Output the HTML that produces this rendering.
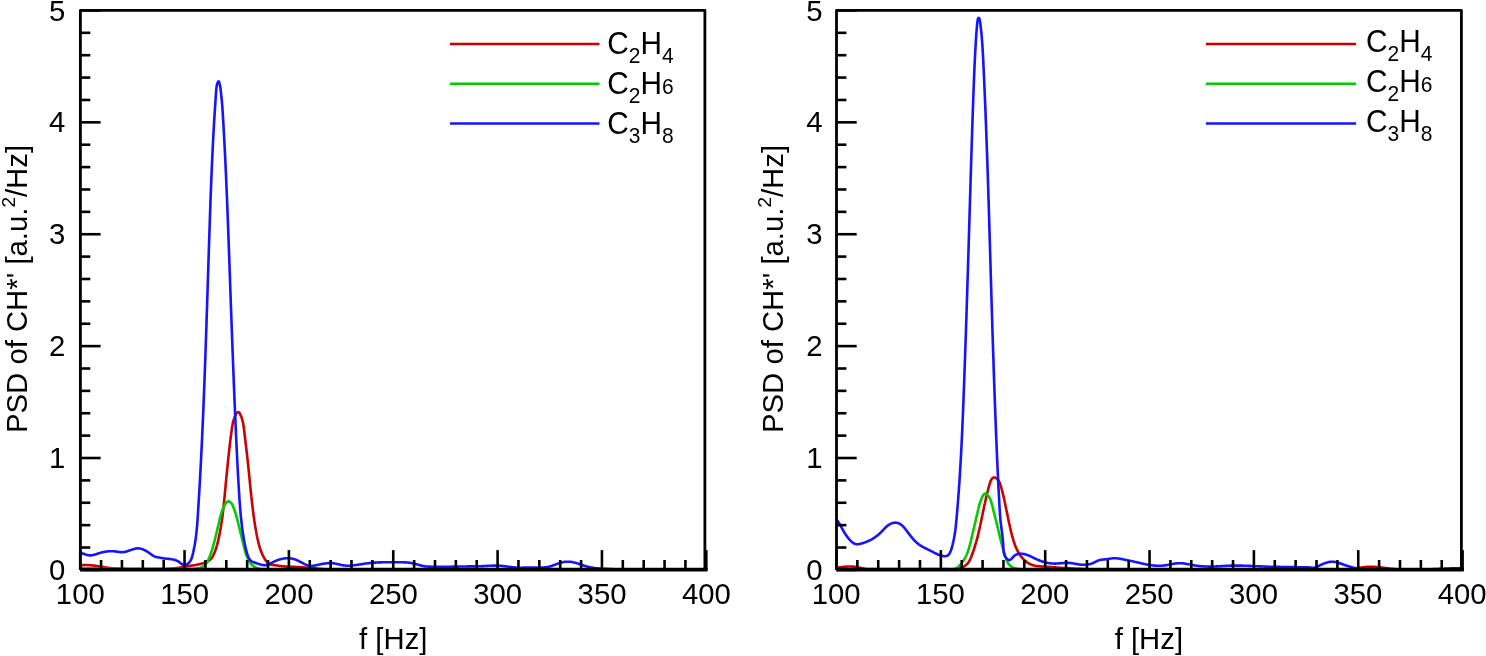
<!DOCTYPE html><html><head><meta charset="utf-8"><style>html,body{margin:0;padding:0;background:#fff;}svg{display:block;will-change:transform;}text{font-family:"Liberation Sans",sans-serif;fill:#000;}</style></head><body>
<svg width="1486" height="656" viewBox="0 0 1486 656">
<rect x="0" y="0" width="1486" height="656" fill="#fff"/>
<g fill="none" stroke-width="2.6" stroke-linejoin="round" stroke-linecap="round">
<path stroke="#cc0000" d="M80.8,565.3L81.3,565.2L81.8,565.2L82.3,565.2L82.8,565.1L83.3,565.1L83.8,565.1L84.3,565.1L84.8,565.0L85.3,565.0L85.8,565.0L86.3,565.0L86.8,565.1L87.3,565.1L87.8,565.1L88.3,565.1L88.8,565.1L89.3,565.2L89.8,565.2L90.3,565.2L90.7,565.3L91.2,565.3L91.7,565.4L92.2,565.4L92.7,565.5L93.2,565.5L93.7,565.6L94.2,565.6L94.7,565.7L95.2,565.8L95.7,565.8L96.2,565.9L96.7,566.0L97.2,566.1L97.7,566.1L98.2,566.2L98.7,566.3L99.2,566.4L99.7,566.5L100.2,566.5L100.7,566.6L101.2,566.7L101.7,566.8L102.2,566.9L102.7,566.9L103.1,567.0L103.6,567.1L104.1,567.2L104.6,567.3L105.1,567.3L105.6,567.4L106.1,567.5L106.6,567.6L107.1,567.7L107.6,567.7L108.1,567.8L108.6,567.9L109.1,567.9L109.6,568.0L110.1,568.1L110.6,568.1L111.1,568.2L111.6,568.3L112.1,568.3L112.6,568.4L113.1,568.4L113.6,568.5L114.1,568.5L114.6,568.6L115.1,568.6L115.6,568.7L116.1,568.7L116.5,568.7L117.0,568.8L117.5,568.8L118.0,568.8L118.5,568.9L119.0,568.9L119.5,568.9L120.0,568.9L120.5,569.0L121.0,569.0L121.5,569.0L122.0,569.0L122.5,569.1L123.0,569.1L123.5,569.1L124.0,569.1L124.5,569.1L125.0,569.1L125.5,569.2L126.0,569.2L126.5,569.2L127.0,569.2L127.5,569.2L128.0,569.2L128.5,569.2L129.0,569.2L129.5,569.2L130.0,569.2L130.5,569.2L131.0,569.2L131.5,569.3L132.0,569.3L132.5,569.3L133.0,569.3L133.5,569.3L134.0,569.3L134.5,569.3L135.0,569.3L135.5,569.3L136.0,569.3L136.5,569.3L137.0,569.3L137.5,569.3L138.0,569.3L138.5,569.3L139.0,569.3L139.5,569.3L140.0,569.3L140.5,569.3L141.0,569.3L141.5,569.3L142.0,569.4L142.5,569.4L143.0,569.4L143.5,569.4L144.0,569.4L144.5,569.4L145.0,569.4L145.5,569.4L146.0,569.4L146.5,569.4L147.0,569.4L147.5,569.5L148.0,569.5L148.5,569.5L149.0,569.5L149.5,569.5L150.0,569.5L150.5,569.5L151.0,569.5L151.5,569.5L152.0,569.5L152.5,569.5L153.0,569.5L153.5,569.6L154.0,569.6L154.5,569.6L155.0,569.6L155.5,569.6L156.0,569.6L156.6,569.6L157.1,569.6L157.6,569.6L158.1,569.6L158.6,569.6L159.1,569.6L159.6,569.5L160.1,569.5L160.6,569.5L161.1,569.5L161.6,569.5L162.0,569.5L162.5,569.5L163.0,569.5L163.5,569.4L164.0,569.4L164.5,569.4L165.0,569.4L165.5,569.3L166.0,569.3L166.5,569.3L167.0,569.3L167.5,569.2L168.0,569.2L168.5,569.1L169.0,569.1L169.5,569.1L170.0,569.0L170.5,569.0L171.0,568.9L171.5,568.9L172.0,568.8L172.5,568.7L173.0,568.7L173.5,568.6L174.0,568.5L174.4,568.5L174.9,568.4L175.4,568.3L175.9,568.2L176.4,568.2L176.9,568.1L177.4,568.0L177.9,567.9L178.4,567.8L178.9,567.7L179.4,567.7L179.8,567.6L180.3,567.5L180.8,567.4L181.3,567.3L181.8,567.2L182.3,567.1L182.8,567.0L183.3,567.0L183.8,566.9L184.3,566.8L184.8,566.7L185.3,566.6L185.8,566.5L186.2,566.5L186.7,566.4L187.2,566.3L187.7,566.2L188.2,566.2L188.7,566.1L189.2,566.0L189.7,565.9L190.2,565.9L190.7,565.8L191.2,565.7L191.7,565.6L192.2,565.6L192.7,565.5L193.2,565.4L193.7,565.3L194.2,565.3L194.7,565.2L195.2,565.1L195.6,565.0L196.1,564.9L196.6,564.8L197.1,564.7L197.6,564.6L198.1,564.5L198.6,564.4L199.1,564.3L199.6,564.2L200.0,564.1L200.5,563.9L201.0,563.8L201.5,563.7L202.0,563.6L202.4,563.4L202.9,563.3L203.4,563.1L203.9,563.0L204.3,562.8L204.8,562.6L205.3,562.5L205.7,562.3L206.2,562.1L206.6,561.9L207.1,561.7L207.5,561.4L207.9,561.2L208.3,560.9L208.8,560.7L209.2,560.4L209.5,560.1L209.9,559.8L210.3,559.5L210.6,559.2L211.0,558.8L211.3,558.5L211.6,558.1L211.9,557.7L212.2,557.3L212.4,556.9L212.7,556.4L212.9,556.0L213.2,555.5L213.4,555.1L213.6,554.6L213.8,554.1L214.0,553.7L214.2,553.2L214.4,552.7L214.6,552.3L214.8,551.8L215.0,551.3L215.2,550.8L215.3,550.3L215.5,549.9L215.7,549.4L215.8,548.9L216.0,548.4L216.2,548.0L216.3,547.5L216.5,547.0L216.6,546.5L216.7,546.0L216.9,545.6L217.0,545.1L217.1,544.6L217.3,544.1L217.4,543.6L217.5,543.2L217.7,542.7L217.8,542.2L217.9,541.7L218.0,541.2L218.1,540.7L218.2,540.3L218.4,539.8L218.5,539.3L218.6,538.8L218.7,538.3L218.8,537.8L218.9,537.3L219.0,536.8L219.1,536.4L219.2,535.9L219.3,535.4L219.4,534.9L219.5,534.4L219.6,533.9L219.7,533.4L219.8,532.9L219.9,532.5L220.0,532.0L220.1,531.5L220.2,531.0L220.3,530.5L220.3,530.0L220.4,529.5L220.5,529.0L220.6,528.5L220.7,528.0L220.8,527.6L220.9,527.1L220.9,526.6L221.0,526.1L221.1,525.6L221.2,525.1L221.3,524.6L221.3,524.1L221.4,523.6L221.5,523.1L221.6,522.6L221.6,522.1L221.7,521.6L221.8,521.1L221.8,520.7L221.9,520.2L222.0,519.7L222.1,519.2L222.1,518.7L222.2,518.2L222.3,517.7L222.3,517.2L222.4,516.7L222.5,516.2L222.5,515.7L222.6,515.2L222.6,514.7L222.7,514.2L222.8,513.7L222.8,513.2L222.9,512.7L222.9,512.2L223.0,511.7L223.1,511.2L223.1,510.7L223.2,510.2L223.2,509.7L223.3,509.2L223.4,508.7L223.4,508.3L223.5,507.8L223.5,507.3L223.6,506.8L223.6,506.3L223.7,505.8L223.7,505.3L223.8,504.8L223.8,504.3L223.9,503.8L223.9,503.3L224.0,502.8L224.0,502.3L224.1,501.8L224.1,501.3L224.2,500.8L224.2,500.3L224.3,499.8L224.3,499.3L224.4,498.8L224.4,498.3L224.5,497.8L224.5,497.3L224.6,496.8L224.6,496.3L224.7,495.8L224.7,495.3L224.8,494.8L224.8,494.3L224.9,493.8L224.9,493.3L225.0,492.8L225.0,492.3L225.0,491.8L225.1,491.3L225.1,490.8L225.2,490.3L225.2,489.8L225.3,489.3L225.3,488.8L225.4,488.3L225.4,487.8L225.5,487.3L225.5,486.8L225.6,486.3L225.6,485.8L225.6,485.3L225.7,484.8L225.7,484.3L225.8,483.8L225.8,483.3L225.9,482.8L225.9,482.3L226.0,481.8L226.0,481.3L226.1,480.8L226.1,480.3L226.2,479.8L226.2,479.3L226.3,478.8L226.3,478.3L226.3,477.8L226.4,477.3L226.4,476.8L226.5,476.4L226.5,475.9L226.6,475.4L226.6,474.9L226.7,474.4L226.7,473.9L226.8,473.4L226.8,472.9L226.9,472.4L226.9,471.9L227.0,471.4L227.0,470.9L227.1,470.4L227.1,469.9L227.2,469.4L227.2,468.9L227.3,468.4L227.3,467.9L227.4,467.4L227.4,466.9L227.5,466.4L227.5,465.9L227.6,465.4L227.6,464.9L227.7,464.4L227.7,463.9L227.8,463.4L227.8,462.9L227.9,462.4L227.9,461.9L228.0,461.4L228.0,460.9L228.1,460.4L228.1,459.9L228.2,459.4L228.2,458.9L228.3,458.5L228.3,458.0L228.4,457.5L228.4,457.0L228.5,456.5L228.6,456.0L228.6,455.5L228.7,455.0L228.7,454.5L228.8,454.0L228.8,453.5L228.9,453.0L228.9,452.5L229.0,452.0L229.0,451.5L229.1,451.0L229.2,450.5L229.2,450.0L229.3,449.5L229.3,449.0L229.4,448.5L229.4,448.0L229.5,447.5L229.6,447.0L229.6,446.5L229.7,446.0L229.7,445.5L229.8,445.1L229.8,444.6L229.9,444.1L230.0,443.6L230.0,443.1L230.1,442.6L230.1,442.1L230.2,441.6L230.3,441.1L230.3,440.6L230.4,440.1L230.5,439.6L230.5,439.1L230.6,438.6L230.6,438.1L230.7,437.6L230.8,437.1L230.8,436.6L230.9,436.1L231.0,435.6L231.0,435.1L231.1,434.6L231.1,434.1L231.2,433.7L231.3,433.2L231.3,432.7L231.4,432.2L231.5,431.7L231.5,431.2L231.6,430.7L231.7,430.2L231.7,429.7L231.8,429.2L231.9,428.7L232.0,428.2L232.0,427.7L232.1,427.2L232.2,426.7L232.3,426.2L232.3,425.7L232.4,425.2L232.5,424.8L232.6,424.3L232.7,423.8L232.8,423.3L232.9,422.8L233.0,422.3L233.1,421.8L233.3,421.3L233.4,420.8L233.5,420.4L233.7,419.9L233.8,419.4L234.0,418.9L234.2,418.4L234.3,418.0L234.5,417.5L234.7,417.0L234.9,416.5L235.1,416.1L235.4,415.6L235.6,415.1L235.8,414.7L236.1,414.2L236.4,413.7L236.6,413.3L236.9,412.9L237.3,412.5L237.6,412.3L238.0,412.1L238.3,412.1L238.7,412.2L239.0,412.4L239.3,412.7L239.6,413.1L239.8,413.5L240.1,414.0L240.3,414.5L240.5,414.9L240.7,415.4L240.9,415.9L241.1,416.3L241.3,416.8L241.5,417.3L241.7,417.8L241.8,418.3L242.0,418.7L242.1,419.2L242.3,419.7L242.4,420.2L242.5,420.7L242.6,421.2L242.8,421.7L242.9,422.1L243.0,422.6L243.1,423.1L243.2,423.6L243.2,424.1L243.3,424.6L243.4,425.1L243.5,425.6L243.6,426.1L243.6,426.6L243.7,427.1L243.8,427.6L243.8,428.1L243.9,428.6L244.0,429.1L244.0,429.6L244.1,430.0L244.1,430.5L244.2,431.0L244.3,431.5L244.3,432.0L244.4,432.5L244.4,433.0L244.5,433.5L244.6,434.0L244.6,434.5L244.7,435.0L244.7,435.5L244.8,436.0L244.9,436.5L244.9,437.0L245.0,437.5L245.0,438.0L245.1,438.5L245.2,439.0L245.2,439.5L245.3,440.0L245.3,440.5L245.4,441.0L245.5,441.5L245.5,442.0L245.6,442.5L245.6,443.0L245.7,443.4L245.8,443.9L245.8,444.4L245.9,444.9L245.9,445.4L246.0,445.9L246.1,446.4L246.1,446.9L246.2,447.4L246.2,447.9L246.3,448.4L246.4,448.9L246.4,449.4L246.5,449.9L246.5,450.4L246.6,450.9L246.6,451.4L246.7,451.9L246.8,452.4L246.8,452.9L246.9,453.4L246.9,453.9L247.0,454.4L247.0,454.9L247.1,455.4L247.1,455.9L247.2,456.4L247.3,456.9L247.3,457.4L247.4,457.8L247.4,458.3L247.5,458.8L247.5,459.3L247.6,459.8L247.6,460.3L247.7,460.8L247.7,461.3L247.8,461.8L247.9,462.3L247.9,462.8L248.0,463.3L248.0,463.8L248.1,464.3L248.1,464.8L248.2,465.3L248.2,465.8L248.3,466.3L248.3,466.8L248.4,467.3L248.4,467.8L248.5,468.3L248.5,468.8L248.6,469.3L248.6,469.8L248.7,470.3L248.7,470.8L248.8,471.3L248.8,471.8L248.9,472.3L248.9,472.8L249.0,473.3L249.0,473.8L249.1,474.3L249.1,474.8L249.2,475.3L249.2,475.8L249.3,476.3L249.3,476.7L249.4,477.2L249.4,477.7L249.5,478.2L249.5,478.7L249.6,479.2L249.6,479.7L249.7,480.2L249.7,480.7L249.8,481.2L249.8,481.7L249.9,482.2L249.9,482.7L250.0,483.2L250.0,483.7L250.1,484.2L250.1,484.7L250.2,485.2L250.2,485.7L250.3,486.2L250.3,486.7L250.4,487.2L250.4,487.7L250.5,488.2L250.5,488.7L250.6,489.2L250.6,489.7L250.7,490.2L250.7,490.7L250.8,491.2L250.8,491.7L250.9,492.2L250.9,492.7L251.0,493.2L251.0,493.7L251.1,494.2L251.1,494.7L251.2,495.2L251.2,495.7L251.3,496.2L251.4,496.6L251.4,497.1L251.5,497.6L251.5,498.1L251.6,498.6L251.6,499.1L251.7,499.6L251.7,500.1L251.8,500.6L251.8,501.1L251.9,501.6L252.0,502.1L252.0,502.6L252.1,503.1L252.1,503.6L252.2,504.1L252.2,504.6L252.3,505.1L252.4,505.6L252.4,506.1L252.5,506.6L252.5,507.1L252.6,507.6L252.7,508.1L252.7,508.6L252.8,509.1L252.8,509.6L252.9,510.1L253.0,510.6L253.0,511.1L253.1,511.5L253.2,512.0L253.2,512.5L253.3,513.0L253.4,513.5L253.4,514.0L253.5,514.5L253.5,515.0L253.6,515.5L253.7,516.0L253.7,516.5L253.8,517.0L253.9,517.5L254.0,518.0L254.0,518.5L254.1,519.0L254.2,519.5L254.2,520.0L254.3,520.5L254.4,521.0L254.5,521.4L254.5,521.9L254.6,522.4L254.7,522.9L254.8,523.4L254.8,523.9L254.9,524.4L255.0,524.9L255.1,525.4L255.1,525.9L255.2,526.4L255.3,526.9L255.4,527.4L255.5,527.9L255.6,528.4L255.6,528.9L255.7,529.3L255.8,529.8L255.9,530.3L256.0,530.8L256.1,531.3L256.2,531.8L256.3,532.3L256.3,532.8L256.4,533.3L256.5,533.8L256.6,534.3L256.7,534.8L256.8,535.2L256.9,535.7L257.0,536.2L257.1,536.7L257.2,537.2L257.3,537.7L257.4,538.2L257.5,538.7L257.6,539.2L257.7,539.7L257.8,540.1L258.0,540.6L258.1,541.1L258.2,541.6L258.3,542.1L258.4,542.6L258.5,543.1L258.7,543.6L258.8,544.0L258.9,544.5L259.0,545.0L259.2,545.5L259.3,546.0L259.4,546.5L259.6,546.9L259.7,547.4L259.9,547.9L260.0,548.4L260.2,548.8L260.3,549.3L260.5,549.8L260.7,550.3L260.8,550.7L261.0,551.2L261.2,551.7L261.4,552.1L261.6,552.6L261.7,553.0L261.9,553.5L262.1,554.0L262.3,554.4L262.6,554.9L262.8,555.3L263.0,555.8L263.2,556.2L263.5,556.7L263.7,557.1L263.9,557.5L264.2,558.0L264.4,558.4L264.7,558.8L265.0,559.3L265.2,559.7L265.5,560.1L265.8,560.5L266.1,560.9L266.4,561.3L266.7,561.7L267.1,562.1L267.4,562.5L267.7,562.8L268.1,563.2L268.4,563.5L268.8,563.8L269.2,564.1L269.7,564.3L270.1,564.4L270.6,564.6L271.1,564.7L271.6,564.8L272.1,564.9L272.6,564.9L273.1,565.0L273.6,565.0L274.1,565.1L274.6,565.2L275.1,565.2L275.6,565.3L276.1,565.4L276.6,565.4L277.1,565.5L277.6,565.6L278.1,565.7L278.6,565.7L279.1,565.8L279.6,565.9L280.1,566.0L280.6,566.0L281.0,566.1L281.5,566.2L282.0,566.2L282.5,566.3L283.0,566.3L283.5,566.4L284.0,566.4L284.5,566.5L285.0,566.5L285.5,566.5L286.0,566.6L286.5,566.6L287.0,566.6L287.5,566.6L288.0,566.7L288.5,566.7L289.0,566.7L289.5,566.7L290.0,566.7L290.5,566.8L291.0,566.8L291.5,566.8L292.0,566.8L292.5,566.8L293.0,566.8L293.5,566.9L294.0,566.9L294.5,566.9L295.0,566.9L295.5,566.9L296.0,567.0L296.5,567.0L297.0,567.0L297.5,567.0L298.0,567.0L298.5,567.1L299.0,567.1L299.5,567.1L300.0,567.1L300.5,567.2L301.0,567.2L301.5,567.2L302.0,567.3L302.5,567.3L303.0,567.3L303.5,567.4L304.0,567.4L304.5,567.4L305.0,567.5L305.5,567.5L306.0,567.5L306.5,567.6L307.0,567.6L307.5,567.7L308.0,567.7L308.5,567.7L309.0,567.8L309.5,567.8L310.0,567.9L310.5,567.9L311.0,568.0L311.5,568.0L312.0,568.1L312.5,568.1L312.9,568.2L313.4,568.2L313.9,568.3L314.4,568.3L314.9,568.4L315.4,568.4L315.9,568.5L316.4,568.5L316.9,568.6L317.4,568.6L317.9,568.7L318.4,568.7L318.9,568.8L319.4,568.8L319.9,568.8L320.4,568.9L320.9,568.9L321.4,569.0L321.9,569.0L322.4,569.0L322.9,569.1L323.4,569.1L323.9,569.1L324.4,569.2L324.9,569.2L325.4,569.2L325.9,569.3L326.4,569.3L326.9,569.3L327.4,569.4L327.9,569.4L328.4,569.4L328.9,569.4L329.4,569.4L329.9,569.5L330.4,569.5L330.9,569.5L331.4,569.5L331.9,569.5L332.4,569.5L332.9,569.6L333.4,569.6L333.9,569.6L334.4,569.6L334.9,569.6L335.4,569.6L335.9,569.6L336.4,569.6L336.9,569.6L337.4,569.6L337.9,569.7L338.4,569.7L338.9,569.7L339.4,569.7L339.9,569.7L340.4,569.7L340.9,569.7L341.4,569.7L341.9,569.7L342.4,569.7L342.9,569.7L343.4,569.7L343.9,569.7L344.4,569.7L344.9,569.7L345.4,569.7L345.9,569.7L346.4,569.7L346.9,569.7L347.4,569.7L347.9,569.7L348.4,569.7L348.9,569.7L349.4,569.7L349.9,569.7L350.4,569.7L350.9,569.7L351.4,569.7L351.9,569.7L352.4,569.7L352.9,569.7L353.4,569.7L353.9,569.7L354.4,569.6L354.9,569.6L355.4,569.6L355.9,569.6L356.4,569.6L356.9,569.6L357.4,569.6L357.9,569.6L358.4,569.6L358.9,569.6L359.4,569.6L359.9,569.6L360.4,569.6L360.9,569.6L361.4,569.6L361.9,569.6L362.4,569.6L362.9,569.6L363.4,569.6L363.9,569.6L364.4,569.6L364.9,569.6L365.4,569.6L365.9,569.6L366.4,569.6L366.9,569.6L367.4,569.6L367.9,569.6L368.4,569.6L368.9,569.6L369.4,569.6L369.9,569.6L370.4,569.6L370.9,569.6L371.4,569.6L371.9,569.6L372.4,569.6L372.9,569.6L373.4,569.6L373.9,569.6L374.4,569.6L374.9,569.6L375.4,569.6L375.9,569.6L376.4,569.6L376.9,569.6L377.4,569.6L377.9,569.6L378.4,569.6L378.9,569.6L379.4,569.6L379.9,569.6L380.4,569.6L380.9,569.6L381.4,569.6L381.9,569.6L382.4,569.6L382.9,569.6L383.4,569.6L383.9,569.6L384.4,569.6L384.9,569.6L385.4,569.6L385.9,569.6L386.4,569.6L386.9,569.6L387.4,569.6L387.9,569.6L388.4,569.6L388.9,569.6L389.4,569.6L389.9,569.6L390.4,569.6L390.9,569.6L391.4,569.6L391.9,569.6L392.4,569.6L392.9,569.6L393.4,569.6L393.9,569.6L394.4,569.6L394.9,569.6L395.4,569.6L395.9,569.6L396.4,569.6L396.9,569.6L397.4,569.6L397.9,569.6L398.4,569.6L398.9,569.6L399.4,569.6L399.9,569.6L400.4,569.6L400.9,569.6L401.4,569.6L401.9,569.6L402.4,569.6L402.9,569.6L403.4,569.6L403.9,569.6L404.4,569.6L404.9,569.6L405.4,569.6L405.9,569.6L406.4,569.6L406.9,569.6L407.4,569.6L407.9,569.6L408.4,569.6L408.9,569.6L409.4,569.6L409.9,569.6L410.4,569.6L410.9,569.6L411.4,569.6L411.9,569.6L412.4,569.6L412.9,569.6L413.4,569.6L413.9,569.6L414.4,569.6L414.9,569.6L415.4,569.6L415.9,569.6L416.4,569.6L416.9,569.6L417.4,569.6L417.9,569.6L418.4,569.6L418.9,569.6L419.4,569.6L419.9,569.6L420.4,569.6L420.9,569.6L421.4,569.6L421.9,569.6L422.4,569.6L422.9,569.6L423.4,569.6L423.9,569.6L424.4,569.6L424.9,569.6L425.4,569.6L425.9,569.6L426.4,569.6L426.9,569.6L427.4,569.6L427.9,569.6L428.4,569.6L428.9,569.6L429.4,569.6L429.9,569.6L430.4,569.6L430.9,569.6L431.4,569.6L431.9,569.6L432.4,569.6L432.9,569.6L433.4,569.6L433.9,569.6L434.4,569.6L434.9,569.6L435.4,569.6L435.9,569.6L436.4,569.6L436.9,569.6L437.4,569.6L437.9,569.6L438.4,569.6L438.9,569.6L439.4,569.6L439.9,569.6L440.4,569.6L440.9,569.6L441.4,569.6L441.9,569.6L442.4,569.6L442.9,569.6L443.4,569.6L443.9,569.6L444.4,569.6L444.9,569.6L445.4,569.6L445.9,569.6L446.4,569.6L446.9,569.6L447.4,569.6L447.9,569.6L448.4,569.6L448.9,569.6L449.4,569.6L449.9,569.6L450.4,569.6L450.9,569.6L451.4,569.6L451.9,569.6L452.4,569.6L452.9,569.6L453.4,569.6L453.9,569.6L454.4,569.6L454.9,569.6L455.4,569.6L455.9,569.6L456.4,569.6L456.9,569.6L457.4,569.6L457.9,569.6L458.4,569.6L458.9,569.6L459.4,569.6L459.9,569.6L460.4,569.6L460.9,569.6L461.4,569.6L461.9,569.6L462.4,569.6L462.9,569.6L463.4,569.6L463.9,569.6L464.4,569.6L464.9,569.6L465.4,569.6L465.9,569.6L466.4,569.6L466.9,569.6L467.4,569.6L467.9,569.6L468.4,569.6L468.9,569.6L469.4,569.6L469.9,569.6L470.4,569.6L470.9,569.6L471.4,569.6L471.9,569.6L472.4,569.6L472.9,569.6L473.4,569.6L473.9,569.6L474.4,569.6L474.9,569.6L475.4,569.6L475.9,569.6L476.4,569.6L476.9,569.6L477.4,569.6L477.9,569.6L478.4,569.6L478.9,569.6L479.4,569.6L479.9,569.6L480.4,569.6L480.9,569.6L481.4,569.6L481.9,569.6L482.4,569.6L482.9,569.6L483.4,569.6L483.9,569.6L484.4,569.6L484.9,569.6L485.4,569.6L485.9,569.6L486.4,569.6L486.9,569.6L487.4,569.6L487.9,569.6L488.4,569.6L488.9,569.6L489.4,569.6L489.9,569.6L490.4,569.6L490.9,569.6L491.4,569.6L491.9,569.6L492.4,569.6L492.9,569.6L493.4,569.6L493.9,569.6L494.4,569.6L494.9,569.6L495.4,569.6L495.9,569.6L496.4,569.6L496.9,569.6L497.4,569.6L497.9,569.6L498.4,569.6L498.9,569.6L499.4,569.6L499.9,569.6L500.4,569.6L500.9,569.6L501.4,569.6L501.9,569.6L502.4,569.6L502.9,569.6L503.4,569.6L503.9,569.6L504.4,569.6L504.9,569.6L505.4,569.6L505.9,569.6L506.4,569.6L506.9,569.6L507.4,569.6L507.9,569.6L508.4,569.6L508.9,569.6L509.4,569.6L509.9,569.6L510.4,569.6L510.9,569.6L511.4,569.6L511.9,569.6L512.4,569.6L512.9,569.6L513.4,569.6L513.9,569.6L514.4,569.6L514.9,569.6L515.4,569.6L515.9,569.6L516.4,569.6L516.9,569.6L517.4,569.6L517.9,569.6L518.4,569.6L518.9,569.6L519.4,569.6L519.9,569.6L520.4,569.6L520.9,569.6L521.4,569.6L521.9,569.6L522.4,569.6L522.9,569.6L523.4,569.6L523.9,569.6L524.4,569.6L524.9,569.6L525.4,569.6L525.9,569.6L526.4,569.6L526.9,569.6L527.4,569.6L527.9,569.6L528.4,569.6L528.9,569.6L529.4,569.6L529.9,569.6L530.4,569.6L530.9,569.6L531.4,569.6L531.9,569.6L532.4,569.6L532.9,569.6L533.4,569.6L533.9,569.6L534.4,569.6L534.9,569.6L535.4,569.6L535.9,569.6L536.4,569.6L536.9,569.6L537.4,569.6L537.9,569.6L538.4,569.6L538.9,569.6L539.4,569.6L539.9,569.6L540.4,569.6L540.9,569.6L541.4,569.6L541.9,569.6L542.4,569.6L542.9,569.6L543.4,569.6L543.9,569.6L544.4,569.6L544.9,569.6L545.4,569.6L545.9,569.6L546.4,569.6L546.9,569.6L547.4,569.6L547.9,569.6L548.4,569.6L548.9,569.6L549.4,569.6L549.9,569.6L550.4,569.6L550.9,569.6L551.4,569.6L551.9,569.6L552.4,569.6L552.9,569.6L553.4,569.6L553.9,569.6L554.4,569.6L554.9,569.6L555.4,569.6L555.9,569.6L556.4,569.6L556.9,569.6L557.4,569.6L557.9,569.6L558.4,569.6L558.9,569.6L559.4,569.6L559.9,569.6L560.4,569.6L560.9,569.6L561.4,569.6L561.9,569.6L562.4,569.6L562.9,569.6L563.4,569.6L563.9,569.6L564.4,569.6L564.9,569.6L565.4,569.6L565.9,569.6L566.4,569.6L566.9,569.6L567.4,569.6L567.9,569.6L568.4,569.6L568.9,569.6L569.4,569.6L569.9,569.6L570.4,569.6L570.9,569.6L571.4,569.6L571.9,569.6L572.4,569.6L572.9,569.6L573.4,569.6L573.9,569.6L574.4,569.6L574.9,569.6L575.4,569.6L575.9,569.6L576.4,569.6L576.9,569.6L577.4,569.6L577.9,569.6L578.4,569.6L578.9,569.6L579.4,569.6L579.9,569.6L580.4,569.6L580.9,569.6L581.4,569.6L581.9,569.6L582.4,569.6L582.9,569.6L583.4,569.6L583.9,569.6L584.4,569.6L584.9,569.6L585.4,569.6L585.9,569.6L586.4,569.6L586.9,569.6L587.4,569.6L587.9,569.6L588.4,569.6L588.9,569.6L589.4,569.6L589.9,569.6L590.4,569.6L590.9,569.6L591.4,569.6L591.9,569.6L592.4,569.6L592.9,569.6L593.4,569.6L593.9,569.6L594.4,569.6L594.9,569.6L595.4,569.6L595.9,569.6L596.4,569.6L596.9,569.6L597.4,569.6L597.9,569.6L598.4,569.6L598.9,569.6L599.4,569.6L599.9,569.6L600.4,569.6L600.9,569.6L601.4,569.6L601.9,569.6L602.4,569.6L602.9,569.6L603.4,569.6L603.9,569.6L604.4,569.6L604.9,569.6L605.4,569.6L605.9,569.6L606.4,569.6L606.9,569.6L607.4,569.6L607.9,569.6L608.4,569.6L608.9,569.6L609.4,569.6L609.9,569.6L610.4,569.6L610.9,569.6L611.4,569.6L611.9,569.6L612.4,569.6L612.9,569.6L613.4,569.6L613.9,569.6L614.4,569.6L614.9,569.6L615.4,569.6L615.9,569.6L616.4,569.6L616.9,569.6L617.4,569.6L617.9,569.6L618.4,569.6L618.9,569.6L619.4,569.6L619.9,569.6L620.4,569.6L620.9,569.6L621.4,569.6L621.9,569.6L622.4,569.6L622.9,569.6L623.4,569.6L623.9,569.6L624.4,569.6L624.9,569.6L625.4,569.6L625.9,569.6L626.4,569.6L626.9,569.6L627.4,569.6L627.9,569.6L628.4,569.6L628.9,569.6L629.4,569.6L629.9,569.6L630.4,569.6L630.9,569.6L631.4,569.6L631.9,569.6L632.4,569.6L632.9,569.6L633.4,569.6L633.9,569.6L634.4,569.6L634.9,569.6L635.4,569.6L635.9,569.6L636.4,569.6L636.9,569.6L637.4,569.6L637.9,569.6L638.4,569.6L638.9,569.6L639.4,569.6L639.9,569.6L640.4,569.6L640.9,569.6L641.4,569.6L641.9,569.6L642.4,569.6L642.9,569.6L643.4,569.6L643.9,569.6L644.4,569.6L644.9,569.6L645.4,569.6L645.9,569.6L646.4,569.6L646.9,569.6L647.4,569.6L647.9,569.6L648.4,569.6L648.9,569.6L649.4,569.6L649.9,569.6L650.4,569.6L650.9,569.6L651.4,569.6L651.9,569.6L652.4,569.6L652.9,569.6L653.4,569.6L653.9,569.6L654.4,569.6L654.9,569.6L655.4,569.6L655.9,569.6L656.4,569.6L656.9,569.6L657.4,569.6L657.9,569.6L658.4,569.6L658.9,569.6L659.4,569.6L659.9,569.6L660.4,569.6L660.9,569.6L661.4,569.6L661.9,569.6L662.4,569.6L662.9,569.6L663.4,569.6L663.9,569.6L664.4,569.6L664.9,569.6L665.4,569.6L665.9,569.6L666.4,569.6L666.9,569.6L667.4,569.6L667.9,569.6L668.4,569.6L668.9,569.6L669.4,569.6L669.9,569.6L670.4,569.6L670.9,569.6L671.4,569.6L671.9,569.6L672.4,569.6L672.9,569.6L673.4,569.6L673.9,569.6L674.4,569.6L674.9,569.6L675.4,569.6L675.9,569.6L676.4,569.6L676.9,569.6L677.4,569.6L677.9,569.6L678.4,569.6L678.9,569.6L679.4,569.6L679.9,569.6L680.4,569.6L680.9,569.6L681.4,569.6L681.9,569.6L682.4,569.6L682.9,569.6L683.4,569.6L683.9,569.6L684.4,569.6L684.9,569.6L685.4,569.6L685.9,569.6L686.4,569.6L686.9,569.6L687.4,569.6L687.9,569.6L688.4,569.6L688.9,569.6L689.4,569.6L689.9,569.6L690.4,569.6L690.9,569.6L691.4,569.6L691.9,569.6L692.4,569.6L692.9,569.6L693.4,569.6L693.9,569.6L694.4,569.6L694.9,569.6L695.4,569.6L695.9,569.6L696.4,569.6L696.9,569.6L697.4,569.6L697.9,569.6L698.4,569.6L698.9,569.6L699.4,569.6L699.9,569.6L700.4,569.6L700.9,569.6L701.4,569.6L701.9,569.6L702.4,569.6L702.9,569.6L703.4,569.6L703.9,569.6L704.4,569.6L704.9,569.6L705.0,569.6"/>
<path stroke="#00cc00" d="M80.8,568.5L81.3,568.5L81.8,568.5L82.3,568.5L82.8,568.5L83.3,568.5L83.8,568.5L84.3,568.5L84.8,568.5L85.3,568.5L85.8,568.5L86.3,568.5L86.8,568.5L87.3,568.5L87.8,568.5L88.3,568.5L88.8,568.5L89.3,568.5L89.8,568.5L90.3,568.5L90.8,568.5L91.3,568.6L91.8,568.6L92.3,568.6L92.8,568.6L93.3,568.6L93.8,568.6L94.3,568.6L94.8,568.6L95.3,568.6L95.8,568.6L96.3,568.6L96.8,568.6L97.3,568.6L97.8,568.6L98.3,568.6L98.8,568.6L99.3,568.6L99.8,568.6L100.3,568.6L100.8,568.6L101.3,568.6L101.8,568.6L102.3,568.6L102.8,568.6L103.3,568.6L103.8,568.6L104.3,568.6L104.8,568.6L105.3,568.6L105.8,568.6L106.3,568.6L106.8,568.6L107.3,568.6L107.8,568.6L108.3,568.6L108.8,568.6L109.3,568.6L109.8,568.6L110.3,568.6L110.8,568.6L111.3,568.6L111.8,568.6L112.3,568.6L112.8,568.6L113.3,568.6L113.8,568.6L114.3,568.6L114.8,568.6L115.3,568.6L115.8,568.6L116.3,568.7L116.8,568.7L117.3,568.7L117.8,568.7L118.3,568.7L118.8,568.7L119.3,568.7L119.8,568.7L120.3,568.7L120.8,568.7L121.3,568.7L121.8,568.7L122.3,568.7L122.8,568.7L123.3,568.7L123.8,568.7L124.3,568.7L124.8,568.7L125.3,568.7L125.8,568.7L126.3,568.7L126.8,568.7L127.3,568.7L127.8,568.7L128.3,568.7L128.8,568.7L129.3,568.7L129.8,568.7L130.3,568.7L130.8,568.7L131.3,568.7L131.8,568.7L132.3,568.7L132.8,568.7L133.3,568.7L133.8,568.7L134.3,568.7L134.8,568.7L135.3,568.7L135.8,568.7L136.3,568.7L136.8,568.7L137.3,568.7L137.8,568.7L138.3,568.7L138.8,568.7L139.3,568.7L139.8,568.8L140.3,568.8L140.8,568.8L141.3,568.8L141.8,568.8L142.3,568.8L142.8,568.8L143.3,568.8L143.8,568.8L144.3,568.8L144.8,568.8L145.3,568.8L145.8,568.8L146.3,568.8L146.8,568.8L147.3,568.8L147.8,568.8L148.3,568.8L148.8,568.8L149.3,568.8L149.8,568.8L150.3,568.8L150.8,568.8L151.3,568.8L151.8,568.8L152.3,568.8L152.8,568.8L153.3,568.8L153.8,568.8L154.3,568.8L154.8,568.8L155.3,568.8L155.8,568.8L156.3,568.8L156.8,568.8L157.3,568.8L157.8,568.8L158.3,568.8L158.8,568.8L159.3,568.8L159.8,568.8L160.3,568.9L160.8,568.9L161.3,568.9L161.8,568.9L162.3,568.9L162.8,568.9L163.3,568.9L163.8,568.9L164.3,568.9L164.8,568.9L165.3,568.9L165.8,568.8L166.3,568.8L166.8,568.8L167.3,568.8L167.8,568.8L168.3,568.8L168.8,568.8L169.3,568.8L169.8,568.8L170.3,568.8L170.8,568.8L171.3,568.8L171.8,568.8L172.3,568.8L172.8,568.8L173.3,568.8L173.9,568.8L174.4,568.8L174.9,568.8L175.4,568.8L175.9,568.8L176.4,568.8L176.9,568.8L177.4,568.8L177.9,568.8L178.4,568.8L178.9,568.8L179.4,568.8L179.9,568.8L180.4,568.8L180.8,568.8L181.3,568.8L181.8,568.8L182.3,568.9L182.8,568.9L183.3,568.9L183.8,568.9L184.3,568.9L184.8,568.9L185.3,568.9L185.7,568.9L186.2,569.0L186.7,569.0L187.2,569.0L187.7,569.0L188.2,569.0L188.7,569.0L189.1,569.0L189.6,569.0L190.1,569.0L190.6,569.0L191.1,569.0L191.6,569.0L192.1,569.0L192.7,569.0L193.2,568.9L193.7,568.9L194.2,568.9L194.7,568.8L195.3,568.8L195.8,568.7L196.3,568.6L196.9,568.6L197.4,568.5L198.0,568.4L198.5,568.3L199.0,568.2L199.5,568.0L200.0,567.9L200.5,567.7L201.0,567.5L201.5,567.3L201.9,567.1L202.4,566.9L202.8,566.6L203.2,566.4L203.6,566.1L204.0,565.8L204.3,565.5L204.7,565.2L205.0,564.9L205.4,564.5L205.7,564.2L206.0,563.8L206.3,563.4L206.5,563.0L206.8,562.6L207.1,562.2L207.3,561.8L207.6,561.4L207.8,560.9L208.0,560.5L208.3,560.1L208.5,559.6L208.7,559.1L208.9,558.7L209.1,558.2L209.3,557.7L209.4,557.3L209.6,556.8L209.8,556.3L210.0,555.8L210.2,555.4L210.3,554.9L210.5,554.4L210.7,553.9L210.8,553.4L211.0,553.0L211.1,552.5L211.3,552.0L211.5,551.5L211.6,551.0L211.8,550.6L211.9,550.1L212.1,549.6L212.2,549.1L212.4,548.6L212.5,548.2L212.6,547.7L212.8,547.2L212.9,546.7L213.1,546.2L213.2,545.7L213.3,545.3L213.5,544.8L213.6,544.3L213.8,543.8L213.9,543.3L214.0,542.9L214.1,542.4L214.3,541.9L214.4,541.4L214.5,540.9L214.7,540.4L214.8,540.0L214.9,539.5L215.0,539.0L215.1,538.5L215.3,538.0L215.4,537.5L215.5,537.1L215.6,536.6L215.7,536.1L215.9,535.6L216.0,535.1L216.1,534.6L216.2,534.2L216.3,533.7L216.5,533.2L216.6,532.7L216.7,532.2L216.8,531.7L216.9,531.2L217.0,530.8L217.1,530.3L217.3,529.8L217.4,529.3L217.5,528.8L217.6,528.3L217.7,527.9L217.8,527.4L217.9,526.9L218.0,526.4L218.2,525.9L218.3,525.4L218.4,524.9L218.5,524.4L218.6,524.0L218.7,523.5L218.8,523.0L219.0,522.5L219.1,522.0L219.2,521.5L219.3,521.0L219.4,520.6L219.5,520.1L219.6,519.6L219.8,519.1L219.9,518.6L220.0,518.1L220.1,517.6L220.2,517.1L220.4,516.6L220.5,516.2L220.6,515.7L220.8,515.2L220.9,514.7L221.0,514.2L221.2,513.7L221.3,513.3L221.4,512.8L221.6,512.3L221.7,511.8L221.9,511.3L222.1,510.9L222.2,510.4L222.4,509.9L222.6,509.4L222.8,509.0L223.0,508.5L223.2,508.0L223.4,507.6L223.6,507.1L223.8,506.7L224.0,506.2L224.3,505.8L224.5,505.3L224.7,504.9L225.0,504.4L225.3,504.0L225.5,503.6L225.8,503.1L226.1,502.7L226.4,502.4L226.8,502.1L227.1,501.8L227.5,501.6L227.9,501.4L228.3,501.4L228.7,501.4L229.1,501.5L229.5,501.7L230.0,501.9L230.3,502.2L230.7,502.5L231.1,502.9L231.4,503.3L231.7,503.7L232.0,504.1L232.2,504.6L232.5,505.1L232.7,505.6L232.9,506.1L233.1,506.6L233.3,507.1L233.5,507.6L233.7,508.0L233.9,508.5L234.1,509.0L234.3,509.5L234.4,509.9L234.6,510.4L234.8,510.9L234.9,511.3L235.1,511.8L235.2,512.3L235.4,512.7L235.5,513.2L235.7,513.7L235.8,514.1L235.9,514.6L236.1,515.1L236.2,515.5L236.3,516.0L236.5,516.5L236.6,516.9L236.7,517.4L236.9,517.9L237.0,518.4L237.1,518.9L237.3,519.3L237.4,519.8L237.5,520.3L237.6,520.8L237.8,521.3L237.9,521.8L238.0,522.3L238.1,522.7L238.3,523.2L238.4,523.7L238.5,524.2L238.6,524.7L238.7,525.2L238.9,525.7L239.0,526.2L239.1,526.7L239.2,527.1L239.3,527.6L239.5,528.1L239.6,528.6L239.7,529.1L239.8,529.6L239.9,530.1L240.0,530.6L240.2,531.1L240.3,531.5L240.4,532.0L240.5,532.5L240.6,533.0L240.8,533.5L240.9,534.0L241.0,534.5L241.1,535.0L241.2,535.4L241.4,535.9L241.5,536.4L241.6,536.9L241.7,537.4L241.8,537.9L242.0,538.4L242.1,538.8L242.2,539.3L242.3,539.8L242.4,540.3L242.6,540.8L242.7,541.3L242.8,541.7L242.9,542.2L243.0,542.7L243.2,543.2L243.3,543.7L243.4,544.1L243.5,544.6L243.6,545.1L243.7,545.6L243.9,546.1L244.0,546.6L244.1,547.0L244.2,547.5L244.3,548.0L244.4,548.5L244.5,549.0L244.7,549.4L244.8,549.9L244.9,550.4L245.0,550.9L245.2,551.4L245.3,551.9L245.5,552.4L245.6,552.9L245.8,553.4L245.9,553.9L246.1,554.4L246.3,554.9L246.4,555.3L246.6,555.8L246.8,556.3L247.0,556.8L247.2,557.3L247.4,557.8L247.6,558.2L247.8,558.7L248.1,559.2L248.3,559.6L248.5,560.1L248.8,560.5L249.0,561.0L249.3,561.4L249.6,561.8L249.8,562.2L250.1,562.6L250.4,563.0L250.7,563.4L251.0,563.8L251.3,564.2L251.7,564.5L252.0,564.8L252.3,565.2L252.7,565.5L253.1,565.8L253.4,566.1L253.8,566.3L254.2,566.6L254.6,566.9L255.0,567.1L255.4,567.3L255.8,567.5L256.2,567.7L256.7,567.9L257.1,568.0L257.6,568.2L258.0,568.3L258.5,568.5L258.9,568.6L259.4,568.7L259.9,568.8L260.4,568.9L260.9,569.0L261.4,569.0L261.9,569.1L262.4,569.2L262.9,569.2L263.4,569.3L263.9,569.3L264.4,569.4L264.9,569.4L265.4,569.4L265.9,569.4L266.4,569.5L267.0,569.5L267.5,569.5L268.0,569.5L268.5,569.5L269.0,569.5L269.6,569.5L270.1,569.5L270.6,569.5L271.1,569.5L271.6,569.6L272.1,569.6L272.7,569.6L273.2,569.6L273.7,569.6L274.2,569.6L274.7,569.6L275.2,569.6L275.7,569.6L276.2,569.6L276.7,569.6L277.2,569.6L277.7,569.6L278.2,569.6L278.7,569.6L279.2,569.6L279.7,569.6L280.2,569.6L280.8,569.6L281.3,569.6L281.8,569.6L282.3,569.6L282.8,569.6L283.3,569.6L283.8,569.6L284.3,569.6L284.7,569.6L285.2,569.6L285.7,569.6L286.2,569.6L286.7,569.6L287.2,569.6L287.7,569.6L288.2,569.6L288.7,569.6L289.2,569.6L289.7,569.6L290.2,569.6L290.7,569.6L291.2,569.6L291.7,569.6L292.2,569.6L292.7,569.6L293.2,569.6L293.7,569.6L294.2,569.6L294.7,569.6L295.2,569.6L295.7,569.6L296.2,569.6L296.7,569.6L297.2,569.6L297.7,569.6L298.2,569.6L298.7,569.6L299.2,569.6L299.7,569.6L300.2,569.6L300.7,569.6L301.2,569.6L301.7,569.6L302.2,569.6L302.7,569.6L303.2,569.6L303.7,569.6L304.2,569.6L304.7,569.6L305.2,569.6L305.7,569.6L306.2,569.6L306.7,569.6L307.2,569.6L307.7,569.6L308.2,569.6L308.7,569.6L309.2,569.6L309.7,569.6L310.2,569.6L310.7,569.6L311.2,569.6L311.7,569.6L312.2,569.6L312.7,569.6L313.2,569.6L313.7,569.6L314.2,569.6L314.7,569.6L315.2,569.6L315.7,569.6L316.2,569.6L316.7,569.6L317.2,569.6L317.7,569.6L318.2,569.6L318.7,569.6L319.2,569.6L319.7,569.6L320.2,569.6L320.7,569.6L321.2,569.6L321.7,569.6L322.2,569.6L322.7,569.6L323.2,569.6L323.7,569.6L324.1,569.6L324.6,569.6L325.1,569.6L325.6,569.6L326.1,569.6L326.6,569.6L327.1,569.6L327.6,569.6L328.1,569.6L328.6,569.6L329.1,569.6L329.6,569.6L330.1,569.6L330.6,569.6L331.1,569.6L331.6,569.6L332.1,569.6L332.6,569.6L333.1,569.6L333.6,569.6L334.1,569.6L334.6,569.6L335.1,569.6L335.6,569.6L336.1,569.6L336.6,569.6L337.1,569.6L337.6,569.6L338.1,569.6L338.6,569.6L339.1,569.6L339.6,569.6L340.1,569.6L340.6,569.6L341.1,569.6L341.6,569.6L342.1,569.6L342.6,569.6L343.1,569.6L343.6,569.6L344.1,569.6L344.6,569.6L345.1,569.6L345.6,569.6L346.1,569.6L346.6,569.6L347.1,569.6L347.6,569.6L348.1,569.6L348.6,569.6L349.1,569.6L349.6,569.6L350.1,569.6L350.6,569.6L351.1,569.6L351.6,569.6L352.1,569.6L352.6,569.6L353.1,569.6L353.6,569.6L354.1,569.6L354.6,569.6L355.1,569.6L355.6,569.6L356.1,569.6L356.6,569.6L357.1,569.6L357.6,569.6L358.1,569.6L358.6,569.6L359.1,569.6L359.6,569.6L360.1,569.6L360.6,569.6L361.1,569.6L361.6,569.6L362.1,569.6L362.6,569.6L363.1,569.6L363.6,569.6L364.1,569.6L364.6,569.6L365.1,569.6L365.6,569.6L366.1,569.6L366.6,569.6L367.1,569.6L367.6,569.6L368.1,569.6L368.6,569.6L369.1,569.6L369.6,569.6L370.1,569.6L370.6,569.6L371.1,569.6L371.6,569.6L372.1,569.6L372.6,569.6L373.1,569.6L373.6,569.6L374.1,569.6L374.6,569.6L375.1,569.6L375.6,569.6L376.1,569.6L376.6,569.6L377.1,569.6L377.6,569.6L378.1,569.6L378.6,569.6L379.1,569.6L379.6,569.6L380.1,569.6L380.6,569.6L381.1,569.6L381.6,569.6L382.1,569.6L382.6,569.6L383.1,569.6L383.6,569.6L384.1,569.6L384.6,569.6L385.1,569.6L385.6,569.6L386.1,569.6L386.6,569.6L387.1,569.6L387.6,569.6L388.1,569.6L388.6,569.6L389.1,569.6L389.6,569.6L390.1,569.6L390.6,569.6L391.1,569.6L391.6,569.6L392.1,569.6L392.6,569.6L393.1,569.6L393.6,569.6L394.1,569.6L394.6,569.6L395.1,569.6L395.6,569.6L396.1,569.6L396.6,569.6L397.1,569.6L397.6,569.6L398.1,569.6L398.6,569.6L399.1,569.6L399.6,569.6L400.1,569.6L400.6,569.6L401.1,569.6L401.6,569.6L402.1,569.6L402.6,569.6L403.1,569.6L403.6,569.6L404.1,569.6L404.6,569.6L405.1,569.6L405.6,569.6L406.1,569.6L406.6,569.6L407.1,569.6L407.6,569.6L408.1,569.6L408.6,569.6L409.1,569.6L409.6,569.6L410.1,569.6L410.6,569.6L411.1,569.6L411.6,569.6L412.1,569.6L412.6,569.6L413.1,569.6L413.6,569.6L414.1,569.6L414.6,569.6L415.1,569.6L415.6,569.6L416.1,569.6L416.6,569.6L417.1,569.6L417.6,569.6L418.1,569.6L418.6,569.6L419.1,569.6L419.6,569.6L420.1,569.6L420.6,569.6L421.1,569.6L421.6,569.6L422.1,569.6L422.6,569.6L423.1,569.6L423.6,569.6L424.1,569.6L424.6,569.6L425.1,569.6L425.6,569.6L426.1,569.6L426.6,569.6L427.1,569.6L427.6,569.6L428.1,569.6L428.6,569.6L429.1,569.6L429.6,569.6L430.1,569.6L430.6,569.6L431.1,569.6L431.6,569.6L432.1,569.6L432.6,569.6L433.1,569.6L433.6,569.6L434.1,569.6L434.6,569.6L435.1,569.6L435.6,569.6L436.1,569.6L436.6,569.6L437.1,569.6L437.6,569.6L438.1,569.6L438.6,569.6L439.1,569.6L439.7,569.6L440.2,569.6L440.7,569.6L441.2,569.6L441.7,569.6L442.2,569.6L442.7,569.6L443.2,569.6L443.7,569.6L444.2,569.6L444.7,569.6L445.2,569.6L445.7,569.6L446.2,569.6L446.7,569.6L447.2,569.6L447.7,569.6L448.2,569.6L448.7,569.6L449.2,569.6L449.7,569.6L450.2,569.6L450.7,569.6L451.2,569.6L451.7,569.6L452.2,569.6L452.7,569.6L453.2,569.6L453.7,569.6L454.2,569.6L454.7,569.6L455.2,569.6L455.7,569.6L456.2,569.6L456.7,569.6L457.2,569.6L457.7,569.6L458.2,569.6L458.7,569.6L459.2,569.6L459.7,569.6L460.2,569.6L460.7,569.6L461.2,569.6L461.7,569.6L462.2,569.6L462.7,569.6L463.2,569.6L463.7,569.6L464.2,569.6L464.7,569.6L465.2,569.6L465.7,569.6L466.2,569.6L466.7,569.6L467.2,569.6L467.7,569.6L468.2,569.6L468.7,569.6L469.2,569.6L469.7,569.6L470.2,569.6L470.7,569.6L471.2,569.6L471.7,569.6L472.2,569.6L472.7,569.6L473.2,569.6L473.7,569.6L474.2,569.6L474.7,569.6L475.2,569.6L475.7,569.6L476.2,569.6L476.7,569.6L477.2,569.6L477.7,569.6L478.2,569.6L478.7,569.6L479.2,569.6L479.7,569.6L480.2,569.6L480.7,569.6L481.2,569.6L481.7,569.6L482.2,569.6L482.7,569.6L483.2,569.6L483.7,569.6L484.2,569.6L484.7,569.6L485.2,569.6L485.7,569.6L486.2,569.6L486.7,569.6L487.2,569.6L487.7,569.6L488.2,569.6L488.7,569.6L489.2,569.6L489.7,569.6L490.2,569.6L490.7,569.6L491.2,569.6L491.7,569.6L492.2,569.6L492.7,569.6L493.2,569.6L493.7,569.6L494.2,569.6L494.7,569.6L495.2,569.6L495.7,569.6L496.2,569.6L496.7,569.6L497.2,569.6L497.7,569.6L498.2,569.6L498.7,569.6L499.2,569.6L499.7,569.6L500.2,569.6L500.7,569.6L501.2,569.6L501.7,569.6L502.2,569.6L502.7,569.6L503.2,569.6L503.7,569.6L504.2,569.6L504.7,569.6L505.2,569.6L505.7,569.6L506.2,569.6L506.7,569.6L507.2,569.6L507.7,569.6L508.2,569.6L508.7,569.6L509.2,569.6L509.7,569.6L510.2,569.6L510.7,569.6L511.2,569.6L511.7,569.6L512.2,569.6L512.7,569.6L513.2,569.6L513.7,569.6L514.2,569.6L514.7,569.6L515.2,569.6L515.7,569.6L516.2,569.6L516.7,569.6L517.2,569.6L517.7,569.6L518.2,569.6L518.7,569.6L519.2,569.6L519.7,569.6L520.2,569.6L520.7,569.6L521.2,569.6L521.7,569.6L522.2,569.6L522.7,569.6L523.2,569.6L523.7,569.6L524.2,569.6L524.7,569.6L525.2,569.6L525.7,569.6L526.2,569.6L526.7,569.6L527.2,569.6L527.7,569.6L528.2,569.6L528.7,569.6L529.2,569.6L529.7,569.6L530.2,569.6L530.7,569.6L531.2,569.6L531.7,569.6L532.2,569.6L532.7,569.6L533.2,569.6L533.7,569.6L534.2,569.6L534.7,569.6L535.2,569.6L535.7,569.6L536.2,569.6L536.7,569.6L537.2,569.6L537.7,569.6L538.2,569.6L538.7,569.6L539.2,569.6L539.7,569.6L540.2,569.6L540.7,569.6L541.2,569.6L541.7,569.6L542.2,569.6L542.7,569.6L543.2,569.6L543.7,569.6L544.2,569.6L544.7,569.6L545.2,569.6L545.7,569.6L546.2,569.6L546.7,569.6L547.2,569.6L547.7,569.6L548.2,569.6L548.7,569.6L549.2,569.6L549.7,569.6L550.2,569.6L550.7,569.6L551.2,569.6L551.7,569.6L552.2,569.6L552.7,569.6L553.2,569.6L553.7,569.6L554.2,569.6L554.7,569.6L555.2,569.6L555.7,569.6L556.2,569.6L556.7,569.6L557.2,569.6L557.7,569.6L558.2,569.6L558.7,569.6L559.2,569.6L559.6,569.6L560.1,569.6L560.6,569.6L561.1,569.6L561.6,569.6L562.1,569.6L562.6,569.6L563.1,569.6L563.6,569.6L564.1,569.6L564.6,569.6L565.1,569.6L565.6,569.6L566.1,569.6L566.6,569.6L567.1,569.6L567.6,569.6L568.1,569.6L568.6,569.6L569.1,569.6L569.6,569.6L570.1,569.6L570.6,569.6L571.1,569.6L571.6,569.6L572.1,569.6L572.6,569.6L573.1,569.6L573.6,569.6L574.1,569.6L574.6,569.6L575.1,569.6L575.6,569.6L576.1,569.6L576.6,569.6L577.1,569.6L577.6,569.6L578.1,569.6L578.6,569.6L579.1,569.6L579.6,569.6L580.1,569.6L580.6,569.6L581.1,569.6L581.6,569.6L582.1,569.6L582.6,569.6L583.1,569.6L583.6,569.6L584.1,569.6L584.6,569.6L585.1,569.6L585.6,569.6L586.1,569.6L586.6,569.6L587.1,569.6L587.6,569.6L588.1,569.6L588.6,569.6L589.1,569.6L589.6,569.6L590.1,569.6L590.6,569.6L591.1,569.6L591.6,569.6L592.1,569.6L592.6,569.6L593.1,569.6L593.6,569.6L594.1,569.6L594.6,569.6L595.1,569.6L595.6,569.6L596.1,569.6L596.6,569.6L597.1,569.6L597.6,569.6L598.1,569.6L598.6,569.6L599.1,569.6L599.6,569.6L600.1,569.6L600.6,569.6L601.1,569.6L601.6,569.6L602.1,569.6L602.6,569.6L603.1,569.6L603.6,569.6L604.1,569.6L604.6,569.6L605.1,569.6L605.6,569.6L606.1,569.6L606.6,569.6L607.1,569.6L607.6,569.6L608.1,569.6L608.6,569.6L609.1,569.6L609.6,569.6L610.1,569.6L610.6,569.6L611.1,569.6L611.6,569.6L612.1,569.6L612.6,569.6L613.1,569.6L613.6,569.6L614.1,569.6L614.6,569.6L615.1,569.6L615.6,569.6L616.1,569.6L616.6,569.6L617.1,569.6L617.6,569.6L618.1,569.6L618.6,569.6L619.1,569.6L619.6,569.6L620.1,569.6L620.6,569.6L621.1,569.6L621.6,569.6L622.1,569.6L622.6,569.6L623.1,569.6L623.6,569.6L624.1,569.6L624.6,569.6L625.1,569.6L625.6,569.6L626.1,569.6L626.6,569.6L627.1,569.6L627.6,569.6L628.1,569.6L628.6,569.6L629.1,569.6L629.6,569.6L630.1,569.6L630.6,569.6L631.1,569.6L631.6,569.6L632.1,569.6L632.6,569.6L633.1,569.6L633.6,569.6L634.1,569.6L634.6,569.6L635.1,569.6L635.6,569.6L636.1,569.6L636.6,569.6L637.1,569.6L637.6,569.6L638.1,569.6L638.6,569.6L639.1,569.6L639.6,569.6L640.1,569.6L640.6,569.6L641.1,569.6L641.6,569.6L642.1,569.6L642.6,569.6L643.1,569.6L643.6,569.6L644.1,569.6L644.6,569.6L645.1,569.6L645.6,569.6L646.1,569.6L646.6,569.6L647.1,569.6L647.6,569.6L648.1,569.6L648.6,569.6L649.1,569.6L649.6,569.6L650.1,569.6L650.6,569.6L651.1,569.6L651.6,569.6L652.1,569.6L652.6,569.6L653.1,569.6L653.6,569.6L654.1,569.6L654.6,569.6L655.1,569.6L655.6,569.6L656.1,569.6L656.6,569.6L657.1,569.6L657.6,569.6L658.1,569.6L658.6,569.6L659.1,569.6L659.6,569.6L660.1,569.6L660.6,569.6L661.1,569.6L661.6,569.6L662.1,569.6L662.6,569.6L663.1,569.6L663.6,569.6L664.1,569.6L664.6,569.6L665.1,569.6L665.6,569.6L666.1,569.6L666.6,569.6L667.1,569.6L667.6,569.6L668.1,569.6L668.6,569.6L669.1,569.6L669.6,569.6L670.1,569.6L670.6,569.6L671.1,569.6L671.6,569.6L672.1,569.6L672.6,569.6L673.1,569.6L673.6,569.6L674.1,569.6L674.6,569.6L675.1,569.6L675.6,569.6L676.1,569.6L676.6,569.6L677.1,569.6L677.6,569.6L678.1,569.6L678.6,569.6L679.1,569.6L679.6,569.6L680.1,569.6L680.6,569.6L681.1,569.6L681.6,569.6L682.1,569.6L682.6,569.6L683.1,569.6L683.6,569.6L684.1,569.6L684.6,569.6L685.1,569.6L685.6,569.6L686.1,569.6L686.6,569.6L687.1,569.6L687.6,569.6L688.1,569.6L688.6,569.6L689.1,569.6L689.6,569.6L690.1,569.6L690.6,569.6L691.1,569.6L691.6,569.6L692.1,569.6L692.6,569.6L693.1,569.6L693.6,569.6L694.1,569.6L694.6,569.6L695.1,569.6L695.6,569.6L696.1,569.6L696.6,569.6L697.1,569.6L697.6,569.6L698.1,569.6L698.6,569.6L699.1,569.6L699.6,569.6L700.1,569.6L700.6,569.6L701.1,569.6L701.6,569.6L702.1,569.6L702.6,569.6L703.1,569.6L703.6,569.6L704.1,569.6L704.6,569.6L705.0,569.6"/>
<path stroke="#1414ff" d="M80.8,553.0L81.3,553.1L81.8,553.2L82.2,553.4L82.7,553.5L83.2,553.7L83.7,553.8L84.2,554.0L84.6,554.2L85.1,554.3L85.6,554.5L86.1,554.6L86.6,554.8L87.0,554.9L87.5,555.0L88.0,555.2L88.5,555.3L89.0,555.3L89.4,555.4L89.9,555.4L90.4,555.4L90.9,555.4L91.4,555.4L91.8,555.3L92.3,555.2L92.8,555.1L93.3,555.0L93.8,554.9L94.2,554.8L94.7,554.6L95.2,554.5L95.7,554.3L96.2,554.2L96.7,554.0L97.1,553.8L97.6,553.7L98.1,553.5L98.6,553.3L99.1,553.2L99.6,553.0L100.0,552.9L100.5,552.8L101.0,552.6L101.5,552.5L102.0,552.4L102.5,552.3L103.0,552.2L103.5,552.0L104.0,551.9L104.4,551.9L104.9,551.8L105.4,551.7L105.9,551.6L106.4,551.5L106.9,551.5L107.4,551.4L107.9,551.4L108.4,551.3L108.9,551.3L109.4,551.2L109.9,551.2L110.4,551.2L110.9,551.2L111.4,551.2L111.9,551.2L112.4,551.2L112.9,551.2L113.4,551.2L113.9,551.3L114.4,551.3L114.9,551.4L115.4,551.4L115.9,551.5L116.4,551.6L116.9,551.6L117.4,551.7L117.9,551.8L118.4,551.9L118.9,551.9L119.4,552.0L119.9,552.0L120.4,552.1L120.9,552.1L121.3,552.2L121.8,552.2L122.3,552.2L122.8,552.1L123.3,552.1L123.8,552.0L124.3,552.0L124.8,551.9L125.2,551.8L125.7,551.7L126.2,551.5L126.7,551.4L127.2,551.3L127.6,551.1L128.1,551.0L128.6,550.8L129.1,550.6L129.6,550.5L130.1,550.3L130.5,550.1L131.0,549.9L131.5,549.8L132.0,549.6L132.5,549.4L133.0,549.3L133.5,549.1L134.0,549.0L134.5,548.9L135.0,548.7L135.5,548.6L136.0,548.6L136.5,548.5L137.0,548.4L137.4,548.4L137.9,548.4L138.4,548.4L138.9,548.4L139.4,548.5L139.9,548.5L140.3,548.6L140.8,548.7L141.3,548.8L141.8,549.0L142.2,549.1L142.7,549.3L143.2,549.5L143.6,549.7L144.1,549.9L144.5,550.1L145.0,550.3L145.4,550.6L145.9,550.8L146.3,551.1L146.8,551.3L147.2,551.6L147.6,551.9L148.1,552.2L148.5,552.4L148.9,552.7L149.3,553.0L149.7,553.3L150.1,553.6L150.6,553.9L151.0,554.2L151.4,554.5L151.8,554.8L152.2,555.1L152.6,555.4L153.0,555.7L153.4,555.9L153.8,556.1L154.2,556.4L154.7,556.6L155.1,556.7L155.6,556.9L156.1,557.0L156.6,557.1L157.1,557.2L157.6,557.3L158.1,557.4L158.6,557.4L159.1,557.5L159.6,557.6L160.1,557.7L160.6,557.8L161.1,557.9L161.6,558.0L162.1,558.1L162.6,558.2L163.0,558.3L163.5,558.3L164.0,558.4L164.5,558.5L165.0,558.5L165.5,558.6L166.0,558.7L166.5,558.7L167.0,558.7L167.5,558.8L168.0,558.8L168.5,558.9L169.0,558.9L169.5,559.0L170.0,559.0L170.5,559.1L171.0,559.2L171.5,559.2L172.0,559.3L172.4,559.4L172.9,559.5L173.4,559.6L173.9,559.7L174.4,559.8L174.9,560.0L175.3,560.1L175.8,560.3L176.3,560.5L176.7,560.7L177.2,560.9L177.7,561.1L178.1,561.4L178.6,561.6L179.0,561.9L179.4,562.3L179.9,562.6L180.3,562.9L180.7,563.3L181.2,563.6L181.6,563.9L182.0,564.2L182.5,564.5L182.9,564.7L183.3,564.9L183.8,565.0L184.2,565.1L184.7,565.1L185.1,565.1L185.6,565.0L186.1,564.8L186.5,564.6L187.0,564.3L187.4,564.0L187.8,563.7L188.3,563.4L188.6,563.0L189.0,562.6L189.3,562.2L189.7,561.8L190.0,561.4L190.2,561.0L190.5,560.6L190.7,560.1L191.0,559.7L191.2,559.2L191.4,558.8L191.6,558.3L191.7,557.8L191.9,557.4L192.0,556.9L192.2,556.4L192.3,555.9L192.5,555.4L192.6,554.9L192.7,554.4L192.8,553.9L192.9,553.4L193.1,552.9L193.2,552.5L193.3,552.0L193.4,551.5L193.5,551.0L193.6,550.5L193.7,550.0L193.8,549.5L193.9,549.0L194.0,548.5L194.1,548.0L194.2,547.5L194.3,547.0L194.4,546.5L194.5,546.1L194.6,545.6L194.7,545.1L194.8,544.6L194.9,544.1L194.9,543.6L195.0,543.1L195.1,542.6L195.2,542.1L195.3,541.6L195.3,541.1L195.4,540.6L195.5,540.1L195.5,539.7L195.6,539.2L195.7,538.7L195.8,538.2L195.8,537.7L195.9,537.2L195.9,536.7L196.0,536.2L196.1,535.7L196.1,535.2L196.2,534.7L196.2,534.2L196.3,533.7L196.4,533.2L196.4,532.7L196.5,532.2L196.5,531.7L196.6,531.2L196.6,530.7L196.7,530.2L196.7,529.7L196.8,529.3L196.8,528.8L196.9,528.3L196.9,527.8L196.9,527.3L197.0,526.8L197.0,526.3L197.1,525.8L197.1,525.3L197.2,524.8L197.2,524.3L197.2,523.8L197.3,523.3L197.3,522.8L197.3,522.3L197.4,521.8L197.4,521.3L197.5,520.8L197.5,520.3L197.5,519.8L197.6,519.3L197.6,518.8L197.6,518.3L197.7,517.8L197.7,517.3L197.7,516.8L197.8,516.3L197.8,515.8L197.8,515.3L197.9,514.8L197.9,514.3L197.9,513.8L198.0,513.3L198.0,512.8L198.0,512.3L198.1,511.8L198.1,511.3L198.1,510.8L198.1,510.3L198.2,509.8L198.2,509.3L198.2,508.8L198.3,508.3L198.3,507.8L198.3,507.3L198.4,506.8L198.4,506.3L198.4,505.8L198.5,505.3L198.5,504.8L198.5,504.3L198.5,503.8L198.6,503.3L198.6,502.8L198.6,502.3L198.7,501.8L198.7,501.3L198.7,500.8L198.8,500.3L198.8,499.8L198.8,499.3L198.9,498.8L198.9,498.3L198.9,497.8L198.9,497.3L199.0,496.8L199.0,496.3L199.0,495.8L199.1,495.3L199.1,494.8L199.1,494.3L199.2,493.8L199.2,493.3L199.2,492.8L199.2,492.3L199.3,491.8L199.3,491.3L199.3,490.8L199.4,490.3L199.4,489.8L199.4,489.3L199.4,488.8L199.5,488.3L199.5,487.9L199.5,487.4L199.6,486.9L199.6,486.4L199.6,485.9L199.6,485.4L199.7,484.9L199.7,484.4L199.7,483.9L199.8,483.4L199.8,482.9L199.8,482.4L199.8,481.9L199.9,481.4L199.9,480.9L199.9,480.4L199.9,479.9L200.0,479.4L200.0,478.9L200.0,478.4L200.1,477.9L200.1,477.4L200.1,476.9L200.1,476.4L200.2,475.9L200.2,475.4L200.2,474.9L200.2,474.4L200.3,473.9L200.3,473.4L200.3,472.9L200.4,472.4L200.4,471.9L200.4,471.4L200.4,470.9L200.5,470.4L200.5,469.9L200.5,469.4L200.5,468.9L200.6,468.4L200.6,467.9L200.6,467.4L200.6,466.9L200.7,466.4L200.7,465.9L200.7,465.4L200.8,464.9L200.8,464.4L200.8,463.9L200.8,463.4L200.9,462.9L200.9,462.4L200.9,461.9L200.9,461.4L201.0,460.9L201.0,460.4L201.0,459.9L201.0,459.4L201.1,458.9L201.1,458.4L201.1,457.9L201.1,457.4L201.2,456.9L201.2,456.4L201.2,455.9L201.2,455.4L201.3,454.9L201.3,454.4L201.3,453.9L201.3,453.4L201.4,452.9L201.4,452.4L201.4,451.9L201.4,451.4L201.5,450.9L201.5,450.4L201.5,449.9L201.5,449.4L201.6,448.9L201.6,448.4L201.6,447.9L201.6,447.4L201.7,446.9L201.7,446.4L201.7,445.9L201.7,445.4L201.8,444.9L201.8,444.4L201.8,443.9L201.8,443.4L201.8,442.9L201.9,442.4L201.9,441.9L201.9,441.4L201.9,440.9L202.0,440.4L202.0,439.9L202.0,439.4L202.0,438.9L202.1,438.4L202.1,437.9L202.1,437.4L202.1,436.9L202.2,436.4L202.2,435.9L202.2,435.4L202.2,434.9L202.2,434.4L202.3,433.9L202.3,433.4L202.3,432.9L202.3,432.4L202.4,431.9L202.4,431.4L202.4,430.9L202.4,430.4L202.4,429.9L202.5,429.4L202.5,428.9L202.5,428.4L202.5,427.9L202.6,427.4L202.6,426.9L202.6,426.4L202.6,425.9L202.6,425.4L202.7,424.9L202.7,424.4L202.7,423.9L202.7,423.4L202.8,422.9L202.8,422.4L202.8,421.9L202.8,421.4L202.8,420.9L202.9,420.4L202.9,419.9L202.9,419.4L202.9,418.9L203.0,418.4L203.0,417.9L203.0,417.4L203.0,416.9L203.0,416.4L203.1,415.9L203.1,415.4L203.1,414.9L203.1,414.4L203.1,413.9L203.2,413.4L203.2,412.9L203.2,412.4L203.2,411.9L203.3,411.4L203.3,410.9L203.3,410.4L203.3,409.9L203.3,409.4L203.4,408.9L203.4,408.4L203.4,407.9L203.4,407.4L203.4,406.9L203.5,406.4L203.5,405.9L203.5,405.4L203.5,404.9L203.5,404.4L203.6,403.9L203.6,403.4L203.6,402.9L203.6,402.5L203.6,402.0L203.7,401.5L203.7,401.0L203.7,400.5L203.7,400.0L203.7,399.5L203.8,399.0L203.8,398.5L203.8,398.0L203.8,397.5L203.8,397.0L203.9,396.5L203.9,396.0L203.9,395.5L203.9,395.0L203.9,394.5L204.0,394.0L204.0,393.5L204.0,393.0L204.0,392.5L204.0,392.0L204.1,391.5L204.1,391.0L204.1,390.5L204.1,390.0L204.1,389.5L204.2,389.0L204.2,388.5L204.2,388.0L204.2,387.5L204.2,387.0L204.3,386.5L204.3,386.0L204.3,385.5L204.3,385.0L204.3,384.5L204.4,384.0L204.4,383.5L204.4,383.0L204.4,382.5L204.4,382.0L204.4,381.5L204.5,381.0L204.5,380.5L204.5,380.0L204.5,379.5L204.5,379.0L204.6,378.5L204.6,378.0L204.6,377.5L204.6,377.0L204.6,376.5L204.7,376.0L204.7,375.5L204.7,375.0L204.7,374.5L204.7,374.0L204.7,373.5L204.8,373.0L204.8,372.5L204.8,372.0L204.8,371.5L204.8,371.0L204.9,370.5L204.9,370.0L204.9,369.5L204.9,369.0L204.9,368.5L204.9,368.0L205.0,367.5L205.0,367.0L205.0,366.5L205.0,366.0L205.0,365.5L205.1,365.0L205.1,364.5L205.1,364.0L205.1,363.5L205.1,363.0L205.1,362.5L205.2,362.0L205.2,361.5L205.2,361.0L205.2,360.5L205.2,360.0L205.3,359.5L205.3,359.0L205.3,358.5L205.3,358.0L205.3,357.5L205.3,357.0L205.4,356.5L205.4,356.0L205.4,355.5L205.4,355.0L205.4,354.5L205.4,354.0L205.5,353.5L205.5,353.0L205.5,352.5L205.5,352.0L205.5,351.5L205.6,351.0L205.6,350.5L205.6,350.0L205.6,349.5L205.6,349.0L205.6,348.5L205.7,348.0L205.7,347.5L205.7,347.0L205.7,346.5L205.7,346.0L205.7,345.5L205.8,345.0L205.8,344.5L205.8,344.0L205.8,343.5L205.8,343.0L205.8,342.5L205.9,342.0L205.9,341.5L205.9,341.0L205.9,340.5L205.9,340.0L205.9,339.5L206.0,339.0L206.0,338.5L206.0,338.0L206.0,337.5L206.0,337.0L206.1,336.5L206.1,336.0L206.1,335.5L206.1,335.0L206.1,334.5L206.1,334.0L206.2,333.5L206.2,333.0L206.2,332.5L206.2,332.0L206.2,331.5L206.2,331.0L206.3,330.5L206.3,330.0L206.3,329.5L206.3,329.0L206.3,328.5L206.3,328.0L206.4,327.5L206.4,327.0L206.4,326.5L206.4,326.0L206.4,325.5L206.4,325.0L206.5,324.5L206.5,324.0L206.5,323.5L206.5,323.0L206.5,322.5L206.5,322.0L206.5,321.5L206.6,321.0L206.6,320.5L206.6,320.0L206.6,319.5L206.6,319.0L206.6,318.5L206.7,318.0L206.7,317.5L206.7,317.0L206.7,316.5L206.7,316.0L206.7,315.5L206.8,315.0L206.8,314.5L206.8,314.0L206.8,313.5L206.8,313.0L206.8,312.5L206.9,312.0L206.9,311.5L206.9,311.0L206.9,310.5L206.9,310.0L206.9,309.5L207.0,309.0L207.0,308.5L207.0,308.0L207.0,307.5L207.0,307.0L207.0,306.5L207.1,306.0L207.1,305.5L207.1,305.0L207.1,304.5L207.1,304.0L207.1,303.5L207.1,303.0L207.2,302.5L207.2,302.0L207.2,301.5L207.2,301.0L207.2,300.5L207.2,300.0L207.3,299.5L207.3,299.0L207.3,298.5L207.3,298.0L207.3,297.5L207.3,297.0L207.4,296.5L207.4,296.0L207.4,295.5L207.4,295.0L207.4,294.5L207.4,294.0L207.5,293.5L207.5,293.0L207.5,292.5L207.5,292.0L207.5,291.5L207.5,291.0L207.5,290.5L207.6,290.0L207.6,289.5L207.6,289.0L207.6,288.5L207.6,288.0L207.6,287.5L207.7,287.0L207.7,286.5L207.7,286.0L207.7,285.5L207.7,285.0L207.7,284.5L207.8,284.0L207.8,283.5L207.8,283.0L207.8,282.5L207.8,282.0L207.8,281.5L207.9,281.0L207.9,280.5L207.9,280.0L207.9,279.5L207.9,279.0L207.9,278.5L207.9,278.0L208.0,277.5L208.0,277.0L208.0,276.5L208.0,276.0L208.0,275.5L208.0,275.0L208.1,274.5L208.1,274.0L208.1,273.5L208.1,273.0L208.1,272.5L208.1,272.0L208.2,271.5L208.2,271.0L208.2,270.5L208.2,270.0L208.2,269.5L208.2,269.0L208.3,268.5L208.3,268.0L208.3,267.5L208.3,267.0L208.3,266.5L208.3,266.0L208.3,265.5L208.4,265.0L208.4,264.5L208.4,264.0L208.4,263.5L208.4,263.0L208.4,262.5L208.5,262.0L208.5,261.5L208.5,261.0L208.5,260.5L208.5,260.0L208.5,259.5L208.6,259.0L208.6,258.5L208.6,258.0L208.6,257.5L208.6,257.0L208.6,256.5L208.7,256.0L208.7,255.5L208.7,255.0L208.7,254.5L208.7,254.0L208.7,253.5L208.7,253.0L208.8,252.5L208.8,252.0L208.8,251.5L208.8,251.0L208.8,250.5L208.8,250.0L208.9,249.5L208.9,249.0L208.9,248.5L208.9,248.0L208.9,247.5L208.9,247.0L209.0,246.5L209.0,246.0L209.0,245.5L209.0,245.0L209.0,244.5L209.0,244.0L209.1,243.5L209.1,243.0L209.1,242.5L209.1,242.0L209.1,241.5L209.1,241.0L209.2,240.5L209.2,240.0L209.2,239.5L209.2,239.0L209.2,238.5L209.2,238.0L209.3,237.5L209.3,237.0L209.3,236.5L209.3,236.0L209.3,235.5L209.3,235.0L209.4,234.5L209.4,234.0L209.4,233.5L209.4,233.0L209.4,232.5L209.4,232.0L209.5,231.5L209.5,231.0L209.5,230.5L209.5,230.0L209.5,229.5L209.5,229.1L209.6,228.6L209.6,228.1L209.6,227.6L209.6,227.1L209.6,226.6L209.6,226.1L209.7,225.6L209.7,225.1L209.7,224.6L209.7,224.1L209.7,223.6L209.7,223.1L209.8,222.6L209.8,222.1L209.8,221.6L209.8,221.1L209.8,220.6L209.8,220.1L209.9,219.6L209.9,219.1L209.9,218.6L209.9,218.1L209.9,217.6L209.9,217.1L210.0,216.6L210.0,216.1L210.0,215.6L210.0,215.1L210.0,214.6L210.0,214.1L210.1,213.6L210.1,213.1L210.1,212.6L210.1,212.1L210.1,211.6L210.1,211.1L210.2,210.6L210.2,210.1L210.2,209.6L210.2,209.1L210.2,208.6L210.3,208.1L210.3,207.6L210.3,207.1L210.3,206.6L210.3,206.1L210.3,205.6L210.4,205.1L210.4,204.6L210.4,204.1L210.4,203.6L210.4,203.1L210.4,202.6L210.5,202.1L210.5,201.6L210.5,201.1L210.5,200.6L210.5,200.1L210.6,199.6L210.6,199.1L210.6,198.6L210.6,198.1L210.6,197.6L210.6,197.1L210.7,196.6L210.7,196.1L210.7,195.6L210.7,195.1L210.7,194.6L210.8,194.1L210.8,193.6L210.8,193.1L210.8,192.6L210.8,192.1L210.9,191.6L210.9,191.1L210.9,190.6L210.9,190.1L210.9,189.6L210.9,189.1L211.0,188.6L211.0,188.1L211.0,187.6L211.0,187.1L211.0,186.6L211.1,186.1L211.1,185.6L211.1,185.1L211.1,184.6L211.1,184.1L211.2,183.6L211.2,183.1L211.2,182.6L211.2,182.1L211.2,181.6L211.3,181.1L211.3,180.6L211.3,180.1L211.3,179.6L211.3,179.1L211.4,178.6L211.4,178.1L211.4,177.6L211.4,177.1L211.4,176.6L211.5,176.1L211.5,175.6L211.5,175.1L211.5,174.6L211.5,174.1L211.6,173.6L211.6,173.1L211.6,172.6L211.6,172.1L211.7,171.6L211.7,171.1L211.7,170.6L211.7,170.1L211.7,169.6L211.8,169.1L211.8,168.6L211.8,168.1L211.8,167.6L211.8,167.1L211.9,166.6L211.9,166.1L211.9,165.6L211.9,165.1L212.0,164.6L212.0,164.1L212.0,163.6L212.0,163.1L212.0,162.6L212.1,162.1L212.1,161.6L212.1,161.1L212.1,160.6L212.2,160.1L212.2,159.6L212.2,159.1L212.2,158.6L212.2,158.1L212.3,157.6L212.3,157.1L212.3,156.6L212.3,156.1L212.4,155.6L212.4,155.1L212.4,154.6L212.4,154.1L212.5,153.6L212.5,153.1L212.5,152.6L212.5,152.1L212.5,151.6L212.6,151.1L212.6,150.6L212.6,150.1L212.6,149.6L212.7,149.1L212.7,148.6L212.7,148.1L212.7,147.6L212.8,147.1L212.8,146.6L212.8,146.1L212.8,145.6L212.9,145.1L212.9,144.6L212.9,144.1L212.9,143.6L213.0,143.1L213.0,142.6L213.0,142.1L213.0,141.6L213.1,141.1L213.1,140.6L213.1,140.1L213.1,139.6L213.2,139.1L213.2,138.6L213.2,138.1L213.3,137.6L213.3,137.1L213.3,136.6L213.3,136.1L213.4,135.6L213.4,135.1L213.4,134.6L213.4,134.1L213.5,133.6L213.5,133.1L213.5,132.6L213.5,132.1L213.6,131.6L213.6,131.1L213.6,130.6L213.7,130.1L213.7,129.6L213.7,129.1L213.7,128.6L213.8,128.1L213.8,127.6L213.8,127.1L213.9,126.6L213.9,126.1L213.9,125.6L213.9,125.1L214.0,124.6L214.0,124.1L214.0,123.6L214.1,123.1L214.1,122.6L214.1,122.1L214.1,121.6L214.2,121.2L214.2,120.7L214.2,120.2L214.3,119.7L214.3,119.2L214.3,118.7L214.4,118.2L214.4,117.7L214.4,117.2L214.4,116.7L214.5,116.2L214.5,115.7L214.5,115.2L214.6,114.7L214.6,114.2L214.6,113.7L214.7,113.2L214.7,112.7L214.7,112.2L214.8,111.7L214.8,111.2L214.8,110.7L214.8,110.2L214.9,109.7L214.9,109.2L214.9,108.7L215.0,108.2L215.0,107.7L215.0,107.2L215.1,106.7L215.1,106.2L215.1,105.7L215.2,105.2L215.2,104.7L215.2,104.2L215.3,103.7L215.3,103.2L215.3,102.7L215.4,102.2L215.4,101.7L215.4,101.2L215.5,100.7L215.5,100.2L215.5,99.7L215.6,99.2L215.6,98.7L215.6,98.2L215.7,97.7L215.7,97.2L215.8,96.7L215.8,96.2L215.8,95.7L215.9,95.2L215.9,94.7L215.9,94.2L216.0,93.7L216.0,93.2L216.0,92.7L216.1,92.2L216.1,91.7L216.1,91.2L216.2,90.7L216.2,90.2L216.3,89.7L216.3,89.2L216.3,88.7L216.4,88.2L216.4,87.7L216.5,87.2L216.6,86.7L216.7,86.2L216.7,85.7L216.8,85.3L217.0,84.8L217.1,84.3L217.2,83.8L217.4,83.4L217.6,82.9L217.8,82.4L218.0,82.0L218.2,81.6L218.5,81.3L218.8,81.5L219.1,81.8L219.3,82.3L219.4,82.8L219.6,83.4L219.7,83.9L219.8,84.5L219.9,85.0L220.0,85.5L220.1,86.0L220.2,86.5L220.2,87.0L220.3,87.5L220.4,88.0L220.5,88.5L220.5,88.9L220.6,89.4L220.6,89.9L220.7,90.4L220.8,90.8L220.8,91.3L220.9,91.8L220.9,92.3L221.0,92.8L221.0,93.3L221.1,93.8L221.2,94.3L221.2,94.8L221.3,95.3L221.3,95.8L221.4,96.3L221.4,96.8L221.5,97.3L221.5,97.8L221.6,98.3L221.6,98.8L221.7,99.3L221.7,99.8L221.8,100.3L221.8,100.8L221.9,101.3L221.9,101.8L222.0,102.3L222.0,102.8L222.0,103.3L222.1,103.8L222.1,104.3L222.2,104.8L222.2,105.3L222.2,105.8L222.3,106.3L222.3,106.8L222.4,107.3L222.4,107.8L222.4,108.3L222.5,108.8L222.5,109.3L222.5,109.8L222.6,110.3L222.6,110.8L222.6,111.3L222.7,111.8L222.7,112.3L222.7,112.8L222.8,113.3L222.8,113.8L222.8,114.3L222.9,114.8L222.9,115.3L222.9,115.8L222.9,116.3L223.0,116.8L223.0,117.3L223.0,117.8L223.1,118.3L223.1,118.8L223.1,119.3L223.1,119.8L223.2,120.3L223.2,120.8L223.2,121.3L223.3,121.8L223.3,122.3L223.3,122.8L223.4,123.3L223.4,123.8L223.4,124.3L223.4,124.8L223.5,125.3L223.5,125.8L223.5,126.3L223.6,126.8L223.6,127.3L223.6,127.8L223.6,128.3L223.7,128.8L223.7,129.3L223.7,129.8L223.7,130.3L223.8,130.8L223.8,131.3L223.8,131.8L223.9,132.3L223.9,132.8L223.9,133.3L223.9,133.8L224.0,134.3L224.0,134.8L224.0,135.3L224.1,135.8L224.1,136.3L224.1,136.7L224.1,137.2L224.2,137.7L224.2,138.2L224.2,138.7L224.2,139.2L224.3,139.7L224.3,140.2L224.3,140.7L224.3,141.2L224.4,141.7L224.4,142.2L224.4,142.7L224.4,143.2L224.5,143.7L224.5,144.2L224.5,144.7L224.6,145.2L224.6,145.7L224.6,146.2L224.6,146.7L224.7,147.2L224.7,147.7L224.7,148.2L224.7,148.7L224.8,149.2L224.8,149.7L224.8,150.2L224.8,150.7L224.9,151.2L224.9,151.7L224.9,152.2L224.9,152.7L225.0,153.2L225.0,153.7L225.0,154.2L225.0,154.7L225.1,155.2L225.1,155.7L225.1,156.2L225.1,156.7L225.2,157.2L225.2,157.7L225.2,158.2L225.2,158.7L225.2,159.2L225.3,159.7L225.3,160.2L225.3,160.7L225.3,161.2L225.4,161.7L225.4,162.2L225.4,162.7L225.4,163.2L225.5,163.7L225.5,164.2L225.5,164.7L225.5,165.2L225.6,165.7L225.6,166.2L225.6,166.7L225.6,167.2L225.7,167.7L225.7,168.2L225.7,168.7L225.7,169.2L225.7,169.7L225.8,170.2L225.8,170.7L225.8,171.2L225.8,171.7L225.9,172.2L225.9,172.7L225.9,173.2L225.9,173.7L225.9,174.2L226.0,174.7L226.0,175.2L226.0,175.7L226.0,176.2L226.1,176.7L226.1,177.2L226.1,177.7L226.1,178.2L226.1,178.7L226.2,179.2L226.2,179.7L226.2,180.2L226.2,180.7L226.3,181.2L226.3,181.7L226.3,182.2L226.3,182.7L226.3,183.2L226.4,183.7L226.4,184.2L226.4,184.7L226.4,185.2L226.4,185.7L226.5,186.2L226.5,186.7L226.5,187.2L226.5,187.7L226.6,188.2L226.6,188.7L226.6,189.2L226.6,189.7L226.6,190.2L226.7,190.7L226.7,191.2L226.7,191.7L226.7,192.2L226.7,192.7L226.8,193.2L226.8,193.7L226.8,194.2L226.8,194.7L226.8,195.2L226.9,195.7L226.9,196.2L226.9,196.7L226.9,197.2L227.0,197.7L227.0,198.2L227.0,198.7L227.0,199.2L227.0,199.7L227.1,200.2L227.1,200.7L227.1,201.2L227.1,201.7L227.1,202.2L227.2,202.7L227.2,203.2L227.2,203.7L227.2,204.2L227.2,204.7L227.3,205.2L227.3,205.7L227.3,206.2L227.3,206.7L227.3,207.2L227.4,207.7L227.4,208.2L227.4,208.7L227.4,209.2L227.4,209.7L227.4,210.2L227.5,210.7L227.5,211.2L227.5,211.7L227.5,212.2L227.5,212.7L227.6,213.2L227.6,213.7L227.6,214.2L227.6,214.7L227.6,215.2L227.7,215.7L227.7,216.2L227.7,216.7L227.7,217.2L227.7,217.7L227.8,218.2L227.8,218.7L227.8,219.2L227.8,219.7L227.8,220.2L227.9,220.7L227.9,221.2L227.9,221.7L227.9,222.2L227.9,222.7L227.9,223.2L228.0,223.7L228.0,224.2L228.0,224.7L228.0,225.2L228.0,225.7L228.1,226.2L228.1,226.7L228.1,227.2L228.1,227.7L228.1,228.2L228.2,228.7L228.2,229.1L228.2,229.6L228.2,230.1L228.2,230.6L228.2,231.1L228.3,231.6L228.3,232.1L228.3,232.6L228.3,233.1L228.3,233.6L228.4,234.1L228.4,234.6L228.4,235.1L228.4,235.6L228.4,236.1L228.4,236.6L228.5,237.1L228.5,237.6L228.5,238.1L228.5,238.6L228.5,239.1L228.6,239.6L228.6,240.1L228.6,240.6L228.6,241.1L228.6,241.6L228.6,242.1L228.7,242.6L228.7,243.1L228.7,243.6L228.7,244.1L228.7,244.6L228.8,245.1L228.8,245.6L228.8,246.1L228.8,246.6L228.8,247.1L228.8,247.6L228.9,248.1L228.9,248.6L228.9,249.1L228.9,249.6L228.9,250.1L229.0,250.6L229.0,251.1L229.0,251.6L229.0,252.1L229.0,252.6L229.0,253.1L229.1,253.6L229.1,254.1L229.1,254.6L229.1,255.1L229.1,255.6L229.2,256.1L229.2,256.6L229.2,257.1L229.2,257.6L229.2,258.1L229.2,258.6L229.3,259.1L229.3,259.6L229.3,260.1L229.3,260.6L229.3,261.1L229.3,261.6L229.4,262.1L229.4,262.6L229.4,263.1L229.4,263.6L229.4,264.1L229.5,264.6L229.5,265.1L229.5,265.6L229.5,266.1L229.5,266.6L229.5,267.1L229.6,267.6L229.6,268.1L229.6,268.6L229.6,269.1L229.6,269.6L229.6,270.1L229.7,270.6L229.7,271.1L229.7,271.6L229.7,272.1L229.7,272.6L229.8,273.1L229.8,273.6L229.8,274.1L229.8,274.6L229.8,275.1L229.8,275.6L229.9,276.1L229.9,276.6L229.9,277.1L229.9,277.6L229.9,278.1L230.0,278.6L230.0,279.1L230.0,279.6L230.0,280.1L230.0,280.6L230.0,281.1L230.1,281.6L230.1,282.1L230.1,282.6L230.1,283.1L230.1,283.6L230.1,284.1L230.2,284.6L230.2,285.1L230.2,285.6L230.2,286.1L230.2,286.6L230.3,287.1L230.3,287.6L230.3,288.1L230.3,288.6L230.3,289.1L230.3,289.6L230.4,290.1L230.4,290.6L230.4,291.1L230.4,291.6L230.4,292.1L230.4,292.6L230.5,293.1L230.5,293.6L230.5,294.1L230.5,294.6L230.5,295.1L230.6,295.6L230.6,296.1L230.6,296.6L230.6,297.1L230.6,297.6L230.6,298.1L230.7,298.6L230.7,299.1L230.7,299.6L230.7,300.1L230.7,300.6L230.8,301.1L230.8,301.6L230.8,302.1L230.8,302.6L230.8,303.1L230.8,303.6L230.9,304.1L230.9,304.6L230.9,305.1L230.9,305.6L230.9,306.1L230.9,306.6L231.0,307.1L231.0,307.6L231.0,308.1L231.0,308.6L231.0,309.1L231.1,309.6L231.1,310.1L231.1,310.6L231.1,311.1L231.1,311.6L231.1,312.1L231.2,312.6L231.2,313.1L231.2,313.6L231.2,314.1L231.2,314.6L231.3,315.1L231.3,315.6L231.3,316.1L231.3,316.6L231.3,317.1L231.3,317.6L231.4,318.1L231.4,318.6L231.4,319.1L231.4,319.6L231.4,320.1L231.5,320.6L231.5,321.1L231.5,321.6L231.5,322.1L231.5,322.6L231.5,323.1L231.6,323.6L231.6,324.1L231.6,324.6L231.6,325.1L231.6,325.6L231.7,326.1L231.7,326.6L231.7,327.1L231.7,327.6L231.7,328.1L231.7,328.6L231.8,329.1L231.8,329.6L231.8,330.1L231.8,330.6L231.8,331.1L231.9,331.6L231.9,332.1L231.9,332.6L231.9,333.1L231.9,333.6L232.0,334.1L232.0,334.6L232.0,335.1L232.0,335.6L232.0,336.1L232.0,336.6L232.1,337.1L232.1,337.6L232.1,338.1L232.1,338.6L232.1,339.1L232.2,339.6L232.2,340.1L232.2,340.6L232.2,341.1L232.2,341.6L232.2,342.1L232.3,342.6L232.3,343.1L232.3,343.6L232.3,344.1L232.3,344.6L232.4,345.1L232.4,345.6L232.4,346.1L232.4,346.6L232.4,347.1L232.5,347.6L232.5,348.1L232.5,348.6L232.5,349.1L232.5,349.6L232.5,350.1L232.6,350.6L232.6,351.1L232.6,351.6L232.6,352.1L232.6,352.6L232.7,353.1L232.7,353.6L232.7,354.1L232.7,354.6L232.7,355.1L232.8,355.6L232.8,356.1L232.8,356.6L232.8,357.1L232.8,357.6L232.9,358.1L232.9,358.6L232.9,359.1L232.9,359.6L232.9,360.1L232.9,360.6L233.0,361.1L233.0,361.6L233.0,362.1L233.0,362.6L233.0,363.1L233.1,363.6L233.1,364.1L233.1,364.6L233.1,365.1L233.1,365.6L233.2,366.1L233.2,366.6L233.2,367.1L233.2,367.6L233.2,368.1L233.3,368.6L233.3,369.1L233.3,369.6L233.3,370.1L233.3,370.6L233.4,371.1L233.4,371.6L233.4,372.1L233.4,372.6L233.4,373.1L233.5,373.6L233.5,374.1L233.5,374.6L233.5,375.1L233.5,375.6L233.6,376.1L233.6,376.6L233.6,377.1L233.6,377.6L233.6,378.1L233.7,378.6L233.7,379.1L233.7,379.6L233.7,380.1L233.7,380.6L233.7,381.1L233.8,381.6L233.8,382.1L233.8,382.6L233.8,383.1L233.8,383.6L233.9,384.1L233.9,384.6L233.9,385.1L233.9,385.6L234.0,386.1L234.0,386.6L234.0,387.0L234.0,387.5L234.0,388.0L234.1,388.5L234.1,389.0L234.1,389.5L234.1,390.0L234.1,390.5L234.2,391.0L234.2,391.5L234.2,392.0L234.2,392.5L234.2,393.0L234.3,393.5L234.3,394.0L234.3,394.5L234.3,395.0L234.3,395.5L234.4,396.0L234.4,396.5L234.4,397.0L234.4,397.5L234.4,398.0L234.5,398.5L234.5,399.0L234.5,399.5L234.5,400.0L234.5,400.5L234.6,401.0L234.6,401.5L234.6,402.0L234.6,402.5L234.6,403.0L234.7,403.5L234.7,404.0L234.7,404.5L234.7,405.0L234.8,405.5L234.8,406.0L234.8,406.5L234.8,407.0L234.8,407.5L234.9,408.0L234.9,408.5L234.9,409.0L234.9,409.5L234.9,410.0L235.0,410.5L235.0,411.0L235.0,411.5L235.0,412.0L235.0,412.5L235.1,413.0L235.1,413.5L235.1,414.0L235.1,414.5L235.2,415.0L235.2,415.5L235.2,416.0L235.2,416.5L235.2,417.0L235.3,417.5L235.3,418.0L235.3,418.5L235.3,419.0L235.3,419.5L235.4,420.0L235.4,420.5L235.4,421.0L235.4,421.5L235.5,422.0L235.5,422.5L235.5,423.0L235.5,423.5L235.5,424.0L235.6,424.5L235.6,425.0L235.6,425.5L235.6,426.0L235.7,426.5L235.7,427.0L235.7,427.5L235.7,428.0L235.7,428.5L235.8,429.0L235.8,429.5L235.8,430.0L235.8,430.5L235.9,431.0L235.9,431.5L235.9,432.0L235.9,432.5L235.9,433.0L236.0,433.5L236.0,434.0L236.0,434.5L236.0,435.0L236.1,435.5L236.1,436.0L236.1,436.5L236.1,437.0L236.2,437.5L236.2,438.0L236.2,438.5L236.2,439.0L236.2,439.5L236.3,440.0L236.3,440.5L236.3,441.0L236.3,441.5L236.4,442.0L236.4,442.5L236.4,443.0L236.4,443.5L236.5,444.0L236.5,444.5L236.5,445.0L236.5,445.5L236.5,446.0L236.6,446.5L236.6,447.0L236.6,447.5L236.6,448.0L236.7,448.5L236.7,449.0L236.7,449.5L236.7,450.0L236.8,450.5L236.8,451.0L236.8,451.5L236.8,452.0L236.9,452.5L236.9,453.0L236.9,453.5L236.9,454.0L237.0,454.5L237.0,455.0L237.0,455.5L237.0,456.0L237.1,456.5L237.1,457.0L237.1,457.5L237.1,458.0L237.2,458.5L237.2,459.0L237.2,459.5L237.2,460.0L237.3,460.5L237.3,461.0L237.3,461.5L237.3,462.0L237.4,462.5L237.4,463.0L237.4,463.5L237.4,464.0L237.5,464.5L237.5,465.0L237.5,465.5L237.5,466.0L237.6,466.5L237.6,467.0L237.6,467.5L237.6,468.0L237.7,468.5L237.7,469.0L237.7,469.5L237.8,470.0L237.8,470.5L237.8,471.0L237.8,471.5L237.9,472.0L237.9,472.5L237.9,472.9L237.9,473.4L238.0,473.9L238.0,474.4L238.0,474.9L238.1,475.4L238.1,475.9L238.1,476.4L238.1,476.9L238.2,477.4L238.2,477.9L238.2,478.4L238.2,478.9L238.3,479.4L238.3,479.9L238.3,480.4L238.4,480.9L238.4,481.4L238.4,481.9L238.5,482.4L238.5,482.9L238.5,483.4L238.5,483.9L238.6,484.4L238.6,484.9L238.6,485.4L238.7,485.9L238.7,486.4L238.7,486.9L238.7,487.4L238.8,487.9L238.8,488.4L238.8,488.9L238.9,489.4L238.9,489.9L238.9,490.4L239.0,490.9L239.0,491.4L239.0,491.9L239.1,492.4L239.1,492.9L239.1,493.4L239.1,493.9L239.2,494.4L239.2,494.9L239.2,495.4L239.3,495.9L239.3,496.4L239.3,496.9L239.4,497.4L239.4,497.9L239.4,498.4L239.5,498.9L239.5,499.4L239.5,499.9L239.6,500.4L239.6,500.9L239.6,501.4L239.7,501.9L239.7,502.4L239.8,502.9L239.8,503.4L239.8,503.9L239.9,504.4L239.9,504.9L239.9,505.4L240.0,505.9L240.0,506.4L240.1,506.9L240.1,507.4L240.1,507.9L240.2,508.4L240.2,508.9L240.3,509.4L240.3,509.9L240.3,510.4L240.4,510.9L240.4,511.4L240.5,511.9L240.5,512.4L240.6,512.9L240.6,513.4L240.6,513.9L240.7,514.4L240.7,514.9L240.8,515.4L240.8,515.9L240.9,516.4L240.9,516.9L241.0,517.4L241.0,517.9L241.1,518.4L241.1,518.8L241.2,519.3L241.2,519.8L241.3,520.3L241.3,520.8L241.4,521.3L241.4,521.8L241.5,522.3L241.6,522.8L241.6,523.3L241.7,523.8L241.7,524.3L241.8,524.8L241.8,525.3L241.9,525.8L242.0,526.3L242.0,526.8L242.1,527.3L242.2,527.8L242.2,528.2L242.3,528.7L242.3,529.2L242.4,529.7L242.5,530.2L242.5,530.7L242.6,531.2L242.7,531.7L242.8,532.2L242.8,532.7L242.9,533.2L243.0,533.7L243.1,534.2L243.1,534.6L243.2,535.1L243.3,535.6L243.4,536.1L243.4,536.6L243.5,537.1L243.6,537.6L243.7,538.1L243.8,538.6L243.8,539.1L243.9,539.5L244.0,540.0L244.1,540.5L244.2,541.0L244.3,541.5L244.4,542.0L244.5,542.5L244.6,543.0L244.7,543.5L244.8,544.0L244.9,544.4L245.0,544.9L245.1,545.4L245.2,545.9L245.3,546.4L245.4,546.9L245.5,547.4L245.6,547.9L245.8,548.4L245.9,548.9L246.0,549.4L246.1,549.9L246.3,550.4L246.4,550.9L246.5,551.4L246.7,551.9L246.8,552.4L246.9,552.9L247.1,553.4L247.2,553.9L247.4,554.4L247.6,554.9L247.7,555.4L247.9,555.9L248.1,556.3L248.3,556.8L248.5,557.3L248.7,557.7L248.9,558.2L249.2,558.6L249.4,559.0L249.7,559.4L250.0,559.8L250.3,560.2L250.6,560.5L251.0,560.8L251.3,561.1L251.7,561.3L252.2,561.6L252.6,561.8L253.0,562.0L253.5,562.2L254.0,562.3L254.5,562.5L255.0,562.7L255.4,562.9L255.9,563.0L256.4,563.2L256.9,563.4L257.4,563.6L257.9,563.7L258.4,563.9L258.9,564.1L259.4,564.2L259.9,564.4L260.4,564.5L260.9,564.6L261.4,564.8L261.9,564.9L262.4,565.0L262.9,565.0L263.4,565.1L263.9,565.1L264.4,565.2L264.9,565.2L265.3,565.2L265.8,565.1L266.3,565.1L266.8,565.0L267.2,564.9L267.7,564.7L268.2,564.6L268.6,564.4L269.1,564.2L269.5,564.0L270.0,563.8L270.4,563.5L270.9,563.3L271.3,563.0L271.8,562.8L272.2,562.6L272.7,562.3L273.1,562.1L273.6,561.9L274.1,561.6L274.5,561.4L275.0,561.2L275.5,561.0L275.9,560.8L276.4,560.6L276.9,560.4L277.4,560.2L277.8,560.1L278.3,559.9L278.8,559.7L279.3,559.6L279.8,559.4L280.2,559.3L280.7,559.2L281.2,559.0L281.7,558.9L282.2,558.8L282.7,558.7L283.2,558.6L283.6,558.5L284.1,558.5L284.6,558.4L285.1,558.3L285.6,558.3L286.1,558.2L286.6,558.2L287.1,558.2L287.6,558.2L288.0,558.2L288.5,558.2L289.0,558.2L289.5,558.3L290.0,558.3L290.5,558.4L290.9,558.4L291.4,558.5L291.9,558.6L292.4,558.7L292.9,558.8L293.3,558.9L293.8,559.1L294.3,559.2L294.8,559.4L295.2,559.6L295.7,559.7L296.2,559.9L296.6,560.1L297.1,560.3L297.6,560.5L298.0,560.7L298.5,561.0L299.0,561.2L299.4,561.4L299.9,561.6L300.3,561.9L300.8,562.1L301.3,562.3L301.7,562.6L302.2,562.8L302.6,563.1L303.1,563.3L303.5,563.5L304.0,563.8L304.4,564.0L304.9,564.2L305.3,564.4L305.8,564.6L306.3,564.9L306.7,565.1L307.2,565.2L307.6,565.4L308.1,565.6L308.5,565.7L309.0,565.8L309.5,565.9L309.9,566.0L310.4,566.0L310.9,566.0L311.4,566.0L311.9,566.0L312.4,565.9L312.9,565.9L313.4,565.8L313.9,565.7L314.3,565.6L314.8,565.5L315.3,565.4L315.8,565.3L316.3,565.2L316.8,565.1L317.3,565.0L317.8,564.9L318.3,564.7L318.8,564.6L319.3,564.5L319.8,564.4L320.3,564.3L320.8,564.2L321.3,564.1L321.8,564.0L322.2,563.9L322.7,563.9L323.2,563.8L323.7,563.7L324.2,563.6L324.7,563.5L325.2,563.5L325.7,563.4L326.2,563.3L326.7,563.3L327.2,563.2L327.7,563.2L328.2,563.2L328.6,563.1L329.1,563.1L329.6,563.1L330.1,563.1L330.6,563.1L331.1,563.1L331.6,563.1L332.1,563.1L332.6,563.2L333.1,563.2L333.6,563.3L334.1,563.4L334.6,563.4L335.1,563.5L335.5,563.6L336.0,563.7L336.5,563.9L337.0,564.0L337.5,564.1L338.0,564.2L338.5,564.3L339.0,564.5L339.5,564.6L340.0,564.7L340.5,564.8L341.0,564.9L341.5,565.0L341.9,565.1L342.4,565.2L342.9,565.3L343.4,565.4L343.9,565.4L344.4,565.5L344.9,565.5L345.4,565.6L345.9,565.6L346.4,565.7L346.9,565.7L347.4,565.7L347.9,565.7L348.4,565.7L348.9,565.7L349.4,565.7L349.8,565.7L350.3,565.6L350.8,565.6L351.3,565.5L351.8,565.5L352.3,565.4L352.8,565.4L353.3,565.3L353.8,565.3L354.3,565.2L354.8,565.2L355.3,565.1L355.8,565.0L356.3,565.0L356.8,564.9L357.3,564.8L357.8,564.7L358.3,564.7L358.8,564.6L359.3,564.5L359.8,564.4L360.3,564.4L360.8,564.3L361.3,564.2L361.8,564.1L362.3,564.1L362.8,564.0L363.3,563.9L363.7,563.8L364.2,563.8L364.7,563.7L365.2,563.6L365.7,563.5L366.2,563.5L366.7,563.4L367.2,563.3L367.7,563.3L368.2,563.2L368.7,563.2L369.2,563.1L369.7,563.1L370.2,563.0L370.7,563.0L371.2,562.9L371.7,562.9L372.2,562.8L372.7,562.8L373.2,562.7L373.7,562.7L374.2,562.7L374.7,562.6L375.2,562.6L375.7,562.6L376.2,562.6L376.7,562.5L377.2,562.5L377.7,562.5L378.2,562.5L378.7,562.4L379.2,562.4L379.7,562.4L380.2,562.4L380.7,562.4L381.1,562.4L381.6,562.4L382.1,562.3L382.6,562.3L383.1,562.3L383.6,562.3L384.1,562.3L384.6,562.3L385.1,562.3L385.6,562.3L386.1,562.3L386.6,562.3L387.1,562.3L387.6,562.3L388.1,562.3L388.6,562.3L389.1,562.3L389.6,562.3L390.1,562.3L390.6,562.3L391.1,562.3L391.6,562.3L392.1,562.3L392.6,562.3L393.1,562.3L393.6,562.3L394.1,562.3L394.6,562.3L395.1,562.3L395.6,562.3L396.1,562.3L396.6,562.3L397.1,562.3L397.6,562.3L398.1,562.3L398.6,562.3L399.2,562.3L399.7,562.3L400.2,562.3L400.7,562.3L401.2,562.3L401.7,562.3L402.2,562.3L402.7,562.3L403.2,562.3L403.7,562.3L404.2,562.4L404.7,562.4L405.2,562.4L405.7,562.4L406.2,562.4L406.7,562.5L407.1,562.5L407.6,562.5L408.1,562.6L408.6,562.6L409.1,562.7L409.6,562.8L410.1,562.8L410.6,562.9L411.1,563.0L411.6,563.1L412.1,563.2L412.6,563.3L413.0,563.4L413.5,563.5L414.0,563.6L414.5,563.7L415.0,563.8L415.5,564.0L415.9,564.1L416.4,564.2L416.9,564.4L417.4,564.5L417.9,564.6L418.4,564.8L418.8,564.9L419.3,565.1L419.8,565.2L420.3,565.3L420.8,565.5L421.3,565.6L421.7,565.7L422.2,565.8L422.7,565.9L423.2,566.0L423.7,566.1L424.2,566.2L424.7,566.3L425.2,566.4L425.7,566.4L426.2,566.5L426.7,566.5L427.2,566.5L427.7,566.6L428.2,566.6L428.7,566.6L429.2,566.6L429.7,566.6L430.2,566.6L430.7,566.6L431.2,566.7L431.7,566.7L432.2,566.7L432.7,566.7L433.2,566.7L433.7,566.7L434.2,566.7L434.7,566.7L435.2,566.7L435.7,566.7L436.2,566.7L436.7,566.7L437.2,566.7L437.7,566.7L438.2,566.7L438.7,566.7L439.2,566.7L439.7,566.7L440.2,566.7L440.7,566.7L441.2,566.7L441.7,566.7L442.2,566.7L442.7,566.7L443.2,566.7L443.7,566.7L444.2,566.7L444.7,566.7L445.2,566.7L445.7,566.7L446.2,566.7L446.7,566.7L447.2,566.7L447.7,566.7L448.2,566.7L448.7,566.7L449.2,566.7L449.7,566.7L450.2,566.7L450.7,566.7L451.2,566.7L451.7,566.7L452.2,566.6L452.7,566.6L453.2,566.6L453.7,566.6L454.2,566.6L454.7,566.6L455.2,566.6L455.7,566.6L456.2,566.6L456.7,566.6L457.2,566.6L457.7,566.6L458.2,566.6L458.7,566.6L459.2,566.5L459.7,566.5L460.2,566.5L460.7,566.5L461.2,566.5L461.7,566.5L462.2,566.5L462.7,566.5L463.2,566.5L463.7,566.5L464.2,566.5L464.7,566.5L465.2,566.5L465.7,566.5L466.2,566.5L466.7,566.5L467.2,566.4L467.7,566.4L468.2,566.4L468.7,566.4L469.2,566.4L469.7,566.4L470.2,566.4L470.7,566.4L471.2,566.4L471.7,566.4L472.2,566.4L472.7,566.4L473.2,566.4L473.7,566.4L474.2,566.4L474.7,566.4L475.2,566.3L475.7,566.3L476.2,566.3L476.7,566.3L477.2,566.3L477.7,566.3L478.2,566.3L478.7,566.3L479.2,566.3L479.7,566.2L480.2,566.2L480.7,566.2L481.2,566.2L481.7,566.2L482.2,566.2L482.7,566.1L483.2,566.1L483.7,566.1L484.2,566.1L484.7,566.0L485.2,566.0L485.7,566.0L486.2,566.0L486.7,565.9L487.2,565.9L487.7,565.9L488.2,565.8L488.6,565.8L489.1,565.8L489.6,565.8L490.1,565.8L490.6,565.7L491.1,565.7L491.6,565.7L492.1,565.7L492.6,565.7L493.1,565.6L493.6,565.6L494.1,565.6L494.6,565.6L495.1,565.6L495.6,565.6L496.1,565.6L496.6,565.6L497.1,565.6L497.6,565.6L498.1,565.7L498.6,565.7L499.1,565.7L499.6,565.7L500.1,565.8L500.6,565.8L501.1,565.8L501.6,565.9L502.1,565.9L502.6,566.0L503.1,566.0L503.6,566.1L504.1,566.1L504.6,566.2L505.1,566.3L505.6,566.3L506.1,566.4L506.6,566.5L507.1,566.5L507.6,566.6L508.1,566.7L508.6,566.7L509.1,566.8L509.6,566.9L510.1,566.9L510.6,567.0L511.1,567.0L511.6,567.1L512.1,567.2L512.6,567.2L513.1,567.3L513.6,567.3L514.0,567.4L514.5,567.4L515.0,567.5L515.5,567.5L516.0,567.5L516.5,567.6L517.0,567.6L517.5,567.6L518.0,567.6L518.5,567.6L519.0,567.6L519.5,567.7L520.0,567.7L520.5,567.7L521.0,567.7L521.5,567.7L522.0,567.7L522.5,567.7L523.0,567.6L523.5,567.6L524.0,567.6L524.5,567.6L525.0,567.6L525.5,567.6L526.0,567.6L526.5,567.6L527.0,567.6L527.5,567.6L528.0,567.6L528.5,567.6L529.0,567.5L529.5,567.5L530.0,567.5L530.5,567.5L531.0,567.5L531.5,567.5L532.0,567.5L532.5,567.6L533.0,567.6L533.5,567.6L534.0,567.6L534.5,567.6L535.0,567.6L535.5,567.6L536.0,567.6L536.5,567.6L537.0,567.6L537.5,567.7L538.1,567.7L538.6,567.7L539.1,567.7L539.6,567.7L540.1,567.7L540.6,567.7L541.1,567.7L541.6,567.6L542.1,567.6L542.6,567.6L543.1,567.6L543.6,567.5L544.1,567.5L544.5,567.4L545.0,567.4L545.5,567.3L546.0,567.3L546.5,567.2L547.0,567.1L547.5,567.0L548.0,566.9L548.5,566.8L548.9,566.7L549.4,566.6L549.9,566.5L550.4,566.3L550.8,566.2L551.3,566.0L551.8,565.9L552.3,565.7L552.7,565.5L553.2,565.4L553.7,565.2L554.2,565.0L554.6,564.8L555.1,564.7L555.6,564.5L556.0,564.3L556.5,564.1L557.0,563.9L557.5,563.8L557.9,563.6L558.4,563.4L558.9,563.3L559.4,563.1L559.9,563.0L560.3,562.8L560.8,562.7L561.3,562.5L561.8,562.4L562.3,562.3L562.8,562.2L563.3,562.1L563.8,562.0L564.3,561.9L564.8,561.9L565.3,561.8L565.8,561.8L566.3,561.7L566.8,561.7L567.3,561.7L567.8,561.7L568.3,561.7L568.7,561.7L569.2,561.7L569.7,561.7L570.2,561.8L570.7,561.9L571.2,561.9L571.7,562.0L572.2,562.1L572.6,562.2L573.1,562.3L573.6,562.4L574.1,562.5L574.6,562.6L575.0,562.7L575.5,562.9L576.0,563.0L576.5,563.1L577.0,563.3L577.4,563.4L577.9,563.6L578.4,563.7L578.9,563.9L579.3,564.1L579.8,564.2L580.3,564.4L580.8,564.5L581.2,564.7L581.7,564.9L582.2,565.0L582.7,565.2L583.2,565.3L583.6,565.5L584.1,565.7L584.6,565.8L585.1,566.0L585.6,566.1L586.0,566.3L586.5,566.4L587.0,566.5L587.5,566.7L588.0,566.8L588.5,566.9L588.9,567.0L589.4,567.1L589.9,567.2L590.4,567.3L590.9,567.4L591.4,567.5L591.9,567.6L592.4,567.7L592.9,567.8L593.4,567.8L593.8,567.9L594.3,568.0L594.8,568.0L595.3,568.1L595.8,568.2L596.3,568.2L596.8,568.3L597.3,568.3L597.8,568.4L598.3,568.4L598.8,568.4L599.3,568.5L599.8,568.5L600.3,568.6L600.8,568.6L601.3,568.6L601.8,568.7L602.3,568.7L602.8,568.7L603.3,568.8L603.8,568.8L604.3,568.8L604.8,568.8L605.3,568.9L605.8,568.9L606.3,568.9L606.8,568.9L607.3,568.9L607.8,569.0L608.3,569.0L608.8,569.0L609.3,569.0L609.8,569.0L610.3,569.1L610.8,569.1L611.3,569.1L611.8,569.1L612.3,569.1L612.8,569.2L613.3,569.2L613.8,569.2L614.3,569.2L614.8,569.2L615.3,569.2L615.8,569.2L616.3,569.3L616.8,569.3L617.3,569.3L617.8,569.3L618.3,569.3L618.8,569.3L619.3,569.3L619.8,569.3L620.3,569.3L620.8,569.4L621.3,569.4L621.8,569.4L622.3,569.4L622.8,569.4L623.3,569.4L623.8,569.4L624.3,569.4L624.8,569.4L625.3,569.4L625.8,569.4L626.3,569.4L626.8,569.4L627.3,569.4L627.8,569.5L628.3,569.5L628.8,569.5L629.3,569.5L629.8,569.5L630.3,569.5L630.8,569.5L631.3,569.5L631.8,569.5L632.3,569.5L632.8,569.5L633.3,569.5L633.8,569.5L634.3,569.5L634.8,569.5L635.3,569.5L635.8,569.5L636.3,569.5L636.8,569.5L637.3,569.5L637.8,569.5L638.3,569.5L638.8,569.5L639.3,569.5L639.8,569.5L640.3,569.5L640.8,569.5L641.3,569.5L641.8,569.5L642.3,569.5L642.8,569.5L643.3,569.5L643.8,569.5L644.3,569.5L644.8,569.5L645.3,569.5L645.8,569.5L646.3,569.5L646.8,569.5L647.3,569.5L647.8,569.5L648.3,569.5L648.8,569.5L649.3,569.5L649.8,569.5L650.3,569.5L650.8,569.5L651.3,569.5L651.8,569.5L652.3,569.5L652.8,569.5L653.3,569.5L653.8,569.5L654.3,569.5L654.8,569.5L655.3,569.5L655.8,569.5L656.3,569.5L656.8,569.5L657.3,569.5L657.8,569.5L658.3,569.5L658.8,569.5L659.3,569.5L659.8,569.5L660.3,569.5L660.8,569.5L661.3,569.5L661.8,569.5L662.3,569.5L662.8,569.5L663.3,569.5L663.8,569.5L664.3,569.5L664.8,569.5L665.3,569.5L665.8,569.5L666.3,569.5L666.8,569.5L667.3,569.5L667.8,569.5L668.3,569.5L668.8,569.5L669.3,569.5L669.8,569.5L670.3,569.5L670.8,569.5L671.3,569.5L671.8,569.5L672.3,569.5L672.8,569.5L673.3,569.5L673.8,569.5L674.3,569.5L674.8,569.5L675.3,569.5L675.8,569.5L676.3,569.5L676.8,569.5L677.3,569.5L677.8,569.5L678.3,569.5L678.8,569.5L679.3,569.5L679.8,569.5L680.3,569.5L680.8,569.5L681.3,569.5L681.8,569.5L682.3,569.5L682.8,569.5L683.3,569.5L683.8,569.5L684.3,569.5L684.8,569.5L685.3,569.5L685.8,569.5L686.3,569.5L686.8,569.5L687.3,569.5L687.8,569.5L688.3,569.5L688.8,569.5L689.3,569.5L689.8,569.5L690.3,569.5L690.8,569.5L691.3,569.5L691.8,569.5L692.3,569.5L692.8,569.5L693.3,569.5L693.8,569.5L694.3,569.5L694.8,569.5L695.3,569.5L695.8,569.5L696.3,569.5L696.8,569.5L697.3,569.5L697.8,569.5L698.3,569.5L698.8,569.5L699.3,569.5L699.8,569.5L700.3,569.5L700.8,569.5L701.3,569.5L701.8,569.5L702.3,569.5L702.8,569.5L703.3,569.5L703.8,569.5L704.3,569.5L704.8,569.5L705.0,569.5"/>
</g>
<path d="M80.40,569.70 L80.40,10.45 L704.90,10.45 L704.90,569.70" fill="none" stroke="#000" stroke-width="2.8" stroke-linejoin="round"/>
<line x1="80.20" y1="569.6" x2="707.60" y2="569.6" stroke="#000" stroke-width="3.9"/>
<g stroke="#000" stroke-width="2.6">
<line x1="80.20" y1="569.90" x2="80.20" y2="550.10"/>
<line x1="101.07" y1="569.90" x2="101.07" y2="560.00"/>
<line x1="121.94" y1="569.90" x2="121.94" y2="560.00"/>
<line x1="142.81" y1="569.90" x2="142.81" y2="560.00"/>
<line x1="163.68" y1="569.90" x2="163.68" y2="560.00"/>
<line x1="184.55" y1="569.90" x2="184.55" y2="550.10"/>
<line x1="205.42" y1="569.90" x2="205.42" y2="560.00"/>
<line x1="226.29" y1="569.90" x2="226.29" y2="560.00"/>
<line x1="247.16" y1="569.90" x2="247.16" y2="560.00"/>
<line x1="268.03" y1="569.90" x2="268.03" y2="560.00"/>
<line x1="288.90" y1="569.90" x2="288.90" y2="550.10"/>
<line x1="309.77" y1="569.90" x2="309.77" y2="560.00"/>
<line x1="330.64" y1="569.90" x2="330.64" y2="560.00"/>
<line x1="351.51" y1="569.90" x2="351.51" y2="560.00"/>
<line x1="372.38" y1="569.90" x2="372.38" y2="560.00"/>
<line x1="393.25" y1="569.90" x2="393.25" y2="550.10"/>
<line x1="414.12" y1="569.90" x2="414.12" y2="560.00"/>
<line x1="434.99" y1="569.90" x2="434.99" y2="560.00"/>
<line x1="455.86" y1="569.90" x2="455.86" y2="560.00"/>
<line x1="476.73" y1="569.90" x2="476.73" y2="560.00"/>
<line x1="497.60" y1="569.90" x2="497.60" y2="550.10"/>
<line x1="518.47" y1="569.90" x2="518.47" y2="560.00"/>
<line x1="539.34" y1="569.90" x2="539.34" y2="560.00"/>
<line x1="560.21" y1="569.90" x2="560.21" y2="560.00"/>
<line x1="581.08" y1="569.90" x2="581.08" y2="560.00"/>
<line x1="601.95" y1="569.90" x2="601.95" y2="550.10"/>
<line x1="622.82" y1="569.90" x2="622.82" y2="560.00"/>
<line x1="643.69" y1="569.90" x2="643.69" y2="560.00"/>
<line x1="664.56" y1="569.90" x2="664.56" y2="560.00"/>
<line x1="685.43" y1="569.90" x2="685.43" y2="560.00"/>
<line x1="706.30" y1="569.90" x2="706.30" y2="550.10"/>
<line x1="80.40" y1="569.90" x2="100.60" y2="569.90"/>
<line x1="80.40" y1="547.52" x2="90.30" y2="547.52"/>
<line x1="80.40" y1="525.14" x2="90.30" y2="525.14"/>
<line x1="80.40" y1="502.77" x2="90.30" y2="502.77"/>
<line x1="80.40" y1="480.39" x2="90.30" y2="480.39"/>
<line x1="80.40" y1="458.01" x2="100.60" y2="458.01"/>
<line x1="80.40" y1="435.63" x2="90.30" y2="435.63"/>
<line x1="80.40" y1="413.25" x2="90.30" y2="413.25"/>
<line x1="80.40" y1="390.88" x2="90.30" y2="390.88"/>
<line x1="80.40" y1="368.50" x2="90.30" y2="368.50"/>
<line x1="80.40" y1="346.12" x2="100.60" y2="346.12"/>
<line x1="80.40" y1="323.74" x2="90.30" y2="323.74"/>
<line x1="80.40" y1="301.36" x2="90.30" y2="301.36"/>
<line x1="80.40" y1="278.99" x2="90.30" y2="278.99"/>
<line x1="80.40" y1="256.61" x2="90.30" y2="256.61"/>
<line x1="80.40" y1="234.23" x2="100.60" y2="234.23"/>
<line x1="80.40" y1="211.85" x2="90.30" y2="211.85"/>
<line x1="80.40" y1="189.47" x2="90.30" y2="189.47"/>
<line x1="80.40" y1="167.10" x2="90.30" y2="167.10"/>
<line x1="80.40" y1="144.72" x2="90.30" y2="144.72"/>
<line x1="80.40" y1="122.34" x2="100.60" y2="122.34"/>
<line x1="80.40" y1="99.96" x2="90.30" y2="99.96"/>
<line x1="80.40" y1="77.58" x2="90.30" y2="77.58"/>
<line x1="80.40" y1="55.21" x2="90.30" y2="55.21"/>
<line x1="80.40" y1="32.83" x2="90.30" y2="32.83"/>
<line x1="80.40" y1="10.45" x2="100.60" y2="10.45"/>
</g>
<g font-size="29.3">
<text x="65.20" y="580.00" text-anchor="end">0</text>
<text x="65.20" y="468.11" text-anchor="end">1</text>
<text x="65.20" y="356.22" text-anchor="end">2</text>
<text x="65.20" y="244.33" text-anchor="end">3</text>
<text x="65.20" y="132.44" text-anchor="end">4</text>
<text x="65.20" y="20.55" text-anchor="end">5</text>
<text x="80.30" y="604.3" text-anchor="middle">100</text>
<text x="184.65" y="604.3" text-anchor="middle">150</text>
<text x="289.00" y="604.3" text-anchor="middle">200</text>
<text x="393.35" y="604.3" text-anchor="middle">250</text>
<text x="497.70" y="604.3" text-anchor="middle">300</text>
<text x="602.05" y="604.3" text-anchor="middle">350</text>
<text x="706.40" y="604.3" text-anchor="middle">400</text>
</g>
<text x="393.25" y="649.3" font-size="29.3" text-anchor="middle">f [Hz]</text>
<text transform="translate(27.10,433.00) rotate(-90)" font-size="29.3">PSD of CH*' [a.u.<tspan font-size="19" dy="-12.5">2</tspan><tspan dy="12.5">/Hz]</tspan></text>
<line x1="450.00" y1="44.00" x2="599.50" y2="44.00" stroke="#cc0000" stroke-width="2.5"/>
<line x1="450.00" y1="83.75" x2="599.50" y2="83.75" stroke="#00cc00" stroke-width="2.5"/>
<line x1="450.00" y1="123.50" x2="599.50" y2="123.50" stroke="#1414ff" stroke-width="2.5"/>
<g font-size="29.8">
<text transform="translate(607.20,53.80) scale(1,1.060)" x="0" y="0">C<tspan font-size="21" dy="8.4">2</tspan><tspan dy="-8.4">H</tspan><tspan font-size="21" dy="8.4">4</tspan></text>
<text transform="translate(607.20,93.80) scale(1,1.060)" x="0" y="0">C<tspan font-size="21" dy="8.4">2</tspan><tspan dy="-8.4">H</tspan><tspan font-size="21">6</tspan></text>
<text transform="translate(607.20,133.80) scale(1,1.060)" x="0" y="0">C<tspan font-size="21" dy="8.4">3</tspan><tspan dy="-8.4">H</tspan><tspan font-size="21" dy="8.4">8</tspan></text>
</g>
<g fill="none" stroke-width="2.6" stroke-linejoin="round" stroke-linecap="round">
<path stroke="#cc0000" d="M837.4,567.6L837.9,567.5L838.4,567.5L838.9,567.4L839.4,567.3L839.8,567.3L840.3,567.2L840.8,567.2L841.3,567.1L841.8,567.0L842.3,567.0L842.8,566.9L843.3,566.9L843.8,566.8L844.3,566.8L844.8,566.7L845.3,566.7L845.8,566.7L846.3,566.6L846.8,566.6L847.3,566.6L847.8,566.5L848.3,566.5L848.8,566.5L849.3,566.5L849.8,566.5L850.3,566.5L850.8,566.5L851.3,566.5L851.8,566.5L852.3,566.5L852.8,566.6L853.3,566.6L853.8,566.7L854.3,566.7L854.8,566.8L855.3,566.8L855.8,566.9L856.3,567.0L856.8,567.0L857.3,567.1L857.8,567.2L858.3,567.3L858.8,567.4L859.3,567.5L859.7,567.7L860.2,567.8L860.7,567.9L861.2,568.0L861.7,568.1L862.2,568.2L862.7,568.3L863.2,568.4L863.6,568.5L864.1,568.6L864.6,568.7L865.1,568.8L865.6,568.9L866.1,569.0L866.6,569.1L867.1,569.1L867.6,569.2L868.1,569.2L868.6,569.2L869.1,569.3L869.6,569.3L870.1,569.3L870.6,569.3L871.1,569.4L871.6,569.4L872.1,569.4L872.6,569.4L873.1,569.4L873.6,569.4L874.1,569.4L874.6,569.5L875.1,569.5L875.6,569.5L876.1,569.5L876.6,569.5L877.1,569.5L877.6,569.5L878.1,569.5L878.6,569.5L879.1,569.5L879.6,569.5L880.1,569.5L880.6,569.6L881.1,569.6L881.6,569.6L882.1,569.6L882.6,569.6L883.1,569.6L883.6,569.6L884.1,569.6L884.6,569.6L885.1,569.6L885.6,569.6L886.1,569.6L886.6,569.6L887.1,569.6L887.6,569.6L888.1,569.6L888.6,569.6L889.1,569.6L889.6,569.6L890.1,569.6L890.6,569.6L891.1,569.6L891.6,569.6L892.1,569.6L892.6,569.6L893.1,569.6L893.6,569.6L894.1,569.6L894.6,569.6L895.1,569.6L895.6,569.6L896.1,569.6L896.6,569.6L897.1,569.6L897.6,569.6L898.1,569.6L898.6,569.6L899.1,569.6L899.6,569.6L900.1,569.6L900.6,569.6L901.1,569.6L901.6,569.6L902.1,569.6L902.6,569.6L903.1,569.6L903.6,569.6L904.1,569.6L904.6,569.6L905.1,569.6L905.6,569.6L906.1,569.6L906.6,569.6L907.1,569.6L907.6,569.6L908.1,569.6L908.6,569.6L909.1,569.5L909.6,569.5L910.1,569.5L910.6,569.5L911.1,569.5L911.6,569.5L912.1,569.5L912.6,569.5L913.1,569.5L913.6,569.5L914.1,569.5L914.6,569.5L915.1,569.5L915.6,569.5L916.1,569.5L916.6,569.5L917.1,569.5L917.6,569.5L918.1,569.5L918.6,569.5L919.1,569.5L919.6,569.5L920.1,569.5L920.6,569.5L921.1,569.5L921.6,569.5L922.1,569.5L922.6,569.5L923.1,569.5L923.6,569.5L924.1,569.5L924.6,569.5L925.1,569.5L925.6,569.5L926.1,569.5L926.6,569.5L927.1,569.5L927.6,569.5L928.1,569.5L928.6,569.5L929.1,569.5L929.6,569.5L930.1,569.5L930.6,569.5L931.1,569.5L931.6,569.5L932.1,569.5L932.6,569.5L933.1,569.5L933.6,569.5L934.1,569.5L934.6,569.5L935.1,569.5L935.6,569.5L936.1,569.5L936.6,569.5L937.1,569.5L937.6,569.6L938.1,569.6L938.6,569.6L939.1,569.6L939.6,569.6L940.1,569.6L940.6,569.6L941.1,569.6L941.6,569.6L942.1,569.6L942.6,569.6L943.1,569.6L943.6,569.6L944.1,569.6L944.6,569.6L945.1,569.6L945.6,569.6L946.1,569.6L946.6,569.5L947.1,569.5L947.6,569.5L948.1,569.5L948.6,569.5L949.1,569.5L949.6,569.4L950.1,569.4L950.6,569.4L951.1,569.3L951.6,569.3L952.0,569.3L952.5,569.2L953.0,569.2L953.5,569.1L954.0,569.1L954.5,569.0L955.0,569.0L955.5,568.9L956.0,568.8L956.5,568.7L957.0,568.7L957.5,568.6L958.0,568.5L958.5,568.4L959.0,568.3L959.5,568.2L960.0,568.0L960.5,567.9L961.0,567.7L961.4,567.6L961.9,567.4L962.4,567.2L962.8,567.0L963.3,566.8L963.7,566.6L964.2,566.3L964.6,566.0L965.0,565.8L965.4,565.5L965.8,565.2L966.2,564.9L966.6,564.5L966.9,564.2L967.3,563.8L967.6,563.5L967.9,563.1L968.2,562.7L968.5,562.3L968.8,561.9L969.1,561.5L969.3,561.0L969.6,560.6L969.8,560.2L970.0,559.7L970.2,559.3L970.4,558.8L970.6,558.4L970.8,557.9L971.0,557.4L971.2,557.0L971.4,556.5L971.6,556.0L971.8,555.5L971.9,555.1L972.1,554.6L972.3,554.1L972.5,553.6L972.6,553.2L972.8,552.7L973.0,552.2L973.1,551.8L973.3,551.3L973.5,550.8L973.6,550.3L973.8,549.8L973.9,549.4L974.1,548.9L974.2,548.4L974.4,547.9L974.5,547.5L974.7,547.0L974.8,546.5L975.0,546.0L975.1,545.6L975.3,545.1L975.4,544.6L975.6,544.1L975.7,543.6L975.9,543.2L976.0,542.7L976.1,542.2L976.3,541.7L976.4,541.2L976.5,540.8L976.7,540.3L976.8,539.8L976.9,539.3L977.0,538.8L977.2,538.3L977.3,537.9L977.4,537.4L977.6,536.9L977.7,536.4L977.8,535.9L977.9,535.4L978.0,535.0L978.2,534.5L978.3,534.0L978.4,533.5L978.5,533.0L978.6,532.5L978.7,532.1L978.9,531.6L979.0,531.1L979.1,530.6L979.2,530.1L979.3,529.6L979.4,529.1L979.5,528.6L979.6,528.2L979.7,527.7L979.9,527.2L980.0,526.7L980.1,526.2L980.2,525.7L980.3,525.2L980.4,524.7L980.5,524.3L980.6,523.8L980.7,523.3L980.8,522.8L980.9,522.3L981.0,521.8L981.1,521.3L981.2,520.8L981.3,520.3L981.4,519.9L981.5,519.4L981.6,518.9L981.7,518.4L981.8,517.9L981.9,517.4L982.0,516.9L982.1,516.4L982.2,515.9L982.3,515.4L982.4,514.9L982.5,514.5L982.6,514.0L982.7,513.5L982.8,513.0L982.9,512.5L983.0,512.0L983.1,511.5L983.2,511.0L983.3,510.5L983.4,510.0L983.5,509.5L983.6,509.1L983.7,508.6L983.8,508.1L983.9,507.6L984.0,507.1L984.1,506.6L984.2,506.1L984.4,505.6L984.5,505.1L984.6,504.6L984.7,504.1L984.8,503.6L984.9,503.2L985.0,502.7L985.1,502.2L985.2,501.7L985.3,501.2L985.4,500.7L985.5,500.2L985.6,499.7L985.7,499.3L985.8,498.8L986.0,498.3L986.1,497.8L986.2,497.3L986.3,496.8L986.4,496.3L986.5,495.9L986.6,495.4L986.7,494.9L986.9,494.4L987.0,493.9L987.1,493.5L987.2,493.0L987.3,492.5L987.5,492.0L987.6,491.5L987.7,491.1L987.8,490.6L988.0,490.1L988.1,489.6L988.2,489.1L988.3,488.7L988.5,488.2L988.6,487.7L988.7,487.2L988.9,486.7L989.0,486.2L989.2,485.8L989.3,485.3L989.4,484.8L989.6,484.3L989.7,483.8L989.9,483.3L990.0,482.8L990.2,482.3L990.4,481.8L990.6,481.3L990.8,480.9L991.0,480.4L991.2,479.9L991.5,479.4L991.8,479.0L992.1,478.6L992.4,478.3L992.8,478.0L993.1,477.7L993.5,477.6L993.9,477.5L994.4,477.5L994.8,477.5L995.2,477.7L995.6,477.9L996.1,478.1L996.5,478.4L996.8,478.7L997.2,479.0L997.5,479.3L997.8,479.7L998.1,480.1L998.4,480.5L998.7,480.9L998.9,481.3L999.2,481.7L999.4,482.2L999.6,482.6L999.8,483.1L1000.0,483.6L1000.2,484.1L1000.3,484.6L1000.5,485.1L1000.7,485.6L1000.8,486.1L1001.0,486.6L1001.1,487.1L1001.3,487.6L1001.4,488.1L1001.5,488.6L1001.7,489.1L1001.8,489.6L1001.9,490.0L1002.1,490.5L1002.2,491.0L1002.3,491.5L1002.4,492.0L1002.6,492.5L1002.7,493.0L1002.8,493.5L1002.9,494.0L1003.1,494.4L1003.2,494.9L1003.3,495.4L1003.4,495.9L1003.5,496.4L1003.6,496.9L1003.7,497.3L1003.8,497.8L1004.0,498.3L1004.1,498.8L1004.2,499.3L1004.3,499.8L1004.4,500.2L1004.5,500.7L1004.6,501.2L1004.7,501.7L1004.8,502.2L1004.9,502.7L1005.0,503.1L1005.1,503.6L1005.2,504.1L1005.3,504.6L1005.4,505.1L1005.5,505.6L1005.6,506.0L1005.7,506.5L1005.8,507.0L1005.9,507.5L1006.0,508.0L1006.1,508.5L1006.2,509.0L1006.3,509.5L1006.4,509.9L1006.5,510.4L1006.6,510.9L1006.7,511.4L1006.8,511.9L1006.9,512.4L1007.0,512.9L1007.1,513.4L1007.2,513.8L1007.3,514.3L1007.4,514.8L1007.5,515.3L1007.6,515.8L1007.7,516.3L1007.8,516.8L1007.9,517.3L1008.0,517.8L1008.1,518.2L1008.2,518.7L1008.3,519.2L1008.4,519.7L1008.5,520.2L1008.6,520.7L1008.7,521.2L1008.8,521.7L1008.9,522.2L1009.0,522.7L1009.1,523.1L1009.2,523.6L1009.3,524.1L1009.5,524.6L1009.6,525.1L1009.7,525.6L1009.8,526.1L1009.9,526.6L1010.0,527.1L1010.1,527.6L1010.2,528.0L1010.3,528.5L1010.4,529.0L1010.6,529.5L1010.7,530.0L1010.8,530.5L1010.9,531.0L1011.0,531.5L1011.1,532.0L1011.3,532.5L1011.4,532.9L1011.5,533.4L1011.6,533.9L1011.8,534.4L1011.9,534.9L1012.0,535.4L1012.1,535.9L1012.3,536.4L1012.4,536.8L1012.5,537.3L1012.7,537.8L1012.8,538.3L1012.9,538.8L1013.1,539.3L1013.2,539.8L1013.4,540.2L1013.5,540.7L1013.7,541.2L1013.8,541.7L1014.0,542.1L1014.1,542.6L1014.3,543.1L1014.5,543.6L1014.6,544.0L1014.8,544.5L1015.0,545.0L1015.1,545.4L1015.3,545.9L1015.5,546.4L1015.7,546.8L1015.9,547.3L1016.1,547.7L1016.3,548.2L1016.5,548.6L1016.7,549.1L1016.9,549.5L1017.1,550.0L1017.4,550.4L1017.6,550.9L1017.8,551.3L1018.1,551.7L1018.3,552.2L1018.5,552.6L1018.8,553.0L1019.1,553.4L1019.3,553.9L1019.6,554.3L1019.9,554.7L1020.1,555.1L1020.4,555.5L1020.7,555.9L1021.0,556.3L1021.3,556.7L1021.6,557.1L1021.9,557.5L1022.3,557.9L1022.6,558.2L1022.9,558.6L1023.3,559.0L1023.6,559.4L1024.0,559.7L1024.3,560.1L1024.7,560.4L1025.1,560.7L1025.4,561.1L1025.8,561.4L1026.2,561.7L1026.6,562.0L1027.0,562.3L1027.4,562.6L1027.9,562.9L1028.3,563.1L1028.7,563.4L1029.2,563.6L1029.6,563.9L1030.1,564.1L1030.5,564.3L1031.0,564.5L1031.5,564.7L1031.9,564.8L1032.4,565.0L1032.9,565.2L1033.4,565.3L1033.9,565.4L1034.3,565.6L1034.8,565.7L1035.3,565.8L1035.8,565.9L1036.3,566.0L1036.8,566.0L1037.3,566.1L1037.8,566.2L1038.3,566.2L1038.8,566.3L1039.3,566.3L1039.8,566.3L1040.3,566.4L1040.8,566.4L1041.3,566.4L1041.8,566.5L1042.3,566.5L1042.8,566.5L1043.2,566.5L1043.7,566.6L1044.2,566.6L1044.7,566.6L1045.2,566.6L1045.7,566.7L1046.2,566.7L1046.7,566.7L1047.2,566.8L1047.7,566.8L1048.2,566.9L1048.7,566.9L1049.2,566.9L1049.7,567.0L1050.2,567.0L1050.7,567.0L1051.2,567.1L1051.7,567.1L1052.2,567.2L1052.7,567.2L1053.2,567.2L1053.7,567.3L1054.2,567.3L1054.7,567.4L1055.2,567.4L1055.7,567.4L1056.2,567.5L1056.7,567.5L1057.2,567.6L1057.7,567.6L1058.2,567.6L1058.7,567.7L1059.2,567.7L1059.7,567.8L1060.2,567.8L1060.7,567.8L1061.2,567.9L1061.7,567.9L1062.2,567.9L1062.7,568.0L1063.2,568.0L1063.7,568.1L1064.2,568.1L1064.7,568.1L1065.2,568.1L1065.7,568.2L1066.2,568.2L1066.7,568.2L1067.2,568.3L1067.7,568.3L1068.2,568.3L1068.7,568.4L1069.2,568.4L1069.7,568.4L1070.2,568.4L1070.7,568.5L1071.2,568.5L1071.7,568.5L1072.2,568.6L1072.7,568.6L1073.2,568.6L1073.7,568.6L1074.2,568.7L1074.7,568.7L1075.2,568.7L1075.7,568.7L1076.2,568.7L1076.7,568.8L1077.2,568.8L1077.7,568.8L1078.2,568.8L1078.7,568.9L1079.2,568.9L1079.7,568.9L1080.2,568.9L1080.7,568.9L1081.2,568.9L1081.7,569.0L1082.2,569.0L1082.7,569.0L1083.2,569.0L1083.7,569.0L1084.2,569.1L1084.7,569.1L1085.2,569.1L1085.7,569.1L1086.2,569.1L1086.7,569.1L1087.2,569.1L1087.7,569.2L1088.2,569.2L1088.7,569.2L1089.2,569.2L1089.7,569.2L1090.2,569.2L1090.7,569.2L1091.2,569.3L1091.7,569.3L1092.2,569.3L1092.7,569.3L1093.2,569.3L1093.7,569.3L1094.2,569.3L1094.7,569.3L1095.2,569.3L1095.7,569.3L1096.2,569.4L1096.7,569.4L1097.2,569.4L1097.7,569.4L1098.2,569.4L1098.7,569.4L1099.2,569.4L1099.6,569.4L1100.1,569.4L1100.6,569.4L1101.1,569.4L1101.6,569.4L1102.1,569.5L1102.6,569.5L1103.1,569.5L1103.6,569.5L1104.1,569.5L1104.6,569.5L1105.1,569.5L1105.6,569.5L1106.1,569.5L1106.6,569.5L1107.1,569.5L1107.6,569.5L1108.1,569.5L1108.6,569.5L1109.1,569.5L1109.6,569.5L1110.1,569.5L1110.6,569.5L1111.1,569.5L1111.6,569.5L1112.1,569.6L1112.6,569.6L1113.1,569.6L1113.6,569.6L1114.1,569.6L1114.6,569.6L1115.1,569.6L1115.6,569.6L1116.1,569.6L1116.6,569.6L1117.1,569.6L1117.6,569.6L1118.1,569.6L1118.6,569.6L1119.1,569.6L1119.6,569.6L1120.1,569.6L1120.6,569.6L1121.1,569.6L1121.6,569.6L1122.1,569.6L1122.6,569.6L1123.1,569.6L1123.6,569.6L1124.1,569.6L1124.6,569.6L1125.1,569.6L1125.6,569.6L1126.1,569.6L1126.6,569.6L1127.1,569.6L1127.6,569.6L1128.1,569.6L1128.6,569.6L1129.1,569.6L1129.6,569.6L1130.1,569.6L1130.6,569.6L1131.1,569.6L1131.6,569.6L1132.1,569.6L1132.6,569.6L1133.1,569.6L1133.6,569.6L1134.1,569.6L1134.6,569.6L1135.1,569.6L1135.6,569.6L1136.1,569.6L1136.6,569.6L1137.1,569.6L1137.6,569.6L1138.1,569.6L1138.6,569.6L1139.1,569.6L1139.6,569.6L1140.1,569.6L1140.6,569.6L1141.1,569.6L1141.6,569.6L1142.1,569.6L1142.6,569.6L1143.1,569.6L1143.6,569.6L1144.1,569.6L1144.6,569.6L1145.1,569.6L1145.6,569.6L1146.1,569.6L1146.6,569.6L1147.1,569.6L1147.6,569.6L1148.1,569.6L1148.6,569.6L1149.1,569.6L1149.6,569.6L1150.1,569.6L1150.6,569.6L1151.1,569.6L1151.6,569.6L1152.1,569.6L1152.6,569.6L1153.1,569.6L1153.6,569.6L1154.1,569.6L1154.6,569.6L1155.1,569.6L1155.6,569.6L1156.1,569.6L1156.6,569.6L1157.1,569.6L1157.6,569.6L1158.1,569.6L1158.6,569.6L1159.1,569.6L1159.6,569.6L1160.1,569.6L1160.6,569.6L1161.1,569.6L1161.6,569.6L1162.1,569.6L1162.6,569.6L1163.1,569.6L1163.6,569.6L1164.1,569.6L1164.6,569.6L1165.1,569.6L1165.6,569.6L1166.1,569.6L1166.6,569.6L1167.1,569.6L1167.6,569.6L1168.1,569.6L1168.6,569.6L1169.1,569.6L1169.6,569.6L1170.1,569.6L1170.6,569.6L1171.1,569.6L1171.6,569.6L1172.1,569.6L1172.6,569.6L1173.1,569.6L1173.6,569.6L1174.1,569.6L1174.6,569.6L1175.1,569.6L1175.6,569.6L1176.1,569.6L1176.6,569.6L1177.1,569.6L1177.6,569.6L1178.1,569.6L1178.6,569.6L1179.1,569.6L1179.6,569.6L1180.1,569.6L1180.6,569.6L1181.1,569.6L1181.6,569.6L1182.1,569.6L1182.6,569.6L1183.1,569.6L1183.6,569.6L1184.1,569.6L1184.6,569.6L1185.1,569.6L1185.6,569.6L1186.1,569.6L1186.6,569.6L1187.1,569.6L1187.6,569.6L1188.1,569.6L1188.6,569.6L1189.1,569.6L1189.6,569.6L1190.1,569.6L1190.6,569.6L1191.1,569.6L1191.6,569.6L1192.1,569.6L1192.6,569.6L1193.1,569.6L1193.6,569.6L1194.1,569.6L1194.6,569.6L1195.1,569.6L1195.6,569.6L1196.1,569.6L1196.6,569.6L1197.1,569.6L1197.6,569.6L1198.1,569.6L1198.6,569.6L1199.1,569.6L1199.6,569.6L1200.1,569.6L1200.6,569.6L1201.1,569.6L1201.6,569.6L1202.1,569.6L1202.6,569.6L1203.1,569.6L1203.6,569.6L1204.1,569.6L1204.6,569.6L1205.1,569.6L1205.6,569.6L1206.1,569.6L1206.6,569.6L1207.1,569.6L1207.6,569.6L1208.1,569.6L1208.6,569.6L1209.1,569.6L1209.6,569.6L1210.1,569.6L1210.6,569.6L1211.1,569.6L1211.6,569.6L1212.1,569.6L1212.6,569.6L1213.1,569.6L1213.6,569.6L1214.1,569.6L1214.6,569.6L1215.1,569.6L1215.6,569.6L1216.1,569.6L1216.6,569.6L1217.1,569.6L1217.6,569.6L1218.1,569.6L1218.6,569.6L1219.1,569.6L1219.6,569.6L1220.1,569.6L1220.6,569.6L1221.1,569.6L1221.6,569.6L1222.1,569.6L1222.6,569.6L1223.1,569.6L1223.6,569.6L1224.1,569.6L1224.6,569.6L1225.1,569.6L1225.6,569.6L1226.1,569.6L1226.6,569.6L1227.1,569.6L1227.6,569.6L1228.1,569.6L1228.6,569.6L1229.1,569.6L1229.6,569.6L1230.1,569.6L1230.6,569.6L1231.1,569.6L1231.6,569.6L1232.1,569.6L1232.6,569.6L1233.1,569.6L1233.6,569.6L1234.1,569.6L1234.6,569.6L1235.1,569.6L1235.6,569.6L1236.1,569.6L1236.6,569.6L1237.1,569.6L1237.6,569.6L1238.1,569.6L1238.6,569.6L1239.1,569.6L1239.6,569.6L1240.1,569.6L1240.6,569.6L1241.1,569.6L1241.6,569.6L1242.1,569.6L1242.6,569.6L1243.1,569.6L1243.6,569.6L1244.1,569.6L1244.6,569.6L1245.1,569.6L1245.6,569.6L1246.1,569.6L1246.6,569.6L1247.1,569.6L1247.6,569.6L1248.1,569.6L1248.6,569.6L1249.1,569.6L1249.6,569.6L1250.1,569.6L1250.6,569.6L1251.1,569.6L1251.6,569.6L1252.1,569.6L1252.6,569.6L1253.1,569.6L1253.6,569.6L1254.1,569.6L1254.6,569.6L1255.1,569.6L1255.6,569.6L1256.1,569.6L1256.6,569.6L1257.1,569.6L1257.6,569.6L1258.1,569.6L1258.6,569.6L1259.1,569.6L1259.6,569.6L1260.1,569.6L1260.6,569.6L1261.1,569.6L1261.6,569.6L1262.1,569.6L1262.6,569.6L1263.1,569.6L1263.6,569.6L1264.1,569.6L1264.6,569.6L1265.1,569.6L1265.6,569.6L1266.1,569.6L1266.6,569.6L1267.1,569.6L1267.6,569.6L1268.1,569.6L1268.6,569.6L1269.1,569.6L1269.6,569.6L1270.1,569.6L1270.6,569.6L1271.1,569.6L1271.6,569.6L1272.1,569.6L1272.6,569.6L1273.1,569.6L1273.6,569.6L1274.1,569.6L1274.6,569.6L1275.1,569.6L1275.6,569.6L1276.1,569.6L1276.6,569.6L1277.1,569.6L1277.6,569.6L1278.1,569.6L1278.6,569.6L1279.1,569.6L1279.6,569.6L1280.1,569.6L1280.6,569.6L1281.1,569.6L1281.6,569.6L1282.1,569.6L1282.6,569.6L1283.1,569.6L1283.6,569.6L1284.1,569.6L1284.6,569.6L1285.1,569.6L1285.6,569.6L1286.1,569.6L1286.6,569.6L1287.1,569.6L1287.6,569.6L1288.1,569.6L1288.6,569.6L1289.1,569.6L1289.6,569.6L1290.1,569.6L1290.6,569.6L1291.1,569.6L1291.6,569.6L1292.1,569.6L1292.6,569.6L1293.1,569.6L1293.6,569.6L1294.1,569.6L1294.6,569.6L1295.1,569.6L1295.6,569.6L1296.1,569.6L1296.6,569.6L1297.1,569.6L1297.6,569.6L1298.1,569.6L1298.6,569.6L1299.1,569.6L1299.6,569.6L1300.1,569.6L1300.6,569.6L1301.1,569.6L1301.6,569.6L1302.1,569.6L1302.6,569.6L1303.1,569.6L1303.6,569.6L1304.1,569.6L1304.6,569.6L1305.1,569.6L1305.6,569.6L1306.1,569.6L1306.6,569.6L1307.1,569.6L1307.6,569.6L1308.1,569.6L1308.6,569.6L1309.1,569.6L1309.6,569.6L1310.1,569.6L1310.6,569.6L1311.1,569.6L1311.6,569.6L1312.1,569.6L1312.6,569.6L1313.1,569.6L1313.6,569.6L1314.1,569.6L1314.6,569.6L1315.1,569.6L1315.6,569.6L1316.1,569.6L1316.6,569.6L1317.1,569.6L1317.6,569.6L1318.1,569.6L1318.6,569.6L1319.1,569.6L1319.6,569.6L1320.1,569.6L1320.6,569.6L1321.1,569.6L1321.6,569.6L1322.1,569.6L1322.6,569.6L1323.1,569.6L1323.6,569.6L1324.1,569.6L1324.6,569.7L1325.1,569.7L1325.6,569.7L1326.1,569.7L1326.6,569.7L1327.1,569.7L1327.6,569.7L1328.1,569.7L1328.6,569.7L1329.1,569.7L1329.6,569.7L1330.1,569.7L1330.6,569.7L1331.1,569.7L1331.6,569.7L1332.1,569.7L1332.6,569.6L1333.1,569.6L1333.6,569.6L1334.1,569.6L1334.6,569.6L1335.1,569.6L1335.6,569.6L1336.1,569.6L1336.6,569.6L1337.1,569.6L1337.6,569.6L1338.1,569.6L1338.6,569.6L1339.1,569.6L1339.6,569.6L1340.1,569.6L1340.6,569.6L1341.1,569.6L1341.6,569.5L1342.1,569.5L1342.6,569.5L1343.1,569.5L1343.6,569.5L1344.1,569.5L1344.6,569.5L1345.1,569.4L1345.6,569.4L1346.1,569.4L1346.6,569.4L1347.1,569.4L1347.6,569.3L1348.1,569.3L1348.6,569.3L1349.1,569.2L1349.6,569.2L1350.1,569.2L1350.6,569.1L1351.1,569.1L1351.6,569.0L1352.1,569.0L1352.6,568.9L1353.1,568.9L1353.6,568.8L1354.1,568.8L1354.6,568.7L1355.1,568.6L1355.6,568.6L1356.1,568.5L1356.5,568.4L1357.0,568.3L1357.5,568.2L1358.0,568.1L1358.5,568.0L1359.0,567.9L1359.5,567.9L1360.0,567.8L1360.5,567.7L1361.0,567.6L1361.5,567.5L1361.9,567.4L1362.4,567.4L1362.9,567.3L1363.4,567.2L1363.9,567.2L1364.4,567.1L1364.9,567.1L1365.4,567.0L1365.9,567.0L1366.4,566.9L1366.9,566.9L1367.4,566.9L1367.9,566.9L1368.4,566.8L1368.9,566.8L1369.4,566.8L1369.9,566.8L1370.4,566.8L1370.9,566.8L1371.4,566.8L1371.9,566.8L1372.4,566.8L1373.0,566.8L1373.5,566.9L1374.0,566.9L1374.5,566.9L1375.0,566.9L1375.5,567.0L1376.0,567.0L1376.5,567.0L1377.0,567.1L1377.5,567.1L1378.0,567.1L1378.4,567.2L1378.9,567.2L1379.4,567.3L1379.9,567.3L1380.4,567.4L1380.9,567.4L1381.4,567.5L1381.9,567.5L1382.4,567.6L1382.9,567.7L1383.4,567.7L1383.9,567.8L1384.4,567.8L1384.9,567.9L1385.4,568.0L1385.9,568.0L1386.4,568.1L1386.8,568.2L1387.3,568.2L1387.8,568.3L1388.3,568.3L1388.8,568.4L1389.3,568.5L1389.8,568.5L1390.3,568.6L1390.8,568.7L1391.3,568.7L1391.8,568.8L1392.3,568.8L1392.8,568.9L1393.3,568.9L1393.8,569.0L1394.3,569.0L1394.8,569.1L1395.3,569.1L1395.8,569.2L1396.3,569.2L1396.8,569.3L1397.3,569.3L1397.7,569.3L1398.2,569.4L1398.7,569.4L1399.2,569.5L1399.7,569.5L1400.2,569.5L1400.7,569.5L1401.2,569.6L1401.7,569.6L1402.2,569.6L1402.7,569.6L1403.2,569.6L1403.7,569.7L1404.2,569.7L1404.7,569.7L1405.2,569.7L1405.7,569.7L1406.2,569.7L1406.7,569.7L1407.2,569.7L1407.7,569.8L1408.2,569.8L1408.7,569.8L1409.2,569.8L1409.7,569.8L1410.2,569.8L1410.7,569.8L1411.2,569.8L1411.7,569.8L1412.2,569.8L1412.7,569.8L1413.2,569.8L1413.7,569.8L1414.2,569.8L1414.7,569.7L1415.2,569.7L1415.7,569.7L1416.2,569.7L1416.7,569.7L1417.2,569.7L1417.7,569.7L1418.2,569.7L1418.7,569.7L1419.2,569.7L1419.7,569.7L1420.2,569.7L1420.7,569.6L1421.2,569.6L1421.7,569.6L1422.2,569.6L1422.7,569.6L1423.2,569.6L1423.7,569.6L1424.2,569.6L1424.7,569.6L1425.2,569.6L1425.7,569.6L1426.2,569.5L1426.7,569.5L1427.2,569.5L1427.7,569.5L1428.2,569.5L1428.7,569.5L1429.2,569.5L1429.7,569.5L1430.2,569.5L1430.7,569.5L1431.2,569.5L1431.7,569.5L1432.2,569.5L1432.7,569.5L1433.2,569.5L1433.7,569.5L1434.2,569.5L1434.7,569.5L1435.2,569.5L1435.7,569.5L1436.2,569.5L1436.7,569.5L1437.2,569.5L1437.7,569.5L1438.2,569.5L1438.7,569.5L1439.2,569.5L1439.7,569.5L1440.2,569.5L1440.7,569.6L1441.2,569.6L1441.7,569.6L1442.2,569.6L1442.7,569.6L1443.2,569.6L1443.7,569.6L1444.2,569.6L1444.7,569.6L1445.2,569.6L1445.7,569.6L1446.2,569.6L1446.7,569.6L1447.2,569.6L1447.7,569.6L1448.2,569.7L1448.7,569.7L1449.2,569.7L1449.7,569.7L1450.2,569.7L1450.7,569.7L1451.2,569.7L1451.7,569.7L1452.2,569.7L1452.7,569.7L1453.2,569.7L1453.7,569.7L1454.2,569.7L1454.7,569.7L1455.2,569.7L1455.7,569.7L1456.2,569.7L1456.7,569.7L1457.2,569.7L1457.7,569.7L1458.2,569.7L1458.7,569.6L1459.2,569.6L1459.7,569.6L1460.2,569.6L1460.7,569.6L1461.0,569.6"/>
<path stroke="#00cc00" d="M837.4,569.2L837.9,569.2L838.4,569.2L838.9,569.2L839.4,569.2L839.9,569.2L840.4,569.2L840.9,569.2L841.4,569.2L841.9,569.2L842.4,569.2L842.9,569.2L843.4,569.2L843.9,569.2L844.4,569.2L844.9,569.2L845.4,569.2L845.9,569.2L846.4,569.2L846.9,569.2L847.4,569.2L847.9,569.2L848.4,569.2L848.9,569.2L849.4,569.2L849.9,569.2L850.4,569.2L850.9,569.2L851.4,569.2L851.9,569.2L852.4,569.2L852.9,569.2L853.4,569.2L853.9,569.2L854.4,569.2L854.9,569.2L855.4,569.2L855.9,569.2L856.4,569.2L856.9,569.2L857.4,569.2L857.9,569.2L858.4,569.2L858.9,569.2L859.4,569.2L859.9,569.2L860.4,569.2L860.9,569.2L861.4,569.2L861.9,569.2L862.4,569.2L862.9,569.2L863.4,569.2L863.9,569.2L864.4,569.2L864.9,569.2L865.4,569.2L865.9,569.2L866.4,569.2L866.9,569.2L867.4,569.2L867.9,569.1L868.4,569.1L868.9,569.1L869.4,569.1L869.9,569.1L870.4,569.1L870.9,569.1L871.4,569.1L871.9,569.1L872.4,569.1L872.9,569.1L873.4,569.1L873.9,569.1L874.4,569.1L874.9,569.1L875.4,569.1L875.9,569.1L876.4,569.1L876.9,569.1L877.4,569.1L877.9,569.1L878.4,569.1L878.9,569.1L879.4,569.1L879.9,569.1L880.4,569.1L880.9,569.1L881.4,569.1L881.9,569.1L882.4,569.1L882.9,569.1L883.4,569.1L883.9,569.1L884.4,569.1L884.9,569.1L885.4,569.1L885.9,569.1L886.4,569.1L886.9,569.1L887.4,569.1L887.9,569.1L888.4,569.1L888.9,569.1L889.4,569.1L889.9,569.1L890.4,569.1L890.9,569.1L891.4,569.1L891.9,569.1L892.4,569.1L892.9,569.1L893.4,569.1L893.9,569.1L894.4,569.1L894.9,569.1L895.4,569.1L895.9,569.1L896.4,569.1L896.9,569.1L897.4,569.1L897.9,569.1L898.4,569.1L898.9,569.1L899.4,569.1L899.9,569.1L900.4,569.1L900.9,569.1L901.4,569.1L901.9,569.1L902.4,569.1L902.9,569.1L903.4,569.1L903.9,569.1L904.4,569.1L904.9,569.1L905.4,569.1L905.9,569.1L906.4,569.1L906.9,569.1L907.4,569.1L907.9,569.1L908.4,569.1L908.9,569.1L909.4,569.1L909.9,569.1L910.4,569.1L910.9,569.1L911.4,569.1L911.9,569.1L912.4,569.1L912.9,569.1L913.4,569.1L913.9,569.1L914.4,569.1L914.9,569.1L915.4,569.1L915.9,569.1L916.4,569.1L916.9,569.1L917.4,569.1L917.9,569.1L918.4,569.1L918.9,569.1L919.4,569.1L919.9,569.1L920.4,569.1L920.9,569.1L921.4,569.1L921.9,569.1L922.4,569.1L922.9,569.1L923.4,569.1L923.9,569.1L924.4,569.1L924.9,569.1L925.4,569.1L925.9,569.1L926.4,569.1L926.9,569.1L927.4,569.1L927.9,569.1L928.4,569.1L928.9,569.1L929.4,569.1L929.9,569.1L930.4,569.0L930.9,569.0L931.4,569.0L931.9,569.0L932.4,569.0L932.9,569.0L933.4,569.0L933.9,569.0L934.4,569.0L934.9,569.0L935.4,569.0L935.9,569.0L936.4,569.0L936.9,569.0L937.4,569.0L937.9,569.0L938.4,569.0L938.9,569.0L939.4,569.0L939.9,569.0L940.4,569.0L940.9,569.0L941.4,569.0L941.9,569.0L942.4,569.0L942.9,569.0L943.4,569.0L943.9,569.0L944.4,569.0L944.9,569.0L945.4,569.0L945.9,569.0L946.4,569.0L946.9,569.0L947.4,569.0L947.9,569.0L948.4,569.0L948.9,569.1L949.4,569.1L949.9,569.2L950.5,569.2L951.0,569.3L951.5,569.3L952.0,569.3L952.5,569.3L953.0,569.3L953.5,569.3L954.0,569.2L954.5,569.1L954.9,569.0L955.4,568.8L955.8,568.6L956.2,568.4L956.6,568.1L957.0,567.8L957.4,567.5L957.8,567.2L958.2,566.8L958.6,566.5L958.9,566.2L959.3,565.8L959.6,565.4L960.0,565.1L960.3,564.7L960.7,564.3L961.0,564.0L961.3,563.6L961.6,563.2L961.9,562.8L962.2,562.4L962.5,562.0L962.8,561.6L963.1,561.2L963.4,560.7L963.6,560.3L963.9,559.9L964.2,559.5L964.4,559.0L964.7,558.6L964.9,558.2L965.2,557.7L965.4,557.3L965.6,556.8L965.8,556.4L966.1,555.9L966.3,555.5L966.5,555.0L966.7,554.6L966.9,554.1L967.1,553.6L967.3,553.2L967.4,552.7L967.6,552.2L967.8,551.8L968.0,551.3L968.1,550.8L968.3,550.4L968.4,549.9L968.6,549.4L968.7,548.9L968.9,548.5L969.0,548.0L969.2,547.5L969.3,547.0L969.4,546.6L969.6,546.1L969.7,545.6L969.8,545.1L970.0,544.6L970.1,544.2L970.2,543.7L970.3,543.2L970.5,542.7L970.6,542.2L970.7,541.7L970.8,541.2L970.9,540.8L971.0,540.3L971.1,539.8L971.3,539.3L971.4,538.8L971.5,538.3L971.6,537.8L971.7,537.3L971.8,536.8L971.9,536.4L972.0,535.9L972.2,535.4L972.3,534.9L972.4,534.4L972.5,533.9L972.6,533.4L972.7,532.9L972.8,532.4L973.0,532.0L973.1,531.5L973.2,531.0L973.3,530.5L973.4,530.0L973.5,529.5L973.6,529.0L973.8,528.5L973.9,528.0L974.0,527.6L974.1,527.1L974.2,526.6L974.3,526.1L974.4,525.6L974.6,525.1L974.7,524.6L974.8,524.1L974.9,523.7L975.0,523.2L975.1,522.7L975.3,522.2L975.4,521.7L975.5,521.2L975.6,520.7L975.7,520.2L975.8,519.8L975.9,519.3L976.0,518.8L976.2,518.3L976.3,517.8L976.4,517.3L976.5,516.8L976.6,516.4L976.7,515.9L976.8,515.4L976.9,514.9L977.0,514.4L977.2,513.9L977.3,513.5L977.4,513.0L977.5,512.5L977.6,512.0L977.7,511.5L977.8,511.0L977.9,510.6L978.0,510.1L978.1,509.6L978.3,509.1L978.4,508.6L978.5,508.2L978.6,507.7L978.7,507.2L978.9,506.7L979.0,506.2L979.1,505.8L979.3,505.3L979.4,504.8L979.5,504.3L979.7,503.8L979.8,503.4L980.0,502.9L980.1,502.4L980.3,501.9L980.5,501.4L980.6,500.9L980.8,500.5L981.0,500.0L981.2,499.5L981.4,499.0L981.6,498.5L981.8,498.1L982.0,497.6L982.2,497.1L982.4,496.6L982.7,496.1L982.9,495.7L983.2,495.2L983.5,494.8L983.8,494.4L984.1,494.1L984.5,493.8L984.9,493.7L985.3,493.6L985.7,493.7L986.1,493.8L986.5,494.1L986.9,494.4L987.2,494.7L987.6,495.1L987.9,495.5L988.2,495.8L988.5,496.2L988.8,496.6L989.0,497.1L989.3,497.5L989.5,497.9L989.8,498.3L990.0,498.8L990.2,499.2L990.4,499.7L990.6,500.1L990.8,500.6L991.0,501.1L991.1,501.6L991.3,502.0L991.4,502.5L991.6,503.0L991.7,503.5L991.9,504.0L992.0,504.5L992.1,505.0L992.3,505.5L992.4,506.0L992.5,506.5L992.6,506.9L992.7,507.4L992.9,507.9L993.0,508.4L993.1,508.9L993.2,509.4L993.3,509.9L993.4,510.4L993.6,510.9L993.7,511.4L993.8,511.9L993.9,512.4L994.0,512.8L994.2,513.3L994.3,513.8L994.4,514.3L994.5,514.8L994.7,515.3L994.8,515.7L994.9,516.2L995.0,516.7L995.1,517.2L995.3,517.7L995.4,518.1L995.5,518.6L995.6,519.1L995.7,519.6L995.9,520.0L996.0,520.5L996.1,521.0L996.2,521.5L996.3,522.0L996.5,522.4L996.6,522.9L996.7,523.4L996.8,523.9L996.9,524.4L997.1,524.9L997.2,525.3L997.3,525.8L997.4,526.3L997.5,526.8L997.6,527.3L997.8,527.8L997.9,528.3L998.0,528.7L998.1,529.2L998.2,529.7L998.3,530.2L998.4,530.7L998.6,531.2L998.7,531.7L998.8,532.2L998.9,532.7L999.0,533.2L999.1,533.7L999.2,534.2L999.4,534.6L999.5,535.1L999.6,535.6L999.7,536.1L999.8,536.6L999.9,537.1L1000.1,537.6L1000.2,538.1L1000.3,538.6L1000.4,539.1L1000.5,539.6L1000.7,540.0L1000.8,540.5L1000.9,541.0L1001.0,541.5L1001.1,542.0L1001.3,542.5L1001.4,542.9L1001.5,543.4L1001.7,543.9L1001.8,544.4L1001.9,544.8L1002.1,545.3L1002.2,545.8L1002.3,546.2L1002.5,546.7L1002.6,547.2L1002.7,547.6L1002.9,548.1L1003.0,548.6L1003.2,549.0L1003.3,549.5L1003.5,550.0L1003.6,550.4L1003.8,550.9L1003.9,551.4L1004.0,551.9L1004.2,552.4L1004.3,552.9L1004.5,553.4L1004.6,553.9L1004.8,554.5L1004.9,555.0L1005.1,555.5L1005.2,556.0L1005.4,556.5L1005.5,557.0L1005.7,557.5L1005.9,558.1L1006.0,558.6L1006.2,559.1L1006.4,559.5L1006.6,560.0L1006.8,560.5L1007.0,561.0L1007.2,561.4L1007.5,561.9L1007.7,562.3L1007.9,562.8L1008.2,563.2L1008.4,563.6L1008.7,564.0L1009.0,564.4L1009.3,564.7L1009.6,565.1L1009.9,565.4L1010.2,565.7L1010.6,566.0L1010.9,566.3L1011.3,566.6L1011.6,566.8L1012.0,567.1L1012.4,567.3L1012.8,567.5L1013.2,567.7L1013.7,567.9L1014.1,568.0L1014.5,568.2L1015.0,568.3L1015.4,568.5L1015.9,568.6L1016.4,568.7L1016.9,568.8L1017.3,568.9L1017.8,568.9L1018.3,569.0L1018.8,569.1L1019.3,569.1L1019.8,569.2L1020.3,569.2L1020.8,569.3L1021.3,569.3L1021.9,569.3L1022.4,569.3L1022.9,569.4L1023.4,569.4L1023.9,569.4L1024.5,569.4L1025.0,569.4L1025.5,569.4L1026.0,569.4L1026.6,569.4L1027.1,569.4L1027.6,569.4L1028.1,569.4L1028.6,569.4L1029.1,569.4L1029.6,569.4L1030.2,569.5L1030.7,569.5L1031.2,569.5L1031.7,569.5L1032.2,569.5L1032.7,569.5L1033.2,569.5L1033.7,569.5L1034.2,569.5L1034.7,569.5L1035.2,569.5L1035.7,569.5L1036.2,569.5L1036.7,569.5L1037.2,569.5L1037.7,569.5L1038.2,569.5L1038.7,569.5L1039.2,569.5L1039.7,569.5L1040.2,569.5L1040.7,569.5L1041.2,569.5L1041.7,569.5L1042.2,569.5L1042.7,569.5L1043.2,569.5L1043.7,569.5L1044.2,569.5L1044.7,569.5L1045.2,569.5L1045.7,569.5L1046.2,569.5L1046.7,569.5L1047.2,569.5L1047.7,569.5L1048.2,569.5L1048.7,569.5L1049.2,569.5L1049.7,569.5L1050.2,569.5L1050.7,569.5L1051.2,569.5L1051.7,569.5L1052.2,569.5L1052.7,569.5L1053.2,569.5L1053.7,569.4L1054.2,569.4L1054.7,569.4L1055.2,569.4L1055.7,569.4L1056.2,569.4L1056.7,569.4L1057.2,569.4L1057.7,569.4L1058.2,569.4L1058.7,569.4L1059.2,569.4L1059.7,569.4L1060.2,569.4L1060.7,569.4L1061.2,569.4L1061.7,569.4L1062.2,569.4L1062.7,569.4L1063.2,569.4L1063.7,569.4L1064.2,569.4L1064.7,569.4L1065.2,569.4L1065.7,569.4L1066.2,569.4L1066.7,569.4L1067.2,569.4L1067.7,569.4L1068.2,569.4L1068.7,569.4L1069.2,569.4L1069.7,569.4L1070.2,569.4L1070.7,569.4L1071.2,569.4L1071.7,569.4L1072.2,569.4L1072.7,569.4L1073.2,569.4L1073.7,569.4L1074.2,569.4L1074.6,569.4L1075.1,569.4L1075.6,569.4L1076.1,569.4L1076.6,569.4L1077.1,569.4L1077.6,569.4L1078.1,569.4L1078.6,569.4L1079.1,569.4L1079.6,569.4L1080.1,569.4L1080.6,569.4L1081.1,569.4L1081.6,569.4L1082.1,569.4L1082.6,569.4L1083.1,569.4L1083.6,569.4L1084.1,569.4L1084.6,569.4L1085.1,569.4L1085.6,569.4L1086.1,569.4L1086.6,569.4L1087.1,569.4L1087.6,569.4L1088.1,569.4L1088.6,569.4L1089.1,569.4L1089.6,569.4L1090.1,569.4L1090.6,569.4L1091.1,569.4L1091.6,569.4L1092.1,569.4L1092.6,569.4L1093.1,569.4L1093.6,569.4L1094.1,569.4L1094.6,569.4L1095.1,569.4L1095.6,569.4L1096.1,569.4L1096.6,569.4L1097.1,569.4L1097.6,569.4L1098.1,569.4L1098.6,569.4L1099.1,569.4L1099.6,569.4L1100.1,569.4L1100.6,569.4L1101.1,569.4L1101.6,569.4L1102.1,569.4L1102.6,569.4L1103.1,569.4L1103.6,569.4L1104.1,569.4L1104.6,569.4L1105.1,569.4L1105.6,569.4L1106.1,569.4L1106.6,569.4L1107.1,569.4L1107.6,569.4L1108.1,569.4L1108.6,569.4L1109.1,569.4L1109.6,569.4L1110.1,569.4L1110.6,569.4L1111.1,569.4L1111.6,569.4L1112.1,569.4L1112.6,569.4L1113.1,569.4L1113.6,569.4L1114.1,569.4L1114.6,569.4L1115.1,569.4L1115.6,569.4L1116.1,569.4L1116.6,569.4L1117.1,569.4L1117.6,569.4L1118.1,569.4L1118.6,569.4L1119.1,569.4L1119.6,569.4L1120.1,569.4L1120.6,569.4L1121.1,569.4L1121.6,569.4L1122.1,569.4L1122.6,569.4L1123.1,569.4L1123.6,569.4L1124.1,569.4L1124.6,569.4L1125.1,569.4L1125.6,569.4L1126.1,569.4L1126.6,569.4L1127.1,569.4L1127.6,569.4L1128.1,569.4L1128.6,569.4L1129.1,569.4L1129.6,569.4L1130.1,569.4L1130.6,569.4L1131.1,569.4L1131.6,569.4L1132.1,569.4L1132.6,569.4L1133.1,569.4L1133.6,569.4L1134.1,569.4L1134.6,569.4L1135.1,569.4L1135.6,569.4L1136.1,569.4L1136.6,569.4L1137.1,569.4L1137.6,569.4L1138.1,569.4L1138.6,569.4L1139.1,569.4L1139.6,569.4L1140.1,569.4L1140.6,569.4L1141.1,569.4L1141.6,569.4L1142.1,569.4L1142.6,569.4L1143.1,569.4L1143.6,569.4L1144.1,569.4L1144.6,569.4L1145.1,569.4L1145.6,569.4L1146.1,569.4L1146.6,569.4L1147.1,569.4L1147.6,569.4L1148.1,569.4L1148.6,569.4L1149.1,569.4L1149.6,569.4L1150.1,569.4L1150.6,569.4L1151.1,569.4L1151.6,569.4L1152.1,569.5L1152.6,569.5L1153.1,569.5L1153.6,569.5L1154.1,569.5L1154.6,569.5L1155.1,569.5L1155.6,569.5L1156.1,569.5L1156.6,569.5L1157.1,569.5L1157.6,569.5L1158.1,569.5L1158.6,569.5L1159.1,569.5L1159.6,569.5L1160.1,569.5L1160.6,569.5L1161.1,569.5L1161.6,569.5L1162.1,569.5L1162.6,569.5L1163.1,569.5L1163.6,569.5L1164.1,569.5L1164.6,569.5L1165.1,569.5L1165.6,569.5L1166.1,569.5L1166.6,569.5L1167.1,569.5L1167.6,569.5L1168.1,569.5L1168.6,569.5L1169.1,569.5L1169.6,569.5L1170.1,569.5L1170.6,569.5L1171.1,569.5L1171.6,569.5L1172.1,569.5L1172.6,569.5L1173.1,569.5L1173.6,569.5L1174.1,569.5L1174.6,569.5L1175.1,569.5L1175.6,569.5L1176.1,569.5L1176.6,569.5L1177.1,569.5L1177.6,569.5L1178.1,569.5L1178.6,569.5L1179.1,569.5L1179.6,569.5L1180.1,569.5L1180.6,569.5L1181.1,569.5L1181.6,569.5L1182.1,569.5L1182.6,569.5L1183.1,569.5L1183.6,569.5L1184.1,569.5L1184.6,569.5L1185.1,569.5L1185.6,569.5L1186.1,569.5L1186.6,569.5L1187.1,569.5L1187.6,569.5L1188.1,569.5L1188.6,569.5L1189.1,569.5L1189.6,569.5L1190.1,569.5L1190.6,569.5L1191.1,569.5L1191.6,569.5L1192.1,569.5L1192.6,569.5L1193.1,569.5L1193.6,569.5L1194.1,569.5L1194.6,569.5L1195.1,569.5L1195.6,569.5L1196.1,569.5L1196.6,569.5L1197.1,569.5L1197.6,569.5L1198.1,569.5L1198.6,569.5L1199.1,569.5L1199.6,569.5L1200.1,569.5L1200.6,569.5L1201.1,569.5L1201.6,569.5L1202.1,569.5L1202.6,569.5L1203.1,569.5L1203.6,569.5L1204.1,569.5L1204.6,569.5L1205.1,569.5L1205.6,569.5L1206.1,569.5L1206.6,569.5L1207.1,569.5L1207.6,569.5L1208.1,569.5L1208.6,569.5L1209.1,569.5L1209.6,569.5L1210.1,569.5L1210.6,569.5L1211.1,569.5L1211.6,569.5L1212.1,569.5L1212.6,569.5L1213.1,569.5L1213.6,569.5L1214.1,569.5L1214.6,569.5L1215.1,569.5L1215.6,569.5L1216.1,569.5L1216.6,569.5L1217.1,569.5L1217.6,569.5L1218.1,569.5L1218.6,569.5L1219.1,569.5L1219.6,569.5L1220.1,569.5L1220.6,569.5L1221.1,569.5L1221.6,569.5L1222.1,569.5L1222.6,569.5L1223.1,569.5L1223.6,569.5L1224.1,569.5L1224.6,569.5L1225.1,569.5L1225.6,569.5L1226.1,569.5L1226.6,569.5L1227.1,569.5L1227.6,569.5L1228.1,569.5L1228.6,569.5L1229.1,569.5L1229.6,569.5L1230.1,569.5L1230.6,569.5L1231.1,569.5L1231.6,569.5L1232.1,569.5L1232.6,569.5L1233.1,569.5L1233.6,569.5L1234.1,569.5L1234.6,569.5L1235.1,569.5L1235.6,569.5L1236.1,569.5L1236.6,569.5L1237.1,569.5L1237.6,569.5L1238.1,569.5L1238.6,569.5L1239.1,569.5L1239.6,569.5L1240.1,569.5L1240.6,569.5L1241.1,569.5L1241.6,569.5L1242.1,569.5L1242.6,569.5L1243.1,569.5L1243.6,569.5L1244.1,569.5L1244.6,569.5L1245.1,569.5L1245.6,569.5L1246.1,569.5L1246.6,569.5L1247.1,569.5L1247.6,569.5L1248.1,569.5L1248.6,569.5L1249.1,569.5L1249.6,569.5L1250.1,569.5L1250.6,569.5L1251.1,569.5L1251.6,569.5L1252.1,569.5L1252.6,569.5L1253.1,569.5L1253.6,569.5L1254.1,569.5L1254.6,569.5L1255.1,569.5L1255.6,569.5L1256.1,569.5L1256.6,569.5L1257.1,569.5L1257.6,569.5L1258.1,569.5L1258.6,569.5L1259.1,569.5L1259.6,569.5L1260.1,569.5L1260.6,569.5L1261.1,569.5L1261.6,569.5L1262.1,569.5L1262.6,569.5L1263.1,569.5L1263.6,569.5L1264.1,569.5L1264.6,569.5L1265.1,569.5L1265.6,569.5L1266.1,569.5L1266.6,569.5L1267.1,569.5L1267.6,569.5L1268.1,569.5L1268.6,569.5L1269.1,569.5L1269.6,569.5L1270.1,569.5L1270.6,569.5L1271.1,569.5L1271.6,569.5L1272.1,569.5L1272.6,569.5L1273.1,569.5L1273.6,569.5L1274.1,569.5L1274.6,569.5L1275.1,569.5L1275.6,569.5L1276.1,569.5L1276.6,569.5L1277.1,569.5L1277.6,569.5L1278.1,569.5L1278.6,569.5L1279.1,569.5L1279.6,569.5L1280.1,569.5L1280.6,569.5L1281.1,569.5L1281.6,569.5L1282.1,569.5L1282.6,569.5L1283.1,569.5L1283.6,569.5L1284.1,569.5L1284.6,569.5L1285.1,569.5L1285.6,569.5L1286.1,569.5L1286.6,569.5L1287.1,569.5L1287.6,569.5L1288.1,569.5L1288.6,569.5L1289.1,569.5L1289.6,569.5L1290.1,569.5L1290.6,569.5L1291.1,569.5L1291.6,569.5L1292.1,569.5L1292.6,569.5L1293.1,569.5L1293.6,569.5L1294.1,569.5L1294.6,569.5L1295.1,569.5L1295.6,569.5L1296.1,569.5L1296.6,569.5L1297.1,569.5L1297.6,569.5L1298.1,569.5L1298.6,569.5L1299.1,569.5L1299.6,569.5L1300.1,569.5L1300.6,569.5L1301.1,569.5L1301.6,569.5L1302.1,569.5L1302.6,569.5L1303.1,569.5L1303.6,569.5L1304.1,569.5L1304.6,569.5L1305.1,569.5L1305.6,569.5L1306.1,569.5L1306.6,569.5L1307.1,569.5L1307.6,569.5L1308.1,569.5L1308.6,569.5L1309.1,569.5L1309.6,569.5L1310.1,569.5L1310.6,569.5L1311.1,569.5L1311.6,569.5L1312.1,569.5L1312.6,569.5L1313.1,569.5L1313.6,569.5L1314.1,569.5L1314.6,569.5L1315.1,569.5L1315.6,569.5L1316.1,569.5L1316.6,569.5L1317.1,569.5L1317.6,569.5L1318.1,569.5L1318.6,569.5L1319.1,569.5L1319.6,569.5L1320.1,569.5L1320.6,569.5L1321.1,569.5L1321.6,569.5L1322.1,569.5L1322.6,569.5L1323.1,569.5L1323.6,569.5L1324.1,569.5L1324.6,569.5L1325.1,569.5L1325.6,569.5L1326.1,569.5L1326.6,569.5L1327.1,569.5L1327.6,569.5L1328.1,569.5L1328.6,569.5L1329.1,569.5L1329.6,569.5L1330.1,569.5L1330.6,569.5L1331.1,569.5L1331.6,569.5L1332.1,569.5L1332.6,569.5L1333.1,569.5L1333.6,569.5L1334.1,569.5L1334.6,569.5L1335.1,569.5L1335.6,569.5L1336.1,569.5L1336.6,569.5L1337.1,569.5L1337.6,569.5L1338.1,569.5L1338.6,569.5L1339.1,569.5L1339.6,569.5L1340.1,569.5L1340.6,569.5L1341.1,569.5L1341.6,569.5L1342.1,569.5L1342.6,569.5L1343.1,569.5L1343.6,569.5L1344.1,569.5L1344.6,569.5L1345.1,569.5L1345.6,569.5L1346.1,569.5L1346.6,569.5L1347.1,569.5L1347.6,569.5L1348.1,569.5L1348.6,569.5L1349.1,569.5L1349.6,569.5L1350.1,569.5L1350.6,569.5L1351.1,569.5L1351.6,569.5L1352.1,569.5L1352.6,569.5L1353.1,569.5L1353.6,569.5L1354.1,569.5L1354.6,569.5L1355.1,569.5L1355.6,569.5L1356.1,569.5L1356.6,569.6L1357.1,569.6L1357.6,569.6L1358.1,569.6L1358.6,569.6L1359.1,569.6L1359.6,569.6L1360.1,569.6L1360.6,569.6L1361.1,569.6L1361.6,569.6L1362.1,569.6L1362.6,569.6L1363.1,569.6L1363.6,569.6L1364.1,569.6L1364.6,569.6L1365.1,569.6L1365.6,569.6L1366.1,569.6L1366.6,569.6L1367.1,569.6L1367.6,569.6L1368.1,569.6L1368.6,569.6L1369.1,569.6L1369.6,569.6L1370.1,569.6L1370.6,569.6L1371.1,569.6L1371.6,569.6L1372.1,569.6L1372.6,569.6L1373.1,569.6L1373.6,569.6L1374.1,569.6L1374.6,569.6L1375.1,569.6L1375.6,569.6L1376.1,569.6L1376.6,569.6L1377.1,569.6L1377.6,569.6L1378.1,569.6L1378.6,569.6L1379.1,569.6L1379.6,569.6L1380.1,569.6L1380.6,569.6L1381.1,569.6L1381.6,569.6L1382.1,569.6L1382.6,569.6L1383.1,569.6L1383.6,569.6L1384.1,569.6L1384.6,569.6L1385.1,569.6L1385.6,569.6L1386.1,569.6L1386.6,569.6L1387.1,569.6L1387.6,569.6L1388.1,569.6L1388.6,569.6L1389.1,569.6L1389.6,569.6L1390.1,569.6L1390.6,569.6L1391.1,569.6L1391.6,569.6L1392.1,569.6L1392.6,569.6L1393.1,569.6L1393.6,569.6L1394.1,569.6L1394.6,569.6L1395.1,569.6L1395.6,569.6L1396.1,569.6L1396.6,569.6L1397.1,569.6L1397.6,569.6L1398.1,569.6L1398.6,569.6L1399.1,569.6L1399.6,569.6L1400.1,569.6L1400.6,569.6L1401.1,569.6L1401.6,569.6L1402.1,569.6L1402.6,569.6L1403.1,569.6L1403.6,569.6L1404.1,569.6L1404.6,569.6L1405.1,569.6L1405.6,569.6L1406.1,569.6L1406.6,569.6L1407.1,569.6L1407.6,569.6L1408.1,569.6L1408.6,569.6L1409.1,569.6L1409.6,569.6L1410.1,569.6L1410.6,569.6L1411.1,569.6L1411.6,569.6L1412.1,569.6L1412.6,569.6L1413.1,569.6L1413.6,569.6L1414.1,569.6L1414.6,569.6L1415.1,569.6L1415.6,569.6L1416.1,569.6L1416.6,569.6L1417.1,569.6L1417.6,569.6L1418.1,569.6L1418.6,569.6L1419.1,569.6L1419.6,569.6L1420.1,569.6L1420.6,569.6L1421.1,569.6L1421.6,569.6L1422.1,569.6L1422.6,569.6L1423.1,569.6L1423.6,569.6L1424.1,569.6L1424.6,569.6L1425.1,569.6L1425.6,569.6L1426.1,569.6L1426.6,569.6L1427.1,569.6L1427.6,569.6L1428.1,569.6L1428.6,569.6L1429.1,569.6L1429.6,569.6L1430.1,569.6L1430.6,569.6L1431.1,569.6L1431.6,569.6L1432.1,569.6L1432.6,569.6L1433.1,569.6L1433.6,569.6L1434.1,569.6L1434.6,569.6L1435.1,569.6L1435.6,569.6L1436.1,569.6L1436.6,569.6L1437.1,569.6L1437.6,569.6L1438.1,569.6L1438.6,569.6L1439.1,569.6L1439.6,569.6L1440.1,569.6L1440.6,569.6L1441.1,569.6L1441.6,569.6L1442.1,569.6L1442.6,569.6L1443.1,569.6L1443.6,569.6L1444.1,569.6L1444.6,569.6L1445.1,569.6L1445.6,569.6L1446.1,569.6L1446.6,569.6L1447.1,569.6L1447.6,569.6L1448.1,569.6L1448.6,569.6L1449.1,569.6L1449.6,569.6L1450.1,569.6L1450.6,569.6L1451.1,569.6L1451.6,569.6L1452.1,569.6L1452.6,569.6L1453.1,569.6L1453.6,569.6L1454.1,569.6L1454.6,569.6L1455.1,569.6L1455.6,569.6L1456.1,569.6L1456.6,569.6L1457.1,569.6L1457.6,569.6L1458.1,569.6L1458.6,569.6L1459.1,569.6L1459.6,569.6L1460.1,569.6L1460.6,569.6L1461.0,569.6"/>
<path stroke="#1414ff" d="M837.4,520.6L837.7,521.0L838.0,521.5L838.3,521.9L838.6,522.4L838.8,522.8L839.1,523.2L839.4,523.7L839.6,524.1L839.9,524.5L840.1,525.0L840.4,525.4L840.6,525.8L840.9,526.3L841.1,526.7L841.4,527.1L841.6,527.6L841.8,528.0L842.1,528.4L842.3,528.9L842.6,529.3L842.8,529.7L843.0,530.1L843.3,530.6L843.5,531.0L843.7,531.4L844.0,531.8L844.2,532.2L844.5,532.6L844.7,533.1L845.0,533.5L845.2,533.9L845.5,534.3L845.8,534.7L846.0,535.1L846.3,535.5L846.6,535.9L846.9,536.3L847.2,536.7L847.5,537.1L847.8,537.5L848.1,537.9L848.4,538.3L848.8,538.7L849.1,539.1L849.5,539.5L849.8,539.9L850.2,540.3L850.6,540.7L851.0,541.1L851.3,541.4L851.8,541.8L852.2,542.1L852.6,542.5L853.0,542.8L853.4,543.1L853.9,543.3L854.3,543.6L854.8,543.8L855.2,543.9L855.7,544.1L856.2,544.2L856.6,544.3L857.1,544.3L857.6,544.3L858.1,544.2L858.6,544.2L859.1,544.1L859.6,544.0L860.0,543.9L860.5,543.7L861.0,543.6L861.5,543.5L862.0,543.4L862.5,543.2L862.9,543.1L863.4,542.9L863.9,542.8L864.4,542.6L864.8,542.4L865.3,542.3L865.8,542.1L866.3,541.9L866.7,541.7L867.2,541.5L867.6,541.3L868.1,541.1L868.6,540.9L869.0,540.7L869.5,540.5L869.9,540.3L870.4,540.0L870.8,539.8L871.2,539.6L871.7,539.3L872.1,539.1L872.6,538.8L873.0,538.6L873.4,538.3L873.8,538.0L874.3,537.8L874.7,537.5L875.1,537.2L875.5,536.9L875.9,536.6L876.3,536.3L876.7,536.0L877.1,535.7L877.5,535.4L877.9,535.1L878.3,534.8L878.7,534.5L879.0,534.1L879.4,533.8L879.8,533.4L880.1,533.1L880.5,532.8L880.9,532.4L881.2,532.0L881.6,531.7L881.9,531.3L882.3,530.9L882.6,530.6L882.9,530.2L883.3,529.8L883.6,529.5L884.0,529.1L884.3,528.7L884.7,528.4L885.0,528.0L885.4,527.7L885.7,527.3L886.1,527.0L886.5,526.7L886.8,526.3L887.2,526.0L887.6,525.7L888.0,525.4L888.4,525.1L888.8,524.8L889.2,524.6L889.7,524.3L890.1,524.1L890.6,523.8L891.1,523.6L891.5,523.4L892.0,523.3L892.5,523.1L893.0,523.0L893.6,522.9L894.1,522.8L894.6,522.7L895.1,522.7L895.6,522.6L896.0,522.7L896.5,522.7L897.0,522.8L897.4,522.9L897.9,523.0L898.3,523.1L898.7,523.3L899.1,523.5L899.6,523.7L900.0,523.9L900.4,524.2L900.7,524.4L901.1,524.7L901.5,525.0L901.9,525.3L902.3,525.6L902.6,526.0L903.0,526.3L903.3,526.7L903.7,527.1L904.0,527.5L904.4,527.8L904.7,528.2L905.0,528.7L905.4,529.1L905.7,529.5L906.0,529.9L906.3,530.3L906.6,530.8L907.0,531.2L907.3,531.6L907.6,532.0L907.9,532.5L908.2,532.9L908.5,533.3L908.8,533.7L909.2,534.1L909.5,534.5L909.8,535.0L910.1,535.4L910.4,535.8L910.7,536.2L911.0,536.5L911.4,536.9L911.7,537.3L912.0,537.7L912.3,538.1L912.6,538.5L913.0,538.8L913.3,539.2L913.6,539.6L914.0,539.9L914.3,540.3L914.6,540.6L915.0,541.0L915.3,541.3L915.7,541.7L916.0,542.0L916.4,542.3L916.7,542.7L917.1,543.0L917.5,543.3L917.9,543.6L918.2,543.9L918.6,544.2L919.0,544.5L919.4,544.8L919.8,545.1L920.2,545.3L920.6,545.6L921.0,545.9L921.5,546.1L921.9,546.4L922.3,546.7L922.8,546.9L923.2,547.1L923.7,547.4L924.1,547.6L924.6,547.8L925.0,548.1L925.5,548.3L926.0,548.5L926.4,548.7L926.9,549.0L927.4,549.2L927.8,549.4L928.3,549.6L928.7,549.8L929.2,550.1L929.7,550.3L930.1,550.5L930.6,550.7L931.0,551.0L931.4,551.2L931.9,551.4L932.3,551.6L932.8,551.9L933.2,552.1L933.6,552.3L934.1,552.6L934.5,552.8L934.9,553.0L935.4,553.2L935.8,553.4L936.2,553.7L936.7,553.9L937.1,554.1L937.6,554.3L938.0,554.5L938.5,554.7L939.0,554.8L939.4,555.0L939.9,555.2L940.4,555.3L940.9,555.5L941.4,555.6L941.9,555.8L942.4,555.9L943.0,556.0L943.5,556.1L944.0,556.2L944.5,556.2L945.0,556.2L945.5,556.2L946.0,556.1L946.5,556.0L946.9,555.9L947.3,555.7L947.7,555.5L948.0,555.2L948.4,554.9L948.7,554.6L949.0,554.2L949.3,553.8L949.6,553.4L949.8,553.0L950.1,552.6L950.3,552.1L950.5,551.6L950.7,551.1L950.9,550.6L951.1,550.1L951.2,549.6L951.4,549.1L951.6,548.6L951.7,548.1L951.9,547.5L952.0,547.0L952.1,546.5L952.3,546.0L952.4,545.5L952.5,545.0L952.7,544.6L952.8,544.1L952.9,543.6L953.0,543.1L953.1,542.6L953.2,542.1L953.3,541.7L953.4,541.2L953.5,540.7L953.6,540.2L953.7,539.7L953.8,539.2L953.9,538.8L954.0,538.3L954.1,537.8L954.2,537.3L954.3,536.8L954.4,536.3L954.5,535.8L954.5,535.3L954.6,534.9L954.7,534.4L954.8,533.9L954.8,533.4L954.9,532.9L955.0,532.4L955.1,531.9L955.1,531.4L955.2,530.9L955.3,530.4L955.3,529.9L955.4,529.5L955.5,529.0L955.5,528.5L955.6,528.0L955.6,527.5L955.7,527.0L955.8,526.5L955.8,526.0L955.9,525.5L955.9,525.0L956.0,524.5L956.0,524.0L956.1,523.5L956.1,523.0L956.2,522.5L956.2,522.0L956.3,521.5L956.3,521.0L956.4,520.5L956.4,520.0L956.5,519.5L956.5,519.0L956.6,518.5L956.6,518.0L956.6,517.5L956.7,517.0L956.7,516.5L956.8,516.0L956.8,515.5L956.9,515.0L956.9,514.5L957.0,514.0L957.0,513.5L957.0,513.0L957.1,512.5L957.1,512.0L957.2,511.5L957.2,511.0L957.3,510.5L957.3,510.1L957.3,509.6L957.4,509.1L957.4,508.6L957.5,508.1L957.5,507.6L957.5,507.1L957.6,506.6L957.6,506.1L957.7,505.6L957.7,505.1L957.7,504.6L957.8,504.1L957.8,503.6L957.9,503.1L957.9,502.6L957.9,502.1L958.0,501.6L958.0,501.1L958.1,500.6L958.1,500.1L958.1,499.6L958.2,499.1L958.2,498.6L958.2,498.1L958.3,497.6L958.3,497.1L958.4,496.6L958.4,496.1L958.4,495.6L958.5,495.1L958.5,494.6L958.5,494.1L958.6,493.6L958.6,493.1L958.7,492.6L958.7,492.1L958.7,491.6L958.8,491.1L958.8,490.6L958.8,490.1L958.9,489.6L958.9,489.1L958.9,488.6L959.0,488.1L959.0,487.6L959.0,487.1L959.1,486.6L959.1,486.1L959.1,485.6L959.2,485.1L959.2,484.6L959.3,484.1L959.3,483.6L959.3,483.1L959.4,482.6L959.4,482.1L959.4,481.6L959.5,481.1L959.5,480.6L959.5,480.1L959.5,479.6L959.6,479.1L959.6,478.6L959.6,478.1L959.7,477.6L959.7,477.1L959.7,476.6L959.8,476.1L959.8,475.6L959.8,475.1L959.9,474.6L959.9,474.1L959.9,473.6L960.0,473.1L960.0,472.6L960.0,472.1L960.1,471.6L960.1,471.1L960.1,470.6L960.1,470.1L960.2,469.6L960.2,469.1L960.2,468.6L960.3,468.1L960.3,467.6L960.3,467.1L960.4,466.6L960.4,466.1L960.4,465.6L960.4,465.1L960.5,464.6L960.5,464.1L960.5,463.6L960.6,463.1L960.6,462.6L960.6,462.1L960.6,461.6L960.7,461.1L960.7,460.6L960.7,460.1L960.8,459.6L960.8,459.2L960.8,458.7L960.8,458.2L960.9,457.7L960.9,457.2L960.9,456.7L960.9,456.2L961.0,455.7L961.0,455.2L961.0,454.7L961.1,454.2L961.1,453.7L961.1,453.2L961.1,452.7L961.2,452.2L961.2,451.7L961.2,451.2L961.2,450.7L961.3,450.2L961.3,449.7L961.3,449.2L961.3,448.7L961.4,448.2L961.4,447.7L961.4,447.2L961.4,446.7L961.5,446.2L961.5,445.7L961.5,445.2L961.5,444.7L961.6,444.2L961.6,443.7L961.6,443.2L961.6,442.7L961.7,442.2L961.7,441.7L961.7,441.2L961.7,440.7L961.8,440.2L961.8,439.7L961.8,439.2L961.8,438.7L961.9,438.2L961.9,437.7L961.9,437.2L961.9,436.7L962.0,436.2L962.0,435.7L962.0,435.2L962.0,434.7L962.0,434.2L962.1,433.7L962.1,433.2L962.1,432.7L962.1,432.2L962.2,431.7L962.2,431.2L962.2,430.7L962.2,430.2L962.3,429.7L962.3,429.2L962.3,428.7L962.3,428.2L962.3,427.7L962.4,427.2L962.4,426.7L962.4,426.2L962.4,425.7L962.4,425.2L962.5,424.7L962.5,424.2L962.5,423.7L962.5,423.2L962.6,422.7L962.6,422.2L962.6,421.7L962.6,421.2L962.6,420.7L962.7,420.2L962.7,419.7L962.7,419.2L962.7,418.7L962.7,418.2L962.8,417.7L962.8,417.2L962.8,416.7L962.8,416.2L962.9,415.7L962.9,415.2L962.9,414.7L962.9,414.2L962.9,413.7L963.0,413.2L963.0,412.7L963.0,412.2L963.0,411.7L963.0,411.2L963.1,410.7L963.1,410.2L963.1,409.7L963.1,409.2L963.1,408.7L963.2,408.2L963.2,407.7L963.2,407.2L963.2,406.7L963.2,406.2L963.3,405.7L963.3,405.2L963.3,404.7L963.3,404.2L963.3,403.7L963.4,403.2L963.4,402.7L963.4,402.2L963.4,401.7L963.4,401.2L963.5,400.7L963.5,400.2L963.5,399.7L963.5,399.2L963.5,398.7L963.5,398.2L963.6,397.7L963.6,397.2L963.6,396.7L963.6,396.2L963.6,395.7L963.7,395.2L963.7,394.7L963.7,394.2L963.7,393.7L963.7,393.2L963.8,392.7L963.8,392.2L963.8,391.7L963.8,391.2L963.8,390.7L963.8,390.2L963.9,389.7L963.9,389.2L963.9,388.7L963.9,388.2L963.9,387.7L964.0,387.2L964.0,386.7L964.0,386.2L964.0,385.7L964.0,385.2L964.1,384.7L964.1,384.2L964.1,383.7L964.1,383.2L964.1,382.7L964.1,382.2L964.2,381.7L964.2,381.2L964.2,380.7L964.2,380.2L964.2,379.7L964.3,379.2L964.3,378.7L964.3,378.2L964.3,377.7L964.3,377.2L964.3,376.7L964.4,376.2L964.4,375.7L964.4,375.2L964.4,374.7L964.4,374.2L964.5,373.7L964.5,373.2L964.5,372.7L964.5,372.2L964.5,371.7L964.5,371.2L964.6,370.7L964.6,370.2L964.6,369.7L964.6,369.2L964.6,368.7L964.7,368.2L964.7,367.7L964.7,367.2L964.7,366.7L964.7,366.2L964.7,365.7L964.8,365.2L964.8,364.7L964.8,364.2L964.8,363.7L964.8,363.2L964.8,362.7L964.9,362.2L964.9,361.7L964.9,361.3L964.9,360.8L964.9,360.3L965.0,359.8L965.0,359.3L965.0,358.8L965.0,358.3L965.0,357.8L965.0,357.3L965.1,356.8L965.1,356.3L965.1,355.8L965.1,355.3L965.1,354.8L965.1,354.3L965.2,353.8L965.2,353.3L965.2,352.8L965.2,352.3L965.2,351.8L965.2,351.3L965.3,350.8L965.3,350.3L965.3,349.8L965.3,349.3L965.3,348.8L965.4,348.3L965.4,347.8L965.4,347.3L965.4,346.8L965.4,346.3L965.4,345.8L965.5,345.3L965.5,344.8L965.5,344.3L965.5,343.8L965.5,343.3L965.5,342.8L965.6,342.3L965.6,341.8L965.6,341.3L965.6,340.8L965.6,340.3L965.6,339.8L965.7,339.3L965.7,338.8L965.7,338.3L965.7,337.8L965.7,337.3L965.7,336.8L965.8,336.3L965.8,335.8L965.8,335.3L965.8,334.8L965.8,334.3L965.8,333.8L965.9,333.3L965.9,332.8L965.9,332.3L965.9,331.8L965.9,331.3L965.9,330.8L966.0,330.3L966.0,329.8L966.0,329.3L966.0,328.8L966.0,328.3L966.0,327.8L966.1,327.3L966.1,326.8L966.1,326.3L966.1,325.8L966.1,325.3L966.1,324.8L966.2,324.3L966.2,323.8L966.2,323.3L966.2,322.8L966.2,322.3L966.2,321.8L966.3,321.3L966.3,320.8L966.3,320.3L966.3,319.8L966.3,319.3L966.3,318.8L966.4,318.3L966.4,317.8L966.4,317.3L966.4,316.8L966.4,316.3L966.4,315.8L966.5,315.3L966.5,314.8L966.5,314.3L966.5,313.8L966.5,313.3L966.5,312.8L966.6,312.3L966.6,311.8L966.6,311.3L966.6,310.8L966.6,310.3L966.6,309.8L966.7,309.3L966.7,308.8L966.7,308.3L966.7,307.8L966.7,307.3L966.7,306.8L966.7,306.3L966.8,305.8L966.8,305.3L966.8,304.8L966.8,304.3L966.8,303.8L966.8,303.3L966.9,302.8L966.9,302.3L966.9,301.8L966.9,301.3L966.9,300.8L966.9,300.3L967.0,299.8L967.0,299.3L967.0,298.8L967.0,298.3L967.0,297.8L967.0,297.3L967.1,296.8L967.1,296.3L967.1,295.8L967.1,295.3L967.1,294.8L967.1,294.3L967.1,293.8L967.2,293.3L967.2,292.8L967.2,292.3L967.2,291.8L967.2,291.3L967.2,290.8L967.3,290.3L967.3,289.8L967.3,289.3L967.3,288.8L967.3,288.3L967.3,287.8L967.4,287.3L967.4,286.8L967.4,286.3L967.4,285.8L967.4,285.3L967.4,284.8L967.4,284.3L967.5,283.8L967.5,283.3L967.5,282.8L967.5,282.3L967.5,281.8L967.5,281.3L967.6,280.8L967.6,280.3L967.6,279.8L967.6,279.3L967.6,278.8L967.6,278.3L967.6,277.8L967.7,277.3L967.7,276.8L967.7,276.3L967.7,275.8L967.7,275.3L967.7,274.8L967.8,274.3L967.8,273.8L967.8,273.3L967.8,272.8L967.8,272.3L967.8,271.8L967.9,271.3L967.9,270.8L967.9,270.3L967.9,269.8L967.9,269.3L967.9,268.8L967.9,268.3L968.0,267.8L968.0,267.3L968.0,266.8L968.0,266.3L968.0,265.8L968.0,265.3L968.1,264.8L968.1,264.3L968.1,263.8L968.1,263.3L968.1,262.8L968.1,262.3L968.1,261.8L968.2,261.3L968.2,260.8L968.2,260.3L968.2,259.8L968.2,259.3L968.2,258.8L968.3,258.3L968.3,257.8L968.3,257.3L968.3,256.8L968.3,256.3L968.3,255.8L968.3,255.3L968.4,254.8L968.4,254.3L968.4,253.8L968.4,253.3L968.4,252.8L968.4,252.3L968.5,251.8L968.5,251.3L968.5,250.8L968.5,250.3L968.5,249.8L968.5,249.3L968.5,248.8L968.6,248.3L968.6,247.8L968.6,247.3L968.6,246.8L968.6,246.3L968.6,245.8L968.6,245.3L968.7,244.8L968.7,244.3L968.7,243.8L968.7,243.3L968.7,242.8L968.7,242.3L968.8,241.8L968.8,241.3L968.8,240.8L968.8,240.3L968.8,239.8L968.8,239.3L968.8,238.8L968.9,238.3L968.9,237.8L968.9,237.3L968.9,236.8L968.9,236.3L968.9,235.8L969.0,235.3L969.0,234.8L969.0,234.3L969.0,233.8L969.0,233.3L969.0,232.8L969.0,232.3L969.1,231.8L969.1,231.3L969.1,230.8L969.1,230.3L969.1,229.8L969.1,229.3L969.1,228.8L969.2,228.3L969.2,227.8L969.2,227.3L969.2,226.8L969.2,226.3L969.2,225.8L969.3,225.3L969.3,224.8L969.3,224.3L969.3,223.8L969.3,223.3L969.3,222.8L969.3,222.3L969.4,221.8L969.4,221.3L969.4,220.8L969.4,220.3L969.4,219.8L969.4,219.3L969.4,218.8L969.5,218.3L969.5,217.8L969.5,217.3L969.5,216.8L969.5,216.3L969.5,215.8L969.6,215.3L969.6,214.8L969.6,214.3L969.6,213.8L969.6,213.3L969.6,212.8L969.6,212.3L969.7,211.8L969.7,211.3L969.7,210.8L969.7,210.3L969.7,209.8L969.7,209.3L969.7,208.8L969.8,208.3L969.8,207.8L969.8,207.3L969.8,206.8L969.8,206.3L969.8,205.8L969.9,205.3L969.9,204.8L969.9,204.3L969.9,203.8L969.9,203.3L969.9,202.8L969.9,202.3L970.0,201.8L970.0,201.3L970.0,200.8L970.0,200.3L970.0,199.8L970.0,199.3L970.0,198.8L970.1,198.3L970.1,197.8L970.1,197.3L970.1,196.8L970.1,196.3L970.1,195.8L970.2,195.3L970.2,194.8L970.2,194.3L970.2,193.8L970.2,193.3L970.2,192.8L970.2,192.3L970.3,191.8L970.3,191.3L970.3,190.8L970.3,190.3L970.3,189.8L970.3,189.3L970.3,188.8L970.4,188.3L970.4,187.8L970.4,187.3L970.4,186.8L970.4,186.3L970.4,185.8L970.5,185.3L970.5,184.8L970.5,184.3L970.5,183.8L970.5,183.3L970.5,182.8L970.5,182.3L970.6,181.8L970.6,181.3L970.6,180.8L970.6,180.3L970.6,179.8L970.6,179.3L970.7,178.8L970.7,178.3L970.7,177.8L970.7,177.3L970.7,176.8L970.7,176.3L970.7,175.8L970.8,175.3L970.8,174.8L970.8,174.3L970.8,173.8L970.8,173.3L970.8,172.8L970.8,172.3L970.9,171.8L970.9,171.3L970.9,170.8L970.9,170.3L970.9,169.8L970.9,169.3L971.0,168.8L971.0,168.3L971.0,167.8L971.0,167.3L971.0,166.8L971.0,166.3L971.0,165.8L971.1,165.3L971.1,164.8L971.1,164.3L971.1,163.8L971.1,163.3L971.1,162.8L971.2,162.3L971.2,161.8L971.2,161.3L971.2,160.8L971.2,160.4L971.2,159.9L971.2,159.4L971.3,158.9L971.3,158.4L971.3,157.9L971.3,157.4L971.3,156.9L971.3,156.4L971.4,155.9L971.4,155.4L971.4,154.9L971.4,154.4L971.4,153.9L971.4,153.4L971.4,152.9L971.5,152.4L971.5,151.9L971.5,151.4L971.5,150.9L971.5,150.4L971.5,149.9L971.6,149.4L971.6,148.9L971.6,148.4L971.6,147.9L971.6,147.4L971.6,146.9L971.7,146.4L971.7,145.9L971.7,145.4L971.7,144.9L971.7,144.4L971.7,143.9L971.7,143.4L971.8,142.9L971.8,142.4L971.8,141.9L971.8,141.4L971.8,140.9L971.8,140.4L971.9,139.9L971.9,139.4L971.9,138.9L971.9,138.4L971.9,137.9L971.9,137.4L972.0,136.9L972.0,136.4L972.0,135.9L972.0,135.4L972.0,134.9L972.0,134.4L972.1,133.9L972.1,133.4L972.1,132.9L972.1,132.4L972.1,131.9L972.1,131.4L972.2,130.9L972.2,130.4L972.2,129.9L972.2,129.4L972.2,128.9L972.2,128.4L972.3,127.9L972.3,127.4L972.3,126.9L972.3,126.4L972.3,125.9L972.3,125.4L972.3,124.9L972.4,124.4L972.4,123.9L972.4,123.4L972.4,122.9L972.4,122.4L972.5,121.9L972.5,121.4L972.5,120.9L972.5,120.4L972.5,119.9L972.5,119.4L972.6,118.9L972.6,118.4L972.6,117.9L972.6,117.4L972.6,116.9L972.6,116.4L972.7,115.9L972.7,115.4L972.7,114.9L972.7,114.4L972.7,113.9L972.7,113.4L972.8,112.9L972.8,112.4L972.8,111.9L972.8,111.4L972.8,110.9L972.8,110.4L972.9,109.9L972.9,109.4L972.9,108.9L972.9,108.4L972.9,107.9L972.9,107.4L973.0,106.9L973.0,106.4L973.0,105.9L973.0,105.4L973.0,104.9L973.1,104.4L973.1,103.9L973.1,103.4L973.1,102.9L973.1,102.4L973.1,101.9L973.2,101.4L973.2,100.9L973.2,100.4L973.2,99.9L973.2,99.4L973.3,98.9L973.3,98.4L973.3,97.9L973.3,97.4L973.3,96.9L973.3,96.4L973.4,95.9L973.4,95.4L973.4,94.9L973.4,94.4L973.4,93.9L973.5,93.4L973.5,92.9L973.5,92.4L973.5,91.9L973.5,91.4L973.5,90.9L973.6,90.4L973.6,89.9L973.6,89.4L973.6,88.9L973.6,88.4L973.7,87.9L973.7,87.4L973.7,86.9L973.7,86.4L973.7,85.9L973.8,85.4L973.8,84.9L973.8,84.4L973.8,83.9L973.8,83.4L973.8,82.9L973.9,82.4L973.9,81.9L973.9,81.4L973.9,80.9L973.9,80.4L974.0,79.9L974.0,79.4L974.0,78.9L974.0,78.4L974.0,77.9L974.1,77.4L974.1,76.9L974.1,76.4L974.1,75.9L974.1,75.4L974.2,74.9L974.2,74.4L974.2,73.9L974.2,73.4L974.2,72.9L974.3,72.4L974.3,71.9L974.3,71.4L974.3,70.9L974.4,70.4L974.4,69.9L974.4,69.4L974.4,68.9L974.4,68.4L974.5,67.9L974.5,67.4L974.5,66.9L974.5,66.4L974.5,65.9L974.6,65.4L974.6,64.9L974.6,64.4L974.6,63.9L974.7,63.4L974.7,62.9L974.7,62.4L974.7,61.9L974.8,61.4L974.8,60.9L974.8,60.4L974.8,59.9L974.8,59.4L974.9,58.9L974.9,58.4L974.9,57.9L974.9,57.4L975.0,56.9L975.0,56.4L975.0,55.9L975.0,55.4L975.1,54.9L975.1,54.4L975.1,53.9L975.1,53.4L975.2,52.9L975.2,52.4L975.2,51.9L975.3,51.4L975.3,50.9L975.3,50.4L975.3,49.9L975.4,49.4L975.4,48.9L975.4,48.4L975.5,47.9L975.5,47.4L975.5,46.9L975.5,46.4L975.6,45.9L975.6,45.4L975.6,44.9L975.7,44.4L975.7,43.9L975.7,43.4L975.7,42.9L975.8,42.4L975.8,41.9L975.8,41.4L975.9,40.9L975.9,40.4L975.9,40.0L976.0,39.5L976.0,39.0L976.0,38.5L976.1,38.0L976.1,37.5L976.1,37.0L976.2,36.5L976.2,36.0L976.2,35.5L976.3,35.0L976.3,34.5L976.3,34.0L976.4,33.5L976.4,33.0L976.5,32.5L976.5,32.0L976.5,31.5L976.6,31.0L976.6,30.5L976.6,30.0L976.7,29.5L976.7,29.0L976.8,28.5L976.8,28.0L976.8,27.5L976.9,27.0L976.9,26.5L977.0,26.0L977.0,25.5L977.1,25.0L977.1,24.5L977.2,24.0L977.2,23.5L977.3,23.0L977.3,22.5L977.4,22.0L977.4,21.4L977.5,20.9L977.6,20.4L977.7,19.8L977.8,19.3L977.9,18.8L978.1,18.4L978.3,18.1L978.6,17.9L978.9,18.0L979.2,18.3L979.4,18.7L979.6,19.1L979.7,19.6L979.8,20.1L979.9,20.6L979.9,21.1L980.0,21.6L980.1,22.1L980.1,22.6L980.2,23.1L980.3,23.6L980.3,24.1L980.4,24.6L980.5,25.1L980.5,25.6L980.6,26.1L980.7,26.6L980.7,27.1L980.8,27.6L980.8,28.1L980.9,28.6L981.0,29.1L981.0,29.6L981.1,30.1L981.1,30.6L981.2,31.1L981.2,31.6L981.3,32.1L981.3,32.6L981.4,33.1L981.4,33.6L981.5,34.1L981.5,34.6L981.6,35.1L981.6,35.6L981.7,36.1L981.7,36.6L981.7,37.1L981.8,37.6L981.8,38.1L981.9,38.6L981.9,39.1L982.0,39.6L982.0,40.1L982.0,40.6L982.1,41.1L982.1,41.6L982.1,42.1L982.2,42.6L982.2,43.1L982.3,43.6L982.3,44.1L982.3,44.6L982.4,45.1L982.4,45.6L982.4,46.1L982.5,46.6L982.5,47.1L982.5,47.6L982.6,48.1L982.6,48.6L982.6,49.1L982.6,49.6L982.7,50.1L982.7,50.6L982.7,51.1L982.8,51.5L982.8,52.0L982.8,52.5L982.8,53.0L982.9,53.5L982.9,54.0L982.9,54.5L982.9,55.0L983.0,55.5L983.0,56.0L983.0,56.5L983.1,57.0L983.1,57.5L983.1,58.0L983.1,58.5L983.2,59.0L983.2,59.5L983.2,60.0L983.2,60.5L983.3,61.0L983.3,61.5L983.3,62.0L983.3,62.5L983.3,63.0L983.4,63.5L983.4,64.0L983.4,64.5L983.4,65.0L983.5,65.5L983.5,66.0L983.5,66.5L983.5,67.0L983.6,67.5L983.6,68.0L983.6,68.5L983.6,69.0L983.7,69.5L983.7,70.0L983.7,70.5L983.7,71.0L983.7,71.5L983.8,72.0L983.8,72.5L983.8,73.0L983.8,73.5L983.9,74.0L983.9,74.5L983.9,75.0L983.9,75.5L984.0,76.0L984.0,76.5L984.0,77.0L984.0,77.5L984.0,78.0L984.1,78.5L984.1,79.0L984.1,79.5L984.1,80.0L984.2,80.5L984.2,81.0L984.2,81.5L984.2,82.0L984.2,82.5L984.3,83.0L984.3,83.5L984.3,84.0L984.3,84.5L984.4,85.0L984.4,85.5L984.4,86.0L984.4,86.5L984.4,87.0L984.5,87.5L984.5,88.0L984.5,88.5L984.5,89.0L984.6,89.5L984.6,90.0L984.6,90.5L984.6,91.0L984.6,91.5L984.7,92.0L984.7,92.5L984.7,93.0L984.7,93.5L984.8,94.0L984.8,94.5L984.8,95.0L984.8,95.5L984.8,96.0L984.9,96.5L984.9,97.0L984.9,97.5L984.9,98.0L984.9,98.5L985.0,99.0L985.0,99.5L985.0,100.0L985.0,100.5L985.0,101.0L985.1,101.5L985.1,102.0L985.1,102.5L985.1,103.0L985.1,103.5L985.2,104.0L985.2,104.5L985.2,105.0L985.2,105.5L985.3,106.0L985.3,106.5L985.3,107.0L985.3,107.5L985.3,108.0L985.4,108.5L985.4,109.0L985.4,109.5L985.4,110.0L985.4,110.5L985.5,111.0L985.5,111.5L985.5,112.0L985.5,112.5L985.5,113.0L985.6,113.5L985.6,114.0L985.6,114.5L985.6,115.0L985.6,115.5L985.6,116.0L985.7,116.5L985.7,117.0L985.7,117.5L985.7,118.0L985.7,118.5L985.8,119.0L985.8,119.5L985.8,120.0L985.8,120.5L985.8,121.0L985.9,121.5L985.9,122.0L985.9,122.5L985.9,123.0L985.9,123.5L986.0,124.0L986.0,124.5L986.0,125.0L986.0,125.5L986.0,126.0L986.1,126.5L986.1,127.0L986.1,127.5L986.1,128.0L986.1,128.5L986.1,129.0L986.2,129.4L986.2,129.9L986.2,130.4L986.2,130.9L986.2,131.4L986.3,131.9L986.3,132.4L986.3,132.9L986.3,133.4L986.3,133.9L986.4,134.4L986.4,134.9L986.4,135.4L986.4,135.9L986.4,136.4L986.4,136.9L986.5,137.4L986.5,137.9L986.5,138.4L986.5,138.9L986.5,139.4L986.6,139.9L986.6,140.4L986.6,140.9L986.6,141.4L986.6,141.9L986.6,142.4L986.7,142.9L986.7,143.4L986.7,143.9L986.7,144.4L986.7,144.9L986.8,145.4L986.8,145.9L986.8,146.4L986.8,146.9L986.8,147.4L986.8,147.9L986.9,148.4L986.9,148.9L986.9,149.4L986.9,149.9L986.9,150.4L986.9,150.9L987.0,151.4L987.0,151.9L987.0,152.4L987.0,152.9L987.0,153.4L987.1,153.9L987.1,154.4L987.1,154.9L987.1,155.4L987.1,155.9L987.1,156.4L987.2,156.9L987.2,157.4L987.2,157.9L987.2,158.4L987.2,158.9L987.2,159.4L987.3,159.9L987.3,160.4L987.3,160.9L987.3,161.4L987.3,161.9L987.3,162.4L987.4,162.9L987.4,163.4L987.4,163.9L987.4,164.4L987.4,164.9L987.4,165.4L987.5,165.9L987.5,166.4L987.5,166.9L987.5,167.4L987.5,167.9L987.5,168.4L987.6,168.9L987.6,169.4L987.6,169.9L987.6,170.4L987.6,170.9L987.6,171.4L987.7,171.9L987.7,172.4L987.7,172.9L987.7,173.4L987.7,173.9L987.7,174.4L987.8,174.9L987.8,175.4L987.8,175.9L987.8,176.4L987.8,176.9L987.8,177.4L987.9,177.9L987.9,178.4L987.9,178.9L987.9,179.4L987.9,179.9L987.9,180.4L988.0,180.9L988.0,181.4L988.0,181.9L988.0,182.4L988.0,182.9L988.0,183.4L988.0,183.9L988.1,184.4L988.1,184.9L988.1,185.4L988.1,185.9L988.1,186.4L988.1,186.9L988.2,187.4L988.2,187.9L988.2,188.4L988.2,188.9L988.2,189.4L988.2,189.9L988.3,190.4L988.3,190.9L988.3,191.4L988.3,191.9L988.3,192.4L988.3,192.9L988.3,193.4L988.4,193.9L988.4,194.4L988.4,194.9L988.4,195.4L988.4,195.9L988.4,196.4L988.5,196.9L988.5,197.4L988.5,197.9L988.5,198.4L988.5,198.9L988.5,199.4L988.6,199.9L988.6,200.4L988.6,200.9L988.6,201.4L988.6,201.9L988.6,202.4L988.6,202.9L988.7,203.4L988.7,203.9L988.7,204.4L988.7,204.9L988.7,205.4L988.7,205.9L988.8,206.4L988.8,206.9L988.8,207.4L988.8,207.9L988.8,208.4L988.8,208.9L988.8,209.4L988.9,209.9L988.9,210.4L988.9,210.9L988.9,211.4L988.9,211.9L988.9,212.4L989.0,212.9L989.0,213.4L989.0,213.9L989.0,214.4L989.0,214.9L989.0,215.4L989.0,215.9L989.1,216.4L989.1,216.9L989.1,217.4L989.1,217.9L989.1,218.4L989.1,218.9L989.1,219.4L989.2,219.9L989.2,220.4L989.2,220.9L989.2,221.4L989.2,221.9L989.2,222.4L989.3,222.9L989.3,223.4L989.3,223.9L989.3,224.4L989.3,224.9L989.3,225.4L989.3,225.9L989.4,226.4L989.4,226.9L989.4,227.4L989.4,227.9L989.4,228.4L989.4,228.9L989.4,229.4L989.5,229.9L989.5,230.4L989.5,230.9L989.5,231.4L989.5,231.9L989.5,232.4L989.5,232.9L989.6,233.4L989.6,233.9L989.6,234.4L989.6,234.9L989.6,235.4L989.6,235.9L989.7,236.4L989.7,236.9L989.7,237.4L989.7,237.9L989.7,238.4L989.7,238.9L989.7,239.4L989.8,239.9L989.8,240.4L989.8,240.9L989.8,241.4L989.8,241.9L989.8,242.4L989.8,242.9L989.9,243.4L989.9,243.9L989.9,244.4L989.9,244.9L989.9,245.4L989.9,245.9L989.9,246.4L990.0,246.9L990.0,247.4L990.0,247.9L990.0,248.4L990.0,248.9L990.0,249.4L990.1,249.9L990.1,250.4L990.1,250.9L990.1,251.4L990.1,251.9L990.1,252.4L990.1,252.9L990.2,253.4L990.2,253.9L990.2,254.4L990.2,254.9L990.2,255.4L990.2,255.9L990.2,256.4L990.3,256.9L990.3,257.4L990.3,257.9L990.3,258.4L990.3,258.9L990.3,259.4L990.3,259.9L990.4,260.4L990.4,260.9L990.4,261.4L990.4,261.9L990.4,262.4L990.4,262.9L990.4,263.4L990.5,263.9L990.5,264.4L990.5,264.9L990.5,265.4L990.5,265.9L990.5,266.4L990.5,266.9L990.6,267.4L990.6,267.9L990.6,268.4L990.6,268.9L990.6,269.4L990.6,269.9L990.7,270.4L990.7,270.9L990.7,271.4L990.7,271.9L990.7,272.4L990.7,272.9L990.7,273.4L990.8,273.9L990.8,274.4L990.8,274.9L990.8,275.4L990.8,275.9L990.8,276.4L990.8,276.9L990.9,277.4L990.9,277.9L990.9,278.4L990.9,278.9L990.9,279.4L990.9,279.9L990.9,280.4L991.0,280.9L991.0,281.4L991.0,281.9L991.0,282.4L991.0,282.9L991.0,283.4L991.0,283.9L991.1,284.4L991.1,284.9L991.1,285.4L991.1,285.9L991.1,286.4L991.1,286.9L991.2,287.4L991.2,287.9L991.2,288.4L991.2,288.9L991.2,289.4L991.2,289.9L991.2,290.4L991.3,290.9L991.3,291.4L991.3,291.9L991.3,292.4L991.3,292.9L991.3,293.4L991.3,293.9L991.4,294.4L991.4,294.9L991.4,295.4L991.4,295.9L991.4,296.4L991.4,296.9L991.5,297.4L991.5,297.9L991.5,298.4L991.5,298.9L991.5,299.4L991.5,299.9L991.5,300.4L991.6,300.9L991.6,301.4L991.6,301.9L991.6,302.4L991.6,302.9L991.6,303.4L991.6,303.9L991.7,304.4L991.7,304.9L991.7,305.4L991.7,305.9L991.7,306.4L991.7,306.9L991.8,307.4L991.8,307.9L991.8,308.4L991.8,308.9L991.8,309.4L991.8,309.9L991.8,310.4L991.9,310.9L991.9,311.4L991.9,311.9L991.9,312.4L991.9,312.9L991.9,313.4L991.9,313.9L992.0,314.4L992.0,314.9L992.0,315.4L992.0,315.9L992.0,316.4L992.0,316.9L992.1,317.4L992.1,317.9L992.1,318.4L992.1,318.9L992.1,319.4L992.1,319.9L992.1,320.4L992.2,320.9L992.2,321.4L992.2,321.9L992.2,322.4L992.2,322.9L992.2,323.4L992.3,323.9L992.3,324.4L992.3,324.9L992.3,325.4L992.3,325.9L992.3,326.4L992.3,326.9L992.4,327.4L992.4,327.9L992.4,328.4L992.4,328.9L992.4,329.4L992.4,329.9L992.5,330.4L992.5,330.9L992.5,331.4L992.5,331.9L992.5,332.4L992.5,332.9L992.5,333.4L992.6,333.9L992.6,334.4L992.6,334.9L992.6,335.4L992.6,335.9L992.6,336.4L992.7,336.9L992.7,337.4L992.7,337.9L992.7,338.4L992.7,338.9L992.7,339.4L992.8,339.9L992.8,340.4L992.8,340.9L992.8,341.4L992.8,341.9L992.8,342.4L992.8,342.9L992.9,343.4L992.9,343.9L992.9,344.4L992.9,344.9L992.9,345.4L992.9,345.9L993.0,346.4L993.0,346.9L993.0,347.4L993.0,347.9L993.0,348.4L993.0,348.9L993.1,349.4L993.1,349.9L993.1,350.4L993.1,350.9L993.1,351.3L993.1,351.8L993.2,352.3L993.2,352.8L993.2,353.3L993.2,353.8L993.2,354.3L993.2,354.8L993.3,355.3L993.3,355.8L993.3,356.3L993.3,356.8L993.3,357.3L993.3,357.8L993.4,358.3L993.4,358.8L993.4,359.3L993.4,359.8L993.4,360.3L993.4,360.8L993.5,361.3L993.5,361.8L993.5,362.3L993.5,362.8L993.5,363.3L993.5,363.8L993.5,364.3L993.6,364.8L993.6,365.3L993.6,365.8L993.6,366.3L993.6,366.8L993.6,367.3L993.7,367.8L993.7,368.3L993.7,368.8L993.7,369.3L993.7,369.8L993.8,370.3L993.8,370.8L993.8,371.3L993.8,371.8L993.8,372.3L993.8,372.8L993.9,373.3L993.9,373.8L993.9,374.3L993.9,374.8L993.9,375.3L993.9,375.8L994.0,376.3L994.0,376.8L994.0,377.3L994.0,377.8L994.0,378.3L994.0,378.8L994.1,379.3L994.1,379.8L994.1,380.3L994.1,380.8L994.1,381.3L994.1,381.8L994.2,382.3L994.2,382.8L994.2,383.3L994.2,383.8L994.2,384.3L994.2,384.8L994.3,385.3L994.3,385.8L994.3,386.3L994.3,386.8L994.3,387.3L994.4,387.8L994.4,388.3L994.4,388.8L994.4,389.3L994.4,389.8L994.4,390.3L994.5,390.8L994.5,391.3L994.5,391.8L994.5,392.3L994.5,392.8L994.5,393.3L994.6,393.8L994.6,394.3L994.6,394.8L994.6,395.3L994.6,395.8L994.7,396.3L994.7,396.8L994.7,397.3L994.7,397.8L994.7,398.3L994.7,398.8L994.8,399.3L994.8,399.8L994.8,400.3L994.8,400.8L994.8,401.3L994.9,401.8L994.9,402.3L994.9,402.8L994.9,403.3L994.9,403.8L994.9,404.3L995.0,404.8L995.0,405.3L995.0,405.8L995.0,406.3L995.0,406.8L995.1,407.3L995.1,407.8L995.1,408.3L995.1,408.8L995.1,409.3L995.2,409.8L995.2,410.3L995.2,410.8L995.2,411.3L995.2,411.8L995.2,412.3L995.3,412.8L995.3,413.3L995.3,413.8L995.3,414.3L995.3,414.8L995.4,415.3L995.4,415.8L995.4,416.3L995.4,416.8L995.4,417.3L995.5,417.8L995.5,418.3L995.5,418.8L995.5,419.3L995.5,419.8L995.6,420.3L995.6,420.8L995.6,421.3L995.6,421.8L995.6,422.3L995.6,422.8L995.7,423.3L995.7,423.8L995.7,424.3L995.7,424.8L995.7,425.3L995.8,425.8L995.8,426.3L995.8,426.8L995.8,427.3L995.8,427.8L995.9,428.3L995.9,428.8L995.9,429.3L995.9,429.8L995.9,430.3L996.0,430.8L996.0,431.3L996.0,431.8L996.0,432.3L996.0,432.8L996.1,433.3L996.1,433.8L996.1,434.3L996.1,434.8L996.1,435.3L996.2,435.8L996.2,436.3L996.2,436.8L996.2,437.3L996.2,437.8L996.3,438.3L996.3,438.8L996.3,439.3L996.3,439.8L996.3,440.3L996.4,440.8L996.4,441.3L996.4,441.8L996.4,442.3L996.5,442.8L996.5,443.3L996.5,443.8L996.5,444.3L996.5,444.8L996.6,445.3L996.6,445.8L996.6,446.3L996.6,446.8L996.6,447.3L996.7,447.8L996.7,448.3L996.7,448.8L996.7,449.3L996.7,449.8L996.8,450.3L996.8,450.8L996.8,451.3L996.8,451.8L996.8,452.3L996.9,452.8L996.9,453.3L996.9,453.8L996.9,454.3L997.0,454.8L997.0,455.3L997.0,455.8L997.0,456.3L997.0,456.8L997.1,457.3L997.1,457.8L997.1,458.3L997.1,458.8L997.2,459.3L997.2,459.8L997.2,460.3L997.2,460.8L997.2,461.3L997.3,461.8L997.3,462.3L997.3,462.8L997.3,463.3L997.4,463.8L997.4,464.3L997.4,464.8L997.4,465.3L997.4,465.8L997.5,466.3L997.5,466.8L997.5,467.3L997.5,467.8L997.6,468.3L997.6,468.8L997.6,469.2L997.6,469.7L997.6,470.2L997.7,470.7L997.7,471.2L997.7,471.7L997.7,472.2L997.8,472.7L997.8,473.2L997.8,473.7L997.8,474.2L997.9,474.7L997.9,475.2L997.9,475.7L997.9,476.2L998.0,476.7L998.0,477.2L998.0,477.7L998.0,478.2L998.1,478.7L998.1,479.2L998.1,479.7L998.1,480.2L998.1,480.7L998.2,481.2L998.2,481.7L998.2,482.2L998.2,482.7L998.3,483.2L998.3,483.7L998.3,484.2L998.3,484.7L998.4,485.2L998.4,485.7L998.4,486.2L998.4,486.7L998.5,487.2L998.5,487.7L998.5,488.2L998.5,488.7L998.6,489.2L998.6,489.7L998.6,490.2L998.7,490.7L998.7,491.2L998.7,491.7L998.7,492.2L998.8,492.7L998.8,493.2L998.8,493.7L998.8,494.2L998.9,494.7L998.9,495.2L998.9,495.7L998.9,496.2L999.0,496.7L999.0,497.2L999.0,497.7L999.0,498.2L999.1,498.7L999.1,499.2L999.1,499.7L999.2,500.2L999.2,500.7L999.2,501.2L999.2,501.7L999.3,502.2L999.3,502.7L999.3,503.2L999.3,503.7L999.4,504.2L999.4,504.7L999.4,505.2L999.5,505.7L999.5,506.2L999.5,506.7L999.5,507.2L999.6,507.7L999.6,508.2L999.6,508.7L999.7,509.2L999.7,509.7L999.7,510.2L999.8,510.7L999.8,511.2L999.8,511.7L999.9,512.2L999.9,512.7L999.9,513.2L1000.0,513.7L1000.0,514.2L1000.0,514.7L1000.1,515.2L1000.1,515.7L1000.1,516.2L1000.2,516.7L1000.2,517.2L1000.3,517.7L1000.3,518.2L1000.4,518.7L1000.4,519.2L1000.4,519.7L1000.5,520.2L1000.5,520.7L1000.6,521.2L1000.6,521.7L1000.7,522.2L1000.7,522.7L1000.8,523.2L1000.9,523.6L1000.9,524.1L1001.0,524.6L1001.0,525.1L1001.1,525.6L1001.2,526.1L1001.2,526.6L1001.3,527.1L1001.3,527.6L1001.4,528.1L1001.5,528.6L1001.5,529.1L1001.6,529.5L1001.7,530.0L1001.7,530.5L1001.8,531.0L1001.9,531.5L1001.9,532.0L1002.0,532.5L1002.0,533.0L1002.1,533.5L1002.2,534.0L1002.2,534.5L1002.3,535.0L1002.4,535.5L1002.4,536.0L1002.5,536.5L1002.5,537.0L1002.6,537.5L1002.6,538.0L1002.7,538.5L1002.7,539.0L1002.8,539.5L1002.8,540.0L1002.9,540.5L1002.9,541.0L1003.0,541.5L1003.0,542.0L1003.1,542.5L1003.1,543.0L1003.1,543.5L1003.2,544.0L1003.2,544.5L1003.2,545.0L1003.3,545.5L1003.3,546.1L1003.3,546.6L1003.3,547.1L1003.3,547.6L1003.4,548.1L1003.4,548.6L1003.4,549.2L1003.4,549.7L1003.5,550.2L1003.5,550.7L1003.6,551.2L1003.7,551.7L1003.7,552.2L1003.8,552.7L1003.9,553.2L1004.1,553.7L1004.2,554.1L1004.3,554.6L1004.5,555.1L1004.7,555.5L1004.9,556.0L1005.1,556.4L1005.4,556.9L1005.7,557.3L1006.0,557.7L1006.3,558.1L1006.7,558.5L1007.1,558.9L1007.5,559.3L1007.9,559.6L1008.3,559.8L1008.7,560.0L1009.2,560.1L1009.6,560.0L1010.0,559.9L1010.4,559.7L1010.7,559.5L1011.1,559.2L1011.5,558.8L1011.9,558.4L1012.3,558.0L1012.7,557.5L1013.0,557.1L1013.4,556.7L1013.9,556.2L1014.3,555.9L1014.7,555.5L1015.1,555.2L1015.6,554.9L1016.1,554.7L1016.5,554.5L1017.0,554.3L1017.5,554.1L1018.0,554.0L1018.5,553.9L1018.9,553.8L1019.4,553.8L1019.9,553.7L1020.4,553.7L1020.9,553.7L1021.4,553.7L1021.9,553.7L1022.4,553.8L1022.8,553.8L1023.3,553.9L1023.8,554.0L1024.3,554.1L1024.7,554.2L1025.2,554.3L1025.7,554.5L1026.1,554.6L1026.6,554.8L1027.1,554.9L1027.5,555.1L1028.0,555.3L1028.5,555.5L1028.9,555.6L1029.4,555.8L1029.9,556.0L1030.3,556.2L1030.8,556.5L1031.2,556.7L1031.7,556.9L1032.2,557.1L1032.6,557.3L1033.1,557.6L1033.6,557.8L1034.0,558.0L1034.5,558.2L1034.9,558.5L1035.4,558.7L1035.9,558.9L1036.3,559.1L1036.8,559.3L1037.2,559.5L1037.7,559.8L1038.2,560.0L1038.6,560.2L1039.1,560.3L1039.6,560.5L1040.0,560.7L1040.5,560.9L1041.0,561.1L1041.5,561.2L1041.9,561.4L1042.4,561.5L1042.9,561.7L1043.3,561.8L1043.8,562.0L1044.3,562.1L1044.8,562.3L1045.3,562.4L1045.7,562.5L1046.2,562.6L1046.7,562.7L1047.2,562.8L1047.7,562.9L1048.1,563.0L1048.6,563.1L1049.1,563.2L1049.6,563.2L1050.1,563.3L1050.6,563.4L1051.1,563.4L1051.6,563.5L1052.0,563.5L1052.5,563.5L1053.0,563.5L1053.5,563.6L1054.0,563.6L1054.5,563.6L1055.0,563.6L1055.5,563.6L1056.0,563.6L1056.5,563.5L1057.0,563.5L1057.5,563.5L1058.0,563.4L1058.5,563.4L1059.0,563.4L1059.5,563.3L1060.0,563.3L1060.5,563.3L1061.1,563.2L1061.6,563.2L1062.1,563.1L1062.6,563.1L1063.1,563.1L1063.6,563.0L1064.1,563.0L1064.6,563.0L1065.1,562.9L1065.6,562.9L1066.1,562.9L1066.6,562.9L1067.1,562.9L1067.6,562.9L1068.1,562.9L1068.6,562.9L1069.1,562.9L1069.6,563.0L1070.1,563.0L1070.6,563.1L1071.1,563.1L1071.6,563.2L1072.1,563.3L1072.6,563.3L1073.1,563.4L1073.5,563.5L1074.0,563.6L1074.5,563.7L1075.0,563.8L1075.5,563.9L1076.0,563.9L1076.5,564.0L1077.0,564.1L1077.5,564.2L1078.0,564.3L1078.5,564.4L1079.0,564.4L1079.5,564.5L1079.9,564.6L1080.4,564.6L1080.9,564.7L1081.4,564.7L1081.9,564.8L1082.4,564.8L1082.9,564.8L1083.4,564.8L1083.9,564.8L1084.4,564.8L1084.9,564.8L1085.4,564.8L1085.9,564.8L1086.4,564.7L1086.9,564.7L1087.4,564.6L1087.9,564.5L1088.4,564.4L1088.9,564.3L1089.4,564.2L1089.9,564.1L1090.3,564.0L1090.8,563.9L1091.3,563.7L1091.8,563.5L1092.2,563.4L1092.7,563.2L1093.1,563.0L1093.6,562.8L1094.1,562.5L1094.5,562.3L1095.0,562.1L1095.4,561.9L1095.9,561.6L1096.3,561.4L1096.8,561.2L1097.2,561.0L1097.7,560.8L1098.2,560.6L1098.6,560.4L1099.1,560.2L1099.6,560.1L1100.0,560.0L1100.5,559.9L1101.0,559.8L1101.5,559.7L1102.0,559.7L1102.5,559.6L1103.0,559.6L1103.5,559.5L1104.0,559.5L1104.5,559.4L1105.0,559.4L1105.5,559.3L1106.0,559.3L1106.5,559.2L1107.0,559.1L1107.5,559.1L1108.0,559.0L1108.5,558.9L1109.0,558.8L1109.5,558.7L1110.0,558.7L1110.5,558.6L1111.0,558.5L1111.5,558.5L1111.9,558.4L1112.4,558.3L1112.9,558.3L1113.4,558.3L1113.9,558.2L1114.4,558.2L1114.9,558.2L1115.4,558.2L1115.9,558.3L1116.4,558.3L1116.9,558.3L1117.4,558.4L1117.9,558.5L1118.4,558.5L1118.9,558.6L1119.4,558.7L1119.9,558.8L1120.4,558.9L1120.9,558.9L1121.4,559.0L1121.9,559.1L1122.4,559.2L1122.9,559.3L1123.3,559.4L1123.8,559.5L1124.3,559.6L1124.8,559.7L1125.3,559.8L1125.8,559.9L1126.3,560.0L1126.8,560.1L1127.3,560.2L1127.8,560.3L1128.2,560.4L1128.7,560.5L1129.2,560.6L1129.7,560.7L1130.2,560.8L1130.7,560.9L1131.2,561.0L1131.6,561.1L1132.1,561.2L1132.6,561.3L1133.1,561.4L1133.6,561.5L1134.1,561.6L1134.6,561.8L1135.1,561.9L1135.5,562.0L1136.0,562.1L1136.5,562.2L1137.0,562.3L1137.5,562.4L1138.0,562.6L1138.5,562.7L1139.0,562.8L1139.4,562.9L1139.9,563.0L1140.4,563.1L1140.9,563.2L1141.4,563.3L1141.9,563.5L1142.4,563.6L1142.9,563.7L1143.4,563.8L1143.9,563.9L1144.3,564.0L1144.8,564.1L1145.3,564.2L1145.8,564.3L1146.3,564.4L1146.8,564.5L1147.3,564.6L1147.8,564.7L1148.3,564.8L1148.8,564.8L1149.3,564.9L1149.8,565.0L1150.2,565.1L1150.7,565.1L1151.2,565.2L1151.7,565.3L1152.2,565.3L1152.7,565.4L1153.2,565.5L1153.7,565.5L1154.2,565.6L1154.7,565.6L1155.2,565.6L1155.7,565.7L1156.2,565.7L1156.7,565.7L1157.2,565.8L1157.6,565.8L1158.1,565.8L1158.6,565.8L1159.1,565.8L1159.6,565.8L1160.1,565.8L1160.6,565.8L1161.1,565.7L1161.6,565.7L1162.1,565.7L1162.6,565.6L1163.1,565.6L1163.6,565.5L1164.1,565.5L1164.6,565.4L1165.1,565.4L1165.6,565.3L1166.1,565.2L1166.6,565.1L1167.1,565.0L1167.6,564.9L1168.1,564.8L1168.5,564.8L1169.0,564.7L1169.5,564.6L1170.0,564.5L1170.5,564.4L1171.0,564.3L1171.5,564.2L1172.0,564.1L1172.5,564.0L1173.0,563.9L1173.5,563.8L1174.0,563.7L1174.5,563.6L1175.0,563.6L1175.5,563.5L1176.0,563.4L1176.5,563.4L1177.0,563.3L1177.5,563.3L1178.0,563.2L1178.5,563.2L1179.0,563.2L1179.5,563.2L1179.9,563.2L1180.4,563.2L1180.9,563.2L1181.4,563.2L1181.9,563.3L1182.4,563.3L1182.9,563.4L1183.4,563.4L1183.9,563.5L1184.4,563.6L1184.9,563.6L1185.4,563.7L1185.9,563.8L1186.4,563.9L1186.9,564.0L1187.3,564.1L1187.8,564.1L1188.3,564.2L1188.8,564.3L1189.3,564.4L1189.8,564.5L1190.3,564.6L1190.8,564.7L1191.3,564.8L1191.8,564.9L1192.3,565.0L1192.8,565.1L1193.3,565.2L1193.8,565.3L1194.3,565.4L1194.8,565.4L1195.3,565.5L1195.8,565.6L1196.2,565.7L1196.7,565.7L1197.2,565.8L1197.7,565.8L1198.2,565.9L1198.7,566.0L1199.2,566.0L1199.7,566.1L1200.2,566.1L1200.7,566.2L1201.2,566.2L1201.7,566.3L1202.2,566.3L1202.7,566.3L1203.2,566.4L1203.7,566.4L1204.2,566.4L1204.7,566.4L1205.2,566.5L1205.7,566.5L1206.2,566.5L1206.7,566.5L1207.2,566.5L1207.7,566.6L1208.2,566.6L1208.7,566.6L1209.2,566.6L1209.7,566.6L1210.2,566.6L1210.7,566.6L1211.2,566.6L1211.7,566.6L1212.2,566.6L1212.7,566.6L1213.2,566.5L1213.7,566.5L1214.2,566.5L1214.7,566.5L1215.2,566.5L1215.7,566.5L1216.2,566.4L1216.7,566.4L1217.2,566.4L1217.7,566.4L1218.2,566.3L1218.7,566.3L1219.2,566.3L1219.7,566.2L1220.2,566.2L1220.7,566.2L1221.2,566.1L1221.7,566.1L1222.2,566.1L1222.7,566.1L1223.2,566.0L1223.7,566.0L1224.2,566.0L1224.7,565.9L1225.2,565.9L1225.7,565.9L1226.2,565.8L1226.7,565.8L1227.2,565.8L1227.7,565.8L1228.2,565.7L1228.7,565.7L1229.2,565.7L1229.7,565.7L1230.2,565.7L1230.7,565.6L1231.2,565.6L1231.7,565.6L1232.2,565.6L1232.7,565.6L1233.2,565.6L1233.7,565.6L1234.2,565.6L1234.7,565.6L1235.2,565.6L1235.7,565.6L1236.2,565.6L1236.7,565.6L1237.2,565.6L1237.7,565.6L1238.2,565.6L1238.7,565.6L1239.2,565.6L1239.7,565.6L1240.2,565.6L1240.7,565.6L1241.2,565.6L1241.7,565.6L1242.2,565.6L1242.7,565.7L1243.2,565.7L1243.7,565.7L1244.2,565.7L1244.7,565.7L1245.2,565.7L1245.7,565.7L1246.2,565.8L1246.7,565.8L1247.2,565.8L1247.7,565.8L1248.2,565.8L1248.7,565.9L1249.2,565.9L1249.7,565.9L1250.2,565.9L1250.7,566.0L1251.1,566.0L1251.6,566.0L1252.1,566.0L1252.6,566.0L1253.1,566.1L1253.6,566.1L1254.1,566.1L1254.6,566.1L1255.1,566.2L1255.6,566.2L1256.1,566.2L1256.6,566.2L1257.1,566.3L1257.6,566.3L1258.1,566.3L1258.6,566.3L1259.1,566.3L1259.6,566.4L1260.1,566.4L1260.6,566.4L1261.1,566.4L1261.6,566.4L1262.1,566.5L1262.6,566.5L1263.1,566.5L1263.6,566.5L1264.1,566.5L1264.6,566.6L1265.1,566.6L1265.6,566.6L1266.1,566.6L1266.6,566.6L1267.1,566.6L1267.6,566.7L1268.1,566.7L1268.6,566.7L1269.1,566.7L1269.6,566.7L1270.1,566.7L1270.6,566.7L1271.1,566.8L1271.6,566.8L1272.1,566.8L1272.6,566.8L1273.1,566.8L1273.6,566.8L1274.1,566.8L1274.6,566.8L1275.1,566.8L1275.6,566.9L1276.1,566.9L1276.6,566.9L1277.1,566.9L1277.6,566.9L1278.1,566.9L1278.6,566.9L1279.1,566.9L1279.6,566.9L1280.1,566.9L1280.6,567.0L1281.1,567.0L1281.6,567.0L1282.1,567.0L1282.6,567.0L1283.1,567.0L1283.6,567.0L1284.1,567.0L1284.6,567.0L1285.1,567.0L1285.6,567.0L1286.1,567.0L1286.6,567.0L1287.1,567.0L1287.6,567.1L1288.1,567.1L1288.6,567.1L1289.1,567.1L1289.6,567.1L1290.1,567.1L1290.6,567.1L1291.1,567.1L1291.6,567.1L1292.1,567.1L1292.6,567.1L1293.1,567.1L1293.6,567.1L1294.1,567.1L1294.6,567.1L1295.1,567.1L1295.6,567.1L1296.1,567.2L1296.6,567.2L1297.1,567.2L1297.6,567.2L1298.1,567.2L1298.6,567.2L1299.1,567.2L1299.6,567.2L1300.1,567.2L1300.6,567.2L1301.1,567.2L1301.6,567.2L1302.1,567.2L1302.6,567.2L1303.1,567.3L1303.6,567.3L1304.1,567.3L1304.6,567.3L1305.1,567.3L1305.6,567.3L1306.1,567.3L1306.6,567.3L1307.1,567.4L1307.6,567.4L1308.1,567.4L1308.6,567.4L1309.1,567.5L1309.6,567.5L1310.1,567.5L1310.6,567.6L1311.1,567.6L1311.6,567.7L1312.1,567.7L1312.6,567.7L1313.1,567.7L1313.6,567.7L1314.1,567.6L1314.6,567.5L1315.1,567.4L1315.6,567.3L1316.0,567.1L1316.5,567.0L1317.0,566.8L1317.4,566.6L1317.9,566.3L1318.4,566.1L1318.8,565.9L1319.3,565.7L1319.7,565.4L1320.2,565.2L1320.6,565.0L1321.1,564.8L1321.5,564.6L1322.0,564.4L1322.4,564.2L1322.9,564.0L1323.3,563.8L1323.8,563.6L1324.3,563.4L1324.7,563.2L1325.2,563.1L1325.7,562.9L1326.2,562.8L1326.7,562.6L1327.1,562.5L1327.6,562.4L1328.1,562.2L1328.6,562.1L1329.1,562.0L1329.6,561.9L1330.1,561.9L1330.6,561.8L1331.1,561.7L1331.6,561.7L1332.1,561.7L1332.6,561.7L1333.1,561.7L1333.6,561.8L1334.1,561.8L1334.6,561.9L1335.1,562.0L1335.6,562.1L1336.1,562.2L1336.6,562.3L1337.0,562.4L1337.5,562.6L1338.0,562.7L1338.5,562.9L1338.9,563.0L1339.4,563.2L1339.9,563.3L1340.4,563.5L1340.9,563.6L1341.3,563.8L1341.8,564.0L1342.3,564.1L1342.7,564.3L1343.2,564.5L1343.7,564.6L1344.2,564.8L1344.6,565.0L1345.1,565.1L1345.6,565.3L1346.0,565.5L1346.5,565.6L1347.0,565.8L1347.5,565.9L1347.9,566.1L1348.4,566.2L1348.9,566.4L1349.4,566.5L1349.8,566.7L1350.3,566.8L1350.8,567.0L1351.3,567.1L1351.8,567.2L1352.2,567.4L1352.7,567.5L1353.2,567.6L1353.7,567.7L1354.2,567.8L1354.7,567.9L1355.2,568.0L1355.7,568.1L1356.1,568.2L1356.6,568.2L1357.1,568.3L1357.6,568.4L1358.1,568.4L1358.6,568.5L1359.1,568.6L1359.6,568.6L1360.1,568.7L1360.6,568.7L1361.1,568.8L1361.6,568.8L1362.1,568.8L1362.6,568.9L1363.1,568.9L1363.6,569.0L1364.1,569.0L1364.6,569.0L1365.1,569.0L1365.6,569.1L1366.1,569.1L1366.6,569.1L1367.1,569.1L1367.6,569.1L1368.1,569.2L1368.6,569.2L1369.1,569.2L1369.6,569.2L1370.1,569.2L1370.6,569.2L1371.1,569.2L1371.6,569.2L1372.1,569.2L1372.6,569.3L1373.1,569.3L1373.6,569.3L1374.1,569.3L1374.6,569.3L1375.1,569.3L1375.6,569.3L1376.1,569.3L1376.6,569.3L1377.1,569.3L1377.6,569.3L1378.1,569.3L1378.6,569.3L1379.1,569.3L1379.6,569.3L1380.1,569.3L1380.6,569.3L1381.1,569.3L1381.6,569.3L1382.1,569.3L1382.6,569.3L1383.1,569.3L1383.6,569.3L1384.1,569.3L1384.6,569.3L1385.1,569.3L1385.6,569.3L1386.1,569.3L1386.6,569.3L1387.1,569.3L1387.6,569.3L1388.1,569.3L1388.6,569.3L1389.1,569.3L1389.6,569.3L1390.1,569.3L1390.6,569.3L1391.1,569.3L1391.6,569.3L1392.1,569.3L1392.6,569.3L1393.1,569.3L1393.6,569.3L1394.1,569.3L1394.6,569.3L1395.1,569.3L1395.6,569.3L1396.1,569.3L1396.6,569.3L1397.1,569.3L1397.6,569.3L1398.1,569.3L1398.6,569.3L1399.1,569.3L1399.6,569.3L1400.1,569.3L1400.6,569.3L1401.1,569.3L1401.6,569.3L1402.1,569.3L1402.6,569.3L1403.1,569.3L1403.6,569.3L1404.1,569.3L1404.6,569.3L1405.1,569.3L1405.6,569.3L1406.1,569.3L1406.6,569.4L1407.1,569.4L1407.6,569.4L1408.1,569.4L1408.6,569.4L1409.1,569.4L1409.6,569.4L1410.1,569.4L1410.6,569.4L1411.1,569.4L1411.6,569.4L1412.1,569.4L1412.6,569.4L1413.1,569.4L1413.6,569.4L1414.1,569.4L1414.6,569.4L1415.1,569.4L1415.6,569.4L1416.1,569.4L1416.6,569.4L1417.1,569.4L1417.6,569.4L1418.1,569.4L1418.6,569.4L1419.1,569.4L1419.6,569.4L1420.1,569.4L1420.6,569.4L1421.1,569.4L1421.6,569.4L1422.1,569.4L1422.6,569.4L1423.1,569.4L1423.6,569.3L1424.1,569.3L1424.6,569.3L1425.1,569.3L1425.6,569.3L1426.1,569.3L1426.6,569.3L1427.1,569.3L1427.6,569.3L1428.1,569.3L1428.6,569.3L1429.1,569.3L1429.6,569.2L1430.1,569.2L1430.6,569.2L1431.1,569.2L1431.6,569.2L1432.1,569.2L1432.6,569.2L1433.1,569.1L1433.6,569.1L1434.1,569.1L1434.6,569.1L1435.1,569.1L1435.6,569.1L1436.1,569.0L1436.6,569.0L1437.1,569.0L1437.6,569.0L1438.1,569.0L1438.6,568.9L1439.1,568.9L1439.6,568.9L1440.1,568.9L1440.6,568.8L1441.1,568.8L1441.6,568.8L1442.1,568.8L1442.6,568.7L1443.1,568.7L1443.6,568.7L1444.1,568.7L1444.6,568.7L1445.1,568.6L1445.6,568.6L1446.1,568.6L1446.6,568.6L1447.1,568.6L1447.6,568.5L1448.1,568.5L1448.6,568.5L1449.1,568.5L1449.6,568.5L1450.1,568.4L1450.6,568.4L1451.1,568.4L1451.6,568.4L1452.1,568.4L1452.6,568.4L1453.1,568.4L1453.6,568.4L1454.1,568.4L1454.6,568.4L1455.1,568.3L1455.6,568.3L1456.1,568.3L1456.6,568.3L1457.1,568.3L1457.6,568.3L1458.1,568.3L1458.6,568.4L1459.1,568.4L1459.6,568.4L1460.1,568.4L1460.6,568.4L1461.0,568.4"/>
</g>
<path d="M836.50,569.70 L836.50,10.45 L1461.40,10.45 L1461.40,569.70" fill="none" stroke="#000" stroke-width="2.8" stroke-linejoin="round"/>
<line x1="836.30" y1="569.6" x2="1463.90" y2="569.6" stroke="#000" stroke-width="3.9"/>
<g stroke="#000" stroke-width="2.6">
<line x1="836.50" y1="569.90" x2="836.50" y2="550.10"/>
<line x1="857.37" y1="569.90" x2="857.37" y2="560.00"/>
<line x1="878.24" y1="569.90" x2="878.24" y2="560.00"/>
<line x1="899.11" y1="569.90" x2="899.11" y2="560.00"/>
<line x1="919.98" y1="569.90" x2="919.98" y2="560.00"/>
<line x1="940.85" y1="569.90" x2="940.85" y2="550.10"/>
<line x1="961.72" y1="569.90" x2="961.72" y2="560.00"/>
<line x1="982.59" y1="569.90" x2="982.59" y2="560.00"/>
<line x1="1003.46" y1="569.90" x2="1003.46" y2="560.00"/>
<line x1="1024.33" y1="569.90" x2="1024.33" y2="560.00"/>
<line x1="1045.20" y1="569.90" x2="1045.20" y2="550.10"/>
<line x1="1066.07" y1="569.90" x2="1066.07" y2="560.00"/>
<line x1="1086.94" y1="569.90" x2="1086.94" y2="560.00"/>
<line x1="1107.81" y1="569.90" x2="1107.81" y2="560.00"/>
<line x1="1128.68" y1="569.90" x2="1128.68" y2="560.00"/>
<line x1="1149.55" y1="569.90" x2="1149.55" y2="550.10"/>
<line x1="1170.42" y1="569.90" x2="1170.42" y2="560.00"/>
<line x1="1191.29" y1="569.90" x2="1191.29" y2="560.00"/>
<line x1="1212.16" y1="569.90" x2="1212.16" y2="560.00"/>
<line x1="1233.03" y1="569.90" x2="1233.03" y2="560.00"/>
<line x1="1253.90" y1="569.90" x2="1253.90" y2="550.10"/>
<line x1="1274.77" y1="569.90" x2="1274.77" y2="560.00"/>
<line x1="1295.64" y1="569.90" x2="1295.64" y2="560.00"/>
<line x1="1316.51" y1="569.90" x2="1316.51" y2="560.00"/>
<line x1="1337.38" y1="569.90" x2="1337.38" y2="560.00"/>
<line x1="1358.25" y1="569.90" x2="1358.25" y2="550.10"/>
<line x1="1379.12" y1="569.90" x2="1379.12" y2="560.00"/>
<line x1="1399.99" y1="569.90" x2="1399.99" y2="560.00"/>
<line x1="1420.86" y1="569.90" x2="1420.86" y2="560.00"/>
<line x1="1441.73" y1="569.90" x2="1441.73" y2="560.00"/>
<line x1="1462.60" y1="569.90" x2="1462.60" y2="550.10"/>
<line x1="836.50" y1="569.90" x2="856.70" y2="569.90"/>
<line x1="836.50" y1="547.52" x2="846.40" y2="547.52"/>
<line x1="836.50" y1="525.14" x2="846.40" y2="525.14"/>
<line x1="836.50" y1="502.77" x2="846.40" y2="502.77"/>
<line x1="836.50" y1="480.39" x2="846.40" y2="480.39"/>
<line x1="836.50" y1="458.01" x2="856.70" y2="458.01"/>
<line x1="836.50" y1="435.63" x2="846.40" y2="435.63"/>
<line x1="836.50" y1="413.25" x2="846.40" y2="413.25"/>
<line x1="836.50" y1="390.88" x2="846.40" y2="390.88"/>
<line x1="836.50" y1="368.50" x2="846.40" y2="368.50"/>
<line x1="836.50" y1="346.12" x2="856.70" y2="346.12"/>
<line x1="836.50" y1="323.74" x2="846.40" y2="323.74"/>
<line x1="836.50" y1="301.36" x2="846.40" y2="301.36"/>
<line x1="836.50" y1="278.99" x2="846.40" y2="278.99"/>
<line x1="836.50" y1="256.61" x2="846.40" y2="256.61"/>
<line x1="836.50" y1="234.23" x2="856.70" y2="234.23"/>
<line x1="836.50" y1="211.85" x2="846.40" y2="211.85"/>
<line x1="836.50" y1="189.47" x2="846.40" y2="189.47"/>
<line x1="836.50" y1="167.10" x2="846.40" y2="167.10"/>
<line x1="836.50" y1="144.72" x2="846.40" y2="144.72"/>
<line x1="836.50" y1="122.34" x2="856.70" y2="122.34"/>
<line x1="836.50" y1="99.96" x2="846.40" y2="99.96"/>
<line x1="836.50" y1="77.58" x2="846.40" y2="77.58"/>
<line x1="836.50" y1="55.21" x2="846.40" y2="55.21"/>
<line x1="836.50" y1="32.83" x2="846.40" y2="32.83"/>
<line x1="836.50" y1="10.45" x2="856.70" y2="10.45"/>
</g>
<g font-size="29.3">
<text x="822.50" y="580.00" text-anchor="end">0</text>
<text x="822.50" y="468.11" text-anchor="end">1</text>
<text x="822.50" y="356.22" text-anchor="end">2</text>
<text x="822.50" y="244.33" text-anchor="end">3</text>
<text x="822.50" y="132.44" text-anchor="end">4</text>
<text x="822.50" y="20.55" text-anchor="end">5</text>
<text x="836.10" y="604.3" text-anchor="middle">100</text>
<text x="940.45" y="604.3" text-anchor="middle">150</text>
<text x="1044.80" y="604.3" text-anchor="middle">200</text>
<text x="1149.15" y="604.3" text-anchor="middle">250</text>
<text x="1253.50" y="604.3" text-anchor="middle">300</text>
<text x="1357.85" y="604.3" text-anchor="middle">350</text>
<text x="1462.20" y="604.3" text-anchor="middle">400</text>
</g>
<text x="1148.90" y="649.3" font-size="29.3" text-anchor="middle">f [Hz]</text>
<text transform="translate(783.10,433.00) rotate(-90)" font-size="29.3">PSD of CH*' [a.u.<tspan font-size="19" dy="-12.5">2</tspan><tspan dy="12.5">/Hz]</tspan></text>
<line x1="1205.90" y1="44.00" x2="1356.10" y2="44.00" stroke="#cc0000" stroke-width="2.5"/>
<line x1="1205.90" y1="83.75" x2="1356.10" y2="83.75" stroke="#00cc00" stroke-width="2.5"/>
<line x1="1205.90" y1="123.50" x2="1356.10" y2="123.50" stroke="#1414ff" stroke-width="2.5"/>
<g font-size="29.8">
<text transform="translate(1366.10,51.80) scale(1,1.060)" x="0" y="0">C<tspan font-size="21" dy="8.4">2</tspan><tspan dy="-8.4">H</tspan><tspan font-size="21" dy="8.4">4</tspan></text>
<text transform="translate(1366.10,91.80) scale(1,1.060)" x="0" y="0">C<tspan font-size="21" dy="8.4">2</tspan><tspan dy="-8.4">H</tspan><tspan font-size="21">6</tspan></text>
<text transform="translate(1366.10,131.80) scale(1,1.060)" x="0" y="0">C<tspan font-size="21" dy="8.4">3</tspan><tspan dy="-8.4">H</tspan><tspan font-size="21" dy="8.4">8</tspan></text>
</g>
</svg></body></html>
